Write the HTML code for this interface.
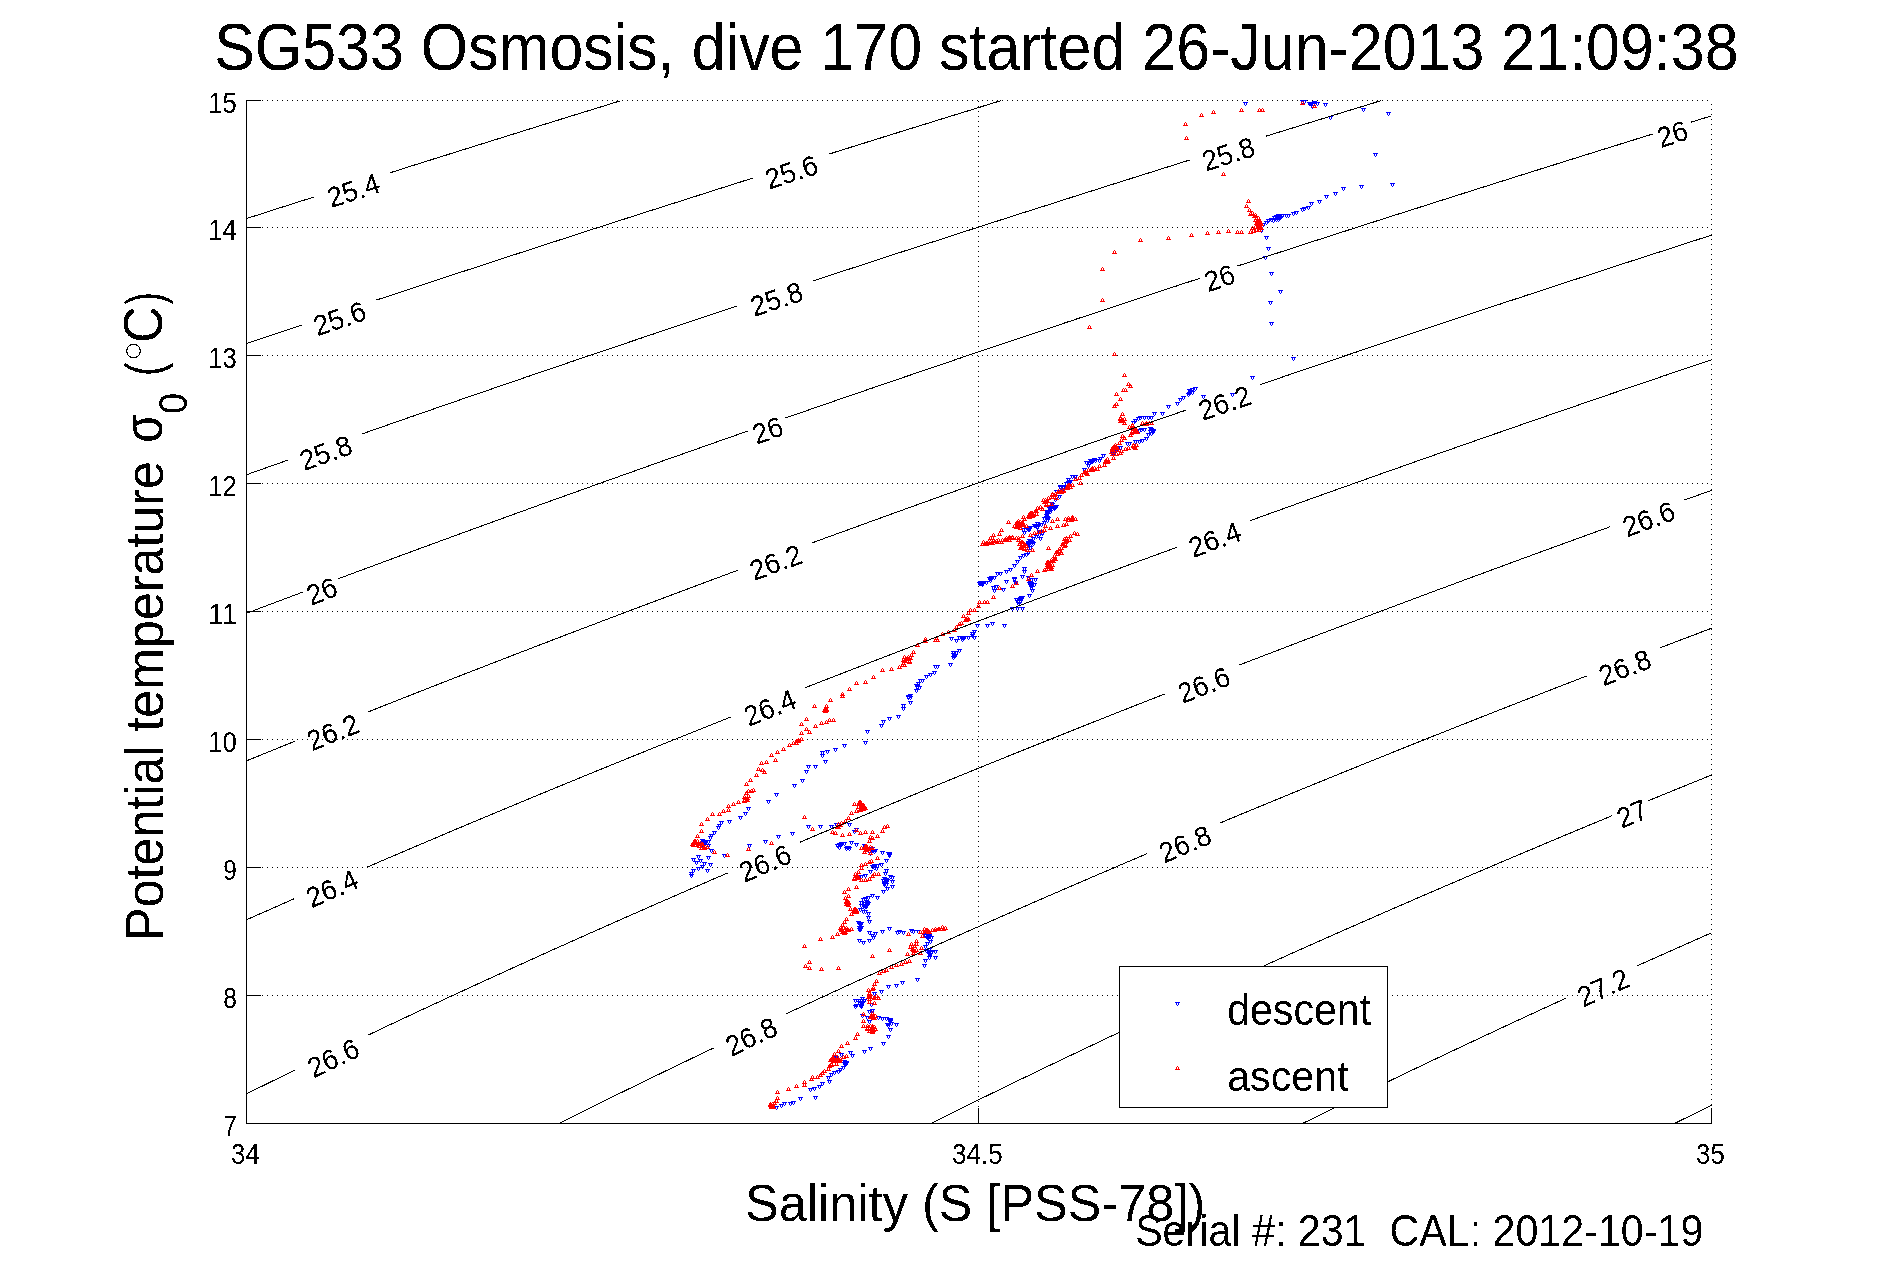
<!DOCTYPE html>
<html><head><meta charset="utf-8"><style>
html,body{margin:0;padding:0;background:#fff;}
svg{display:block;}
text{font-family:"Liberation Sans", sans-serif;fill:#000;filter:url(#bin);}
</style></head><body>
<svg width="1891" height="1262" viewBox="0 0 1891 1262">
<defs><filter id="bin" x="-5%" y="-20%" width="110%" height="140%" color-interpolation-filters="sRGB"><feComponentTransfer><feFuncA type="discrete" tableValues="0 1"/></feComponentTransfer></filter></defs>
<rect x="0" y="0" width="1891" height="1262" fill="#fff"/>
<text transform="matrix(0.93765 0.00000 0.00000 1.01818 214.187 69.855)" font-size="65">SG533 Osmosis, dive 170 started 26-Jun-2013 21:09:38</text>
<path d="M247 100.5H1712M247 227.5H1712M247 355.5H1712M247 483.5H1712M247 611.5H1712M247 739.5H1712M247 867.5H1712M247 995.5H1712M978.5 101V1123M1711.5 104V1123" stroke="#000" stroke-width="1" stroke-dasharray="1 4" fill="none" shape-rendering="crispEdges"/>
<text transform="translate(352.00 184.19) rotate(-17.64) translate(-0.5 6.5) scale(0.92 1)" font-size="30" text-anchor="middle" dominant-baseline="central">25.4</text>
<text transform="translate(338.00 312.20) rotate(-18.46) translate(-0.5 6.5) scale(0.92 1)" font-size="30" text-anchor="middle" dominant-baseline="central">25.6</text>
<text transform="translate(790.00 165.69) rotate(-17.49) translate(-0.5 6.5) scale(0.92 1)" font-size="30" text-anchor="middle" dominant-baseline="central">25.6</text>
<text transform="translate(324.00 446.60) rotate(-19.41) translate(-0.5 6.5) scale(0.92 1)" font-size="30" text-anchor="middle" dominant-baseline="central">25.8</text>
<text transform="translate(775.00 292.82) rotate(-18.28) translate(-0.5 6.5) scale(0.92 1)" font-size="30" text-anchor="middle" dominant-baseline="central">25.8</text>
<text transform="translate(1227.00 147.69) rotate(-17.35) translate(-0.5 6.5) scale(0.92 1)" font-size="30" text-anchor="middle" dominant-baseline="central">25.8</text>
<text transform="translate(320.00 584.91) rotate(-20.52) translate(-0.5 6.5) scale(0.92 1)" font-size="30" text-anchor="middle" dominant-baseline="central">26</text>
<text transform="translate(766.00 424.06) rotate(-19.19) translate(-0.5 6.5) scale(0.92 1)" font-size="30" text-anchor="middle" dominant-baseline="central">26</text>
<text transform="translate(1218.00 271.70) rotate(-18.10) translate(-0.5 6.5) scale(0.92 1)" font-size="30" text-anchor="middle" dominant-baseline="central">26</text>
<text transform="translate(1671.00 127.70) rotate(-17.19) translate(-0.5 6.5) scale(0.92 1)" font-size="30" text-anchor="middle" dominant-baseline="central">26</text>
<text transform="translate(331.00 726.04) rotate(-21.81) translate(-0.5 6.5) scale(0.92 1)" font-size="30" text-anchor="middle" dominant-baseline="central">26.2</text>
<text transform="translate(774.00 556.18) rotate(-20.22) translate(-0.5 6.5) scale(0.92 1)" font-size="30" text-anchor="middle" dominant-baseline="central">26.2</text>
<text transform="translate(1223.00 396.68) rotate(-18.94) translate(-0.5 6.5) scale(0.92 1)" font-size="30" text-anchor="middle" dominant-baseline="central">26.2</text>
<text transform="translate(330.00 882.45) rotate(-23.46) translate(-0.5 6.5) scale(0.92 1)" font-size="30" text-anchor="middle" dominant-baseline="central">26.4</text>
<text transform="translate(768.00 701.60) rotate(-21.50) translate(-0.5 6.5) scale(0.92 1)" font-size="30" text-anchor="middle" dominant-baseline="central">26.4</text>
<text transform="translate(1213.00 533.40) rotate(-19.97) translate(-0.5 6.5) scale(0.92 1)" font-size="30" text-anchor="middle" dominant-baseline="central">26.4</text>
<text transform="translate(331.00 1052.03) rotate(-25.61) translate(-0.5 6.5) scale(0.92 1)" font-size="30" text-anchor="middle" dominant-baseline="central">26.6</text>
<text transform="translate(763.00 857.14) rotate(-23.09) translate(-0.5 6.5) scale(0.92 1)" font-size="30" text-anchor="middle" dominant-baseline="central">26.6</text>
<text transform="translate(1202.00 678.76) rotate(-21.22) translate(-0.5 6.5) scale(0.92 1)" font-size="30" text-anchor="middle" dominant-baseline="central">26.6</text>
<text transform="translate(1647.00 512.76) rotate(-19.75) translate(-0.5 6.5) scale(0.92 1)" font-size="30" text-anchor="middle" dominant-baseline="central">26.6</text>
<text transform="translate(749.00 1030.50) rotate(-25.21) translate(-0.5 6.5) scale(0.92 1)" font-size="30" text-anchor="middle" dominant-baseline="central">26.8</text>
<text transform="translate(1183.00 837.79) rotate(-22.80) translate(-0.5 6.5) scale(0.92 1)" font-size="30" text-anchor="middle" dominant-baseline="central">26.8</text>
<text transform="translate(1623.00 661.28) rotate(-21.00) translate(-0.5 6.5) scale(0.92 1)" font-size="30" text-anchor="middle" dominant-baseline="central">26.8</text>
<text transform="translate(1630.00 807.60) rotate(-22.40) translate(-0.5 6.5) scale(0.92 1)" font-size="30" text-anchor="middle" dominant-baseline="central">27</text>
<text transform="translate(1601.00 981.47) rotate(-24.38) translate(-0.5 6.5) scale(0.92 1)" font-size="30" text-anchor="middle" dominant-baseline="central">27.2</text>
<path d="M246.5 100V1124M246 1123.5H1712M246 100.5H261M246 227.5H261M246 355.5H261M246 483.5H261M246 611.5H261M246 739.5H261M246 867.5H261M246 995.5H261M246 1123.5H261M246.5 1108V1124M978.5 1108V1124M1711.5 1108V1124" stroke="#000" stroke-width="1" fill="none" shape-rendering="crispEdges"/>
<text transform="matrix(0.89655 0.00000 0.00000 1.00000 208.207 113.000)" font-size="28.6">15</text>
<text transform="matrix(0.89655 0.00000 0.00000 1.00000 208.207 240.000)" font-size="28.6">14</text>
<text transform="matrix(0.89655 0.00000 0.00000 1.00000 208.207 368.000)" font-size="28.6">13</text>
<text transform="matrix(0.89655 0.00000 0.00000 1.00000 208.207 496.000)" font-size="28.6">12</text>
<text transform="matrix(1.00000 0.00000 0.00000 1.00000 208.000 624.000)" font-size="28.6">11</text>
<text transform="matrix(0.89655 0.00000 0.00000 1.00000 208.207 752.000)" font-size="28.6">10</text>
<text transform="matrix(0.85714 0.00000 0.00000 1.00000 223.143 880.000)" font-size="28.6">9</text>
<text transform="matrix(0.85714 0.00000 0.00000 1.00000 223.143 1008.000)" font-size="28.6">8</text>
<text transform="matrix(0.85714 0.00000 0.00000 1.00000 223.143 1136.000)" font-size="28.6">7</text>
<text transform="matrix(0.90000 0.00000 0.00000 1.00000 231.100 1164.000)" font-size="28.6">34</text>
<text transform="matrix(0.90741 0.00000 0.00000 1.00000 952.093 1164.000)" font-size="28.6">34.5</text>
<text transform="matrix(0.90000 0.00000 0.00000 1.00000 1696.100 1164.000)" font-size="28.6">35</text>
<path d="M774 1106h5v1h-5zM775 1107h1v2h-1zM777 1107h1v2h-1zM776 1109h1v1h-1zM779 1104h5v1h-5zM780 1105h1v2h-1zM782 1105h1v2h-1zM781 1107h1v1h-1zM782 1102h5v1h-5zM783 1103h1v2h-1zM785 1103h1v2h-1zM784 1105h1v1h-1zM788 1102h5v1h-5zM789 1103h1v2h-1zM791 1103h1v2h-1zM790 1105h1v1h-1zM791 1101h5v1h-5zM792 1102h1v2h-1zM794 1102h1v2h-1zM793 1104h1v1h-1zM798 1097h5v1h-5zM799 1098h1v2h-1zM801 1098h1v2h-1zM800 1100h1v1h-1zM813 1096h5v1h-5zM814 1097h1v2h-1zM816 1097h1v2h-1zM815 1099h1v1h-1zM808 1088h5v1h-5zM809 1089h1v2h-1zM811 1089h1v2h-1zM810 1091h1v1h-1zM812 1087h5v1h-5zM813 1088h1v2h-1zM815 1088h1v2h-1zM814 1090h1v1h-1zM817 1085h5v1h-5zM818 1086h1v2h-1zM820 1086h1v2h-1zM819 1088h1v1h-1zM820 1082h5v1h-5zM821 1083h1v2h-1zM823 1083h1v2h-1zM822 1085h1v1h-1zM827 1080h5v1h-5zM828 1081h1v2h-1zM830 1081h1v2h-1zM829 1083h1v1h-1zM826 1076h5v1h-5zM827 1077h1v2h-1zM829 1077h1v2h-1zM828 1079h1v1h-1zM829 1073h5v1h-5zM830 1074h1v2h-1zM832 1074h1v2h-1zM831 1076h1v1h-1zM832 1071h5v1h-5zM833 1072h1v2h-1zM835 1072h1v2h-1zM834 1074h1v1h-1zM836 1070h5v1h-5zM837 1071h1v2h-1zM839 1071h1v2h-1zM838 1073h1v1h-1zM838 1068h5v1h-5zM839 1069h1v2h-1zM841 1069h1v2h-1zM840 1071h1v1h-1zM841 1066h5v1h-5zM842 1067h1v2h-1zM844 1067h1v2h-1zM843 1069h1v1h-1zM843 1062h5v1h-5zM844 1063h1v2h-1zM846 1063h1v2h-1zM845 1065h1v1h-1zM842 1060h5v1h-5zM843 1061h1v2h-1zM845 1061h1v2h-1zM844 1063h1v1h-1zM844 1061h5v1h-5zM845 1062h1v2h-1zM847 1062h1v2h-1zM846 1064h1v1h-1zM834 1056h5v1h-5zM835 1057h1v2h-1zM837 1057h1v2h-1zM836 1059h1v1h-1zM839 1053h5v1h-5zM840 1054h1v2h-1zM842 1054h1v2h-1zM841 1056h1v1h-1zM848 1051h5v1h-5zM849 1052h1v2h-1zM851 1052h1v2h-1zM850 1054h1v1h-1zM850 1054h5v1h-5zM851 1055h1v2h-1zM853 1055h1v2h-1zM852 1057h1v1h-1zM862 1050h5v1h-5zM863 1051h1v2h-1zM865 1051h1v2h-1zM864 1053h1v1h-1zM868 1047h5v1h-5zM869 1048h1v2h-1zM871 1048h1v2h-1zM870 1050h1v1h-1zM881 1042h5v1h-5zM882 1043h1v2h-1zM884 1043h1v2h-1zM883 1045h1v1h-1zM886 1035h5v1h-5zM887 1036h1v2h-1zM889 1036h1v2h-1zM888 1038h1v1h-1zM888 1028h5v1h-5zM889 1029h1v2h-1zM891 1029h1v2h-1zM890 1031h1v1h-1zM886 1024h5v1h-5zM887 1025h1v2h-1zM889 1025h1v2h-1zM888 1027h1v1h-1zM888 1020h5v1h-5zM889 1021h1v2h-1zM891 1021h1v2h-1zM890 1023h1v1h-1zM894 1023h5v1h-5zM895 1024h1v2h-1zM897 1024h1v2h-1zM896 1026h1v1h-1zM888 1018h5v1h-5zM889 1019h1v2h-1zM891 1019h1v2h-1zM890 1021h1v1h-1zM884 1017h5v1h-5zM885 1018h1v2h-1zM887 1018h1v2h-1zM886 1020h1v1h-1zM880 1017h5v1h-5zM881 1018h1v2h-1zM883 1018h1v2h-1zM882 1020h1v1h-1zM876 1016h5v1h-5zM877 1017h1v2h-1zM879 1017h1v2h-1zM878 1019h1v1h-1zM867 1020h5v1h-5zM868 1021h1v2h-1zM870 1021h1v2h-1zM869 1023h1v1h-1zM865 1016h5v1h-5zM866 1017h1v2h-1zM868 1017h1v2h-1zM867 1019h1v1h-1zM867 1010h5v1h-5zM868 1011h1v2h-1zM870 1011h1v2h-1zM869 1013h1v1h-1zM870 1009h5v1h-5zM871 1010h1v2h-1zM873 1010h1v2h-1zM872 1012h1v1h-1zM860 1014h5v1h-5zM861 1015h1v2h-1zM863 1015h1v2h-1zM862 1017h1v1h-1zM869 1003h5v1h-5zM870 1004h1v2h-1zM872 1004h1v2h-1zM871 1006h1v1h-1zM853 1005h5v1h-5zM854 1006h1v2h-1zM856 1006h1v2h-1zM855 1008h1v1h-1zM857 1001h5v1h-5zM858 1002h1v2h-1zM860 1002h1v2h-1zM859 1004h1v1h-1zM853 999h5v1h-5zM854 1000h1v2h-1zM856 1000h1v2h-1zM855 1002h1v1h-1zM860 997h5v1h-5zM861 998h1v2h-1zM863 998h1v2h-1zM862 1000h1v1h-1zM862 999h5v1h-5zM863 1000h1v2h-1zM865 1000h1v2h-1zM864 1002h1v1h-1zM858 1004h5v1h-5zM859 1005h1v2h-1zM861 1005h1v2h-1zM860 1007h1v1h-1zM872 992h5v1h-5zM873 993h1v2h-1zM875 993h1v2h-1zM874 995h1v1h-1zM879 990h5v1h-5zM880 991h1v2h-1zM882 991h1v2h-1zM881 993h1v1h-1zM886 985h5v1h-5zM887 986h1v2h-1zM889 986h1v2h-1zM888 988h1v1h-1zM894 984h5v1h-5zM895 985h1v2h-1zM897 985h1v2h-1zM896 987h1v1h-1zM900 981h5v1h-5zM901 982h1v2h-1zM903 982h1v2h-1zM902 984h1v1h-1zM915 978h5v1h-5zM916 979h1v2h-1zM918 979h1v2h-1zM917 981h1v1h-1zM922 964h5v1h-5zM923 965h1v2h-1zM925 965h1v2h-1zM924 967h1v1h-1zM923 959h5v1h-5zM924 960h1v2h-1zM926 960h1v2h-1zM925 962h1v1h-1zM766 800h5v1h-5zM767 801h1v2h-1zM769 801h1v2h-1zM768 803h1v1h-1zM763 840h5v1h-5zM764 841h1v2h-1zM766 841h1v2h-1zM765 843h1v1h-1zM776 835h5v1h-5zM777 836h1v2h-1zM779 836h1v2h-1zM778 838h1v1h-1zM790 832h5v1h-5zM791 833h1v2h-1zM793 833h1v2h-1zM792 835h1v1h-1zM806 825h5v1h-5zM807 826h1v2h-1zM809 826h1v2h-1zM808 828h1v1h-1zM818 825h5v1h-5zM819 826h1v2h-1zM821 826h1v2h-1zM820 828h1v1h-1zM829 825h5v1h-5zM830 826h1v2h-1zM832 826h1v2h-1zM831 828h1v1h-1zM834 823h5v1h-5zM835 824h1v2h-1zM837 824h1v2h-1zM836 826h1v1h-1zM847 823h5v1h-5zM848 824h1v2h-1zM850 824h1v2h-1zM849 826h1v1h-1zM852 830h5v1h-5zM853 831h1v2h-1zM855 831h1v2h-1zM854 833h1v1h-1zM854 828h5v1h-5zM855 829h1v2h-1zM857 829h1v2h-1zM856 831h1v1h-1zM835 844h5v1h-5zM836 845h1v2h-1zM838 845h1v2h-1zM837 847h1v1h-1zM839 842h5v1h-5zM840 843h1v2h-1zM842 843h1v2h-1zM841 845h1v1h-1zM842 842h5v1h-5zM843 843h1v2h-1zM845 843h1v2h-1zM844 845h1v1h-1zM846 846h5v1h-5zM847 847h1v2h-1zM849 847h1v2h-1zM848 849h1v1h-1zM847 847h5v1h-5zM848 848h1v2h-1zM850 848h1v2h-1zM849 850h1v1h-1zM849 841h5v1h-5zM850 842h1v2h-1zM852 842h1v2h-1zM851 844h1v1h-1zM854 843h5v1h-5zM855 844h1v2h-1zM857 844h1v2h-1zM856 846h1v1h-1zM862 844h5v1h-5zM863 845h1v2h-1zM865 845h1v2h-1zM864 847h1v1h-1zM863 849h5v1h-5zM864 850h1v2h-1zM866 850h1v2h-1zM865 852h1v1h-1zM867 850h5v1h-5zM868 851h1v2h-1zM870 851h1v2h-1zM869 853h1v1h-1zM870 849h5v1h-5zM871 850h1v2h-1zM873 850h1v2h-1zM872 852h1v1h-1zM873 849h5v1h-5zM874 850h1v2h-1zM876 850h1v2h-1zM875 852h1v1h-1zM880 851h5v1h-5zM881 852h1v2h-1zM883 852h1v2h-1zM882 854h1v1h-1zM886 852h5v1h-5zM887 853h1v2h-1zM889 853h1v2h-1zM888 855h1v1h-1zM887 854h5v1h-5zM888 855h1v2h-1zM890 855h1v2h-1zM889 857h1v1h-1zM884 859h5v1h-5zM885 860h1v2h-1zM887 860h1v2h-1zM886 862h1v1h-1zM879 863h5v1h-5zM880 864h1v2h-1zM882 864h1v2h-1zM881 866h1v1h-1zM870 865h5v1h-5zM871 866h1v2h-1zM873 866h1v2h-1zM872 868h1v1h-1zM872 866h5v1h-5zM873 867h1v2h-1zM875 867h1v2h-1zM874 869h1v1h-1zM875 864h5v1h-5zM876 865h1v2h-1zM878 865h1v2h-1zM877 867h1v1h-1zM868 870h5v1h-5zM869 871h1v2h-1zM871 871h1v2h-1zM870 873h1v1h-1zM863 874h5v1h-5zM864 875h1v2h-1zM866 875h1v2h-1zM865 877h1v1h-1zM859 875h5v1h-5zM860 876h1v2h-1zM862 876h1v2h-1zM861 878h1v1h-1zM884 869h5v1h-5zM885 870h1v2h-1zM887 870h1v2h-1zM886 872h1v1h-1zM883 872h5v1h-5zM884 873h1v2h-1zM886 873h1v2h-1zM885 875h1v1h-1zM888 875h5v1h-5zM889 876h1v2h-1zM891 876h1v2h-1zM890 878h1v1h-1zM890 876h5v1h-5zM891 877h1v2h-1zM893 877h1v2h-1zM892 879h1v1h-1zM885 879h5v1h-5zM886 880h1v2h-1zM888 880h1v2h-1zM887 882h1v1h-1zM882 882h5v1h-5zM883 883h1v2h-1zM885 883h1v2h-1zM884 885h1v1h-1zM884 883h5v1h-5zM885 884h1v2h-1zM887 884h1v2h-1zM886 886h1v1h-1zM890 880h5v1h-5zM891 881h1v2h-1zM893 881h1v2h-1zM892 883h1v1h-1zM890 885h5v1h-5zM891 886h1v2h-1zM893 886h1v2h-1zM892 888h1v1h-1zM885 887h5v1h-5zM886 888h1v2h-1zM888 888h1v2h-1zM887 890h1v1h-1zM881 890h5v1h-5zM882 891h1v2h-1zM884 891h1v2h-1zM883 893h1v1h-1zM875 896h5v1h-5zM876 897h1v2h-1zM878 897h1v2h-1zM877 899h1v1h-1zM870 894h5v1h-5zM871 895h1v2h-1zM873 895h1v2h-1zM872 897h1v1h-1zM866 896h5v1h-5zM867 897h1v2h-1zM869 897h1v2h-1zM868 899h1v1h-1zM863 897h5v1h-5zM864 898h1v2h-1zM866 898h1v2h-1zM865 900h1v1h-1zM861 898h5v1h-5zM862 899h1v2h-1zM864 899h1v2h-1zM863 901h1v1h-1zM859 901h5v1h-5zM860 902h1v2h-1zM862 902h1v2h-1zM861 904h1v1h-1zM862 902h5v1h-5zM863 903h1v2h-1zM865 903h1v2h-1zM864 905h1v1h-1zM859 904h5v1h-5zM860 905h1v2h-1zM862 905h1v2h-1zM861 907h1v1h-1zM858 908h5v1h-5zM859 909h1v2h-1zM861 909h1v2h-1zM860 911h1v1h-1zM861 910h5v1h-5zM862 911h1v2h-1zM864 911h1v2h-1zM863 913h1v1h-1zM863 910h5v1h-5zM864 911h1v2h-1zM866 911h1v2h-1zM865 913h1v1h-1zM866 912h5v1h-5zM867 913h1v2h-1zM869 913h1v2h-1zM868 915h1v1h-1zM866 916h5v1h-5zM867 917h1v2h-1zM869 917h1v2h-1zM868 919h1v1h-1zM867 920h5v1h-5zM868 921h1v2h-1zM870 921h1v2h-1zM869 923h1v1h-1zM856 921h5v1h-5zM857 922h1v2h-1zM859 922h1v2h-1zM858 924h1v1h-1zM859 922h5v1h-5zM860 923h1v2h-1zM862 923h1v2h-1zM861 925h1v1h-1zM857 926h5v1h-5zM858 927h1v2h-1zM860 927h1v2h-1zM859 929h1v1h-1zM857 928h5v1h-5zM858 929h1v2h-1zM860 929h1v2h-1zM859 931h1v1h-1zM867 931h5v1h-5zM868 932h1v2h-1zM870 932h1v2h-1zM869 934h1v1h-1zM870 934h5v1h-5zM871 935h1v2h-1zM873 935h1v2h-1zM872 937h1v1h-1zM873 932h5v1h-5zM874 933h1v2h-1zM876 933h1v2h-1zM875 935h1v1h-1zM880 930h5v1h-5zM881 931h1v2h-1zM883 931h1v2h-1zM882 933h1v1h-1zM887 927h5v1h-5zM888 928h1v2h-1zM890 928h1v2h-1zM889 930h1v1h-1zM895 931h5v1h-5zM896 932h1v2h-1zM898 932h1v2h-1zM897 934h1v1h-1zM897 930h5v1h-5zM898 931h1v2h-1zM900 931h1v2h-1zM899 933h1v1h-1zM901 931h5v1h-5zM902 932h1v2h-1zM904 932h1v2h-1zM903 934h1v1h-1zM909 929h5v1h-5zM910 930h1v2h-1zM912 930h1v2h-1zM911 932h1v1h-1zM911 930h5v1h-5zM912 931h1v2h-1zM914 931h1v2h-1zM913 933h1v1h-1zM916 930h5v1h-5zM917 931h1v2h-1zM919 931h1v2h-1zM918 933h1v1h-1zM857 939h5v1h-5zM858 940h1v2h-1zM860 940h1v2h-1zM859 942h1v1h-1zM861 941h5v1h-5zM862 942h1v2h-1zM864 942h1v2h-1zM863 944h1v1h-1zM867 939h5v1h-5zM868 940h1v2h-1zM870 940h1v2h-1zM869 942h1v1h-1zM871 936h5v1h-5zM872 937h1v2h-1zM874 937h1v2h-1zM873 939h1v1h-1zM923 934h5v1h-5zM924 935h1v2h-1zM926 935h1v2h-1zM925 937h1v1h-1zM927 935h5v1h-5zM928 936h1v2h-1zM930 936h1v2h-1zM929 938h1v1h-1zM929 936h5v1h-5zM930 937h1v2h-1zM932 937h1v2h-1zM931 939h1v1h-1zM928 940h5v1h-5zM929 941h1v2h-1zM931 941h1v2h-1zM930 943h1v1h-1zM925 942h5v1h-5zM926 943h1v2h-1zM928 943h1v2h-1zM927 945h1v1h-1zM923 945h5v1h-5zM924 946h1v2h-1zM926 946h1v2h-1zM925 948h1v1h-1zM924 949h5v1h-5zM925 950h1v2h-1zM927 950h1v2h-1zM926 952h1v1h-1zM929 951h5v1h-5zM930 952h1v2h-1zM932 952h1v2h-1zM931 954h1v1h-1zM933 950h5v1h-5zM934 951h1v2h-1zM936 951h1v2h-1zM935 953h1v1h-1zM933 956h5v1h-5zM934 957h1v2h-1zM936 957h1v2h-1zM935 959h1v1h-1zM927 956h5v1h-5zM928 957h1v2h-1zM930 957h1v2h-1zM929 959h1v1h-1zM746 807h5v1h-5zM747 808h1v2h-1zM749 808h1v2h-1zM748 810h1v1h-1zM743 812h5v1h-5zM744 813h1v2h-1zM746 813h1v2h-1zM745 815h1v1h-1zM738 816h5v1h-5zM739 817h1v2h-1zM741 817h1v2h-1zM740 819h1v1h-1zM727 820h5v1h-5zM728 821h1v2h-1zM730 821h1v2h-1zM729 823h1v1h-1zM719 821h5v1h-5zM720 822h1v2h-1zM722 822h1v2h-1zM721 824h1v1h-1zM717 824h5v1h-5zM718 825h1v2h-1zM720 825h1v2h-1zM719 827h1v1h-1zM716 826h5v1h-5zM717 827h1v2h-1zM719 827h1v2h-1zM718 829h1v1h-1zM712 831h5v1h-5zM713 832h1v2h-1zM715 832h1v2h-1zM714 834h1v1h-1zM709 834h5v1h-5zM710 835h1v2h-1zM712 835h1v2h-1zM711 837h1v1h-1zM708 836h5v1h-5zM709 837h1v2h-1zM711 837h1v2h-1zM710 839h1v1h-1zM706 840h5v1h-5zM707 841h1v2h-1zM709 841h1v2h-1zM708 843h1v1h-1zM703 841h5v1h-5zM704 842h1v2h-1zM706 842h1v2h-1zM705 844h1v1h-1zM700 841h5v1h-5zM701 842h1v2h-1zM703 842h1v2h-1zM702 844h1v1h-1zM697 842h5v1h-5zM698 843h1v2h-1zM700 843h1v2h-1zM699 845h1v1h-1zM706 844h5v1h-5zM707 845h1v2h-1zM709 845h1v2h-1zM708 847h1v1h-1zM709 849h5v1h-5zM710 850h1v2h-1zM712 850h1v2h-1zM711 852h1v1h-1zM722 854h5v1h-5zM723 855h1v2h-1zM725 855h1v2h-1zM724 857h1v1h-1zM747 844h5v1h-5zM748 845h1v2h-1zM750 845h1v2h-1zM749 847h1v1h-1zM696 855h5v1h-5zM697 856h1v2h-1zM699 856h1v2h-1zM698 858h1v1h-1zM706 856h5v1h-5zM707 857h1v2h-1zM709 857h1v2h-1zM708 859h1v1h-1zM691 858h5v1h-5zM692 859h1v2h-1zM694 859h1v2h-1zM693 861h1v1h-1zM694 861h5v1h-5zM695 862h1v2h-1zM697 862h1v2h-1zM696 864h1v1h-1zM698 859h5v1h-5zM699 860h1v2h-1zM701 860h1v2h-1zM700 862h1v1h-1zM702 862h5v1h-5zM703 863h1v2h-1zM705 863h1v2h-1zM704 865h1v1h-1zM708 863h5v1h-5zM709 864h1v2h-1zM711 864h1v2h-1zM710 866h1v1h-1zM700 865h5v1h-5zM701 866h1v2h-1zM703 866h1v2h-1zM702 868h1v1h-1zM696 867h5v1h-5zM697 868h1v2h-1zM699 868h1v2h-1zM698 870h1v1h-1zM691 869h5v1h-5zM692 870h1v2h-1zM694 870h1v2h-1zM693 872h1v1h-1zM689 872h5v1h-5zM690 873h1v2h-1zM692 873h1v2h-1zM691 875h1v1h-1zM689 874h5v1h-5zM690 875h1v2h-1zM692 875h1v2h-1zM691 877h1v1h-1zM705 869h5v1h-5zM706 870h1v2h-1zM708 870h1v2h-1zM707 872h1v1h-1zM774 793h5v1h-5zM775 794h1v2h-1zM777 794h1v2h-1zM776 796h1v1h-1zM792 784h5v1h-5zM793 785h1v2h-1zM795 785h1v2h-1zM794 787h1v1h-1zM800 779h5v1h-5zM801 780h1v2h-1zM803 780h1v2h-1zM802 782h1v1h-1zM804 770h5v1h-5zM805 771h1v2h-1zM807 771h1v2h-1zM806 773h1v1h-1zM806 765h5v1h-5zM807 766h1v2h-1zM809 766h1v2h-1zM808 768h1v1h-1zM813 765h5v1h-5zM814 766h1v2h-1zM816 766h1v2h-1zM815 768h1v1h-1zM823 760h5v1h-5zM824 761h1v2h-1zM826 761h1v2h-1zM825 763h1v1h-1zM820 754h5v1h-5zM821 755h1v2h-1zM823 755h1v2h-1zM822 757h1v1h-1zM820 751h5v1h-5zM821 752h1v2h-1zM823 752h1v2h-1zM822 754h1v1h-1zM825 750h5v1h-5zM826 751h1v2h-1zM828 751h1v2h-1zM827 753h1v1h-1zM833 748h5v1h-5zM834 749h1v2h-1zM836 749h1v2h-1zM835 751h1v1h-1zM842 744h5v1h-5zM843 745h1v2h-1zM845 745h1v2h-1zM844 747h1v1h-1zM863 741h5v1h-5zM864 742h1v2h-1zM866 742h1v2h-1zM865 744h1v1h-1zM865 730h5v1h-5zM866 731h1v2h-1zM868 731h1v2h-1zM867 733h1v1h-1zM879 724h5v1h-5zM880 725h1v2h-1zM882 725h1v2h-1zM881 727h1v1h-1zM881 720h5v1h-5zM882 721h1v2h-1zM884 721h1v2h-1zM883 723h1v1h-1zM887 717h5v1h-5zM888 718h1v2h-1zM890 718h1v2h-1zM889 720h1v1h-1zM896 715h5v1h-5zM897 716h1v2h-1zM899 716h1v2h-1zM898 718h1v1h-1zM901 707h5v1h-5zM902 708h1v2h-1zM904 708h1v2h-1zM903 710h1v1h-1zM901 704h5v1h-5zM902 705h1v2h-1zM904 705h1v2h-1zM903 707h1v1h-1zM908 701h5v1h-5zM909 702h1v2h-1zM911 702h1v2h-1zM910 704h1v1h-1zM906 696h5v1h-5zM907 697h1v2h-1zM909 697h1v2h-1zM908 699h1v1h-1zM908 694h5v1h-5zM909 695h1v2h-1zM911 695h1v2h-1zM910 697h1v1h-1zM914 689h5v1h-5zM915 690h1v2h-1zM917 690h1v2h-1zM916 692h1v1h-1zM915 686h5v1h-5zM916 687h1v2h-1zM918 687h1v2h-1zM917 689h1v1h-1zM916 682h5v1h-5zM917 683h1v2h-1zM919 683h1v2h-1zM918 685h1v1h-1zM918 679h5v1h-5zM919 680h1v2h-1zM921 680h1v2h-1zM920 682h1v1h-1zM920 679h5v1h-5zM921 680h1v2h-1zM923 680h1v2h-1zM922 682h1v1h-1zM924 675h5v1h-5zM925 676h1v2h-1zM927 676h1v2h-1zM926 678h1v1h-1zM928 673h5v1h-5zM929 674h1v2h-1zM931 674h1v2h-1zM930 676h1v1h-1zM932 671h5v1h-5zM933 672h1v2h-1zM935 672h1v2h-1zM934 674h1v1h-1zM933 665h5v1h-5zM934 666h1v2h-1zM936 666h1v2h-1zM935 668h1v1h-1zM935 665h5v1h-5zM936 666h1v2h-1zM938 666h1v2h-1zM937 668h1v1h-1zM948 663h5v1h-5zM949 664h1v2h-1zM951 664h1v2h-1zM950 666h1v1h-1zM951 656h5v1h-5zM952 657h1v2h-1zM954 657h1v2h-1zM953 659h1v1h-1zM951 653h5v1h-5zM952 654h1v2h-1zM954 654h1v2h-1zM953 656h1v1h-1zM954 651h5v1h-5zM955 652h1v2h-1zM957 652h1v2h-1zM956 654h1v1h-1zM957 649h5v1h-5zM958 650h1v2h-1zM960 650h1v2h-1zM959 652h1v1h-1zM954 639h5v1h-5zM955 640h1v2h-1zM957 640h1v2h-1zM956 642h1v1h-1zM998 572h5v1h-5zM999 573h1v2h-1zM1001 573h1v2h-1zM1000 575h1v1h-1zM1004 570h5v1h-5zM1005 571h1v2h-1zM1007 571h1v2h-1zM1006 573h1v1h-1zM1008 568h5v1h-5zM1009 569h1v2h-1zM1011 569h1v2h-1zM1010 571h1v1h-1zM1012 564h5v1h-5zM1013 565h1v2h-1zM1015 565h1v2h-1zM1014 567h1v1h-1zM1015 560h5v1h-5zM1016 561h1v2h-1zM1018 561h1v2h-1zM1017 563h1v1h-1zM1018 556h5v1h-5zM1019 557h1v2h-1zM1021 557h1v2h-1zM1020 559h1v1h-1zM1021 554h5v1h-5zM1022 555h1v2h-1zM1024 555h1v2h-1zM1023 557h1v1h-1zM1024 553h5v1h-5zM1025 554h1v2h-1zM1027 554h1v2h-1zM1026 556h1v1h-1zM1026 551h5v1h-5zM1027 552h1v2h-1zM1029 552h1v2h-1zM1028 554h1v1h-1zM1025 549h5v1h-5zM1026 550h1v2h-1zM1028 550h1v2h-1zM1027 552h1v1h-1zM1028 546h5v1h-5zM1029 547h1v2h-1zM1031 547h1v2h-1zM1030 549h1v1h-1zM1026 543h5v1h-5zM1027 544h1v2h-1zM1029 544h1v2h-1zM1028 546h1v1h-1zM1029 540h5v1h-5zM1030 541h1v2h-1zM1032 541h1v2h-1zM1031 543h1v1h-1zM1031 537h5v1h-5zM1032 538h1v2h-1zM1034 538h1v2h-1zM1033 540h1v1h-1zM1034 535h5v1h-5zM1035 536h1v2h-1zM1037 536h1v2h-1zM1036 538h1v1h-1zM1038 537h5v1h-5zM1039 538h1v2h-1zM1041 538h1v2h-1zM1040 540h1v1h-1zM1037 533h5v1h-5zM1038 534h1v2h-1zM1040 534h1v2h-1zM1039 536h1v1h-1zM1040 531h5v1h-5zM1041 532h1v2h-1zM1043 532h1v2h-1zM1042 534h1v1h-1zM1022 531h5v1h-5zM1023 532h1v2h-1zM1025 532h1v2h-1zM1024 534h1v1h-1zM1021 528h5v1h-5zM1022 529h1v2h-1zM1024 529h1v2h-1zM1023 531h1v1h-1zM1025 527h5v1h-5zM1026 528h1v2h-1zM1028 528h1v2h-1zM1027 530h1v1h-1zM1028 526h5v1h-5zM1029 527h1v2h-1zM1031 527h1v2h-1zM1030 529h1v1h-1zM1032 524h5v1h-5zM1033 525h1v2h-1zM1035 525h1v2h-1zM1034 527h1v1h-1zM1036 524h5v1h-5zM1037 525h1v2h-1zM1039 525h1v2h-1zM1038 527h1v1h-1zM1039 523h5v1h-5zM1040 524h1v2h-1zM1042 524h1v2h-1zM1041 526h1v1h-1zM1042 521h5v1h-5zM1043 522h1v2h-1zM1045 522h1v2h-1zM1044 524h1v1h-1zM1042 517h5v1h-5zM1043 518h1v2h-1zM1045 518h1v2h-1zM1044 520h1v1h-1zM1044 514h5v1h-5zM1045 515h1v2h-1zM1047 515h1v2h-1zM1046 517h1v1h-1zM1046 511h5v1h-5zM1047 512h1v2h-1zM1049 512h1v2h-1zM1048 514h1v1h-1zM1047 507h5v1h-5zM1048 508h1v2h-1zM1050 508h1v2h-1zM1049 510h1v1h-1zM1051 506h5v1h-5zM1052 507h1v2h-1zM1054 507h1v2h-1zM1053 509h1v1h-1zM1054 505h5v1h-5zM1055 506h1v2h-1zM1057 506h1v2h-1zM1056 508h1v1h-1zM1049 502h5v1h-5zM1050 503h1v2h-1zM1052 503h1v2h-1zM1051 505h1v1h-1zM1053 498h5v1h-5zM1054 499h1v2h-1zM1056 499h1v2h-1zM1055 501h1v1h-1zM1057 495h5v1h-5zM1058 496h1v2h-1zM1060 496h1v2h-1zM1059 498h1v1h-1zM1054 490h5v1h-5zM1055 491h1v2h-1zM1057 491h1v2h-1zM1056 493h1v1h-1zM1058 486h5v1h-5zM1059 487h1v2h-1zM1061 487h1v2h-1zM1060 489h1v1h-1zM1061 485h5v1h-5zM1062 486h1v2h-1zM1064 486h1v2h-1zM1063 488h1v1h-1zM1064 482h5v1h-5zM1065 483h1v2h-1zM1067 483h1v2h-1zM1066 485h1v1h-1zM1068 480h5v1h-5zM1069 481h1v2h-1zM1071 481h1v2h-1zM1070 483h1v1h-1zM1070 475h5v1h-5zM1071 476h1v2h-1zM1073 476h1v2h-1zM1072 478h1v1h-1zM1073 475h5v1h-5zM1074 476h1v2h-1zM1076 476h1v2h-1zM1075 478h1v1h-1zM1082 468h5v1h-5zM1083 469h1v2h-1zM1085 469h1v2h-1zM1084 471h1v1h-1zM1086 464h5v1h-5zM1087 465h1v2h-1zM1089 465h1v2h-1zM1088 467h1v1h-1zM1089 460h5v1h-5zM1090 461h1v2h-1zM1092 461h1v2h-1zM1091 463h1v1h-1zM1093 459h5v1h-5zM1094 460h1v2h-1zM1096 460h1v2h-1zM1095 462h1v1h-1zM1097 459h5v1h-5zM1098 460h1v2h-1zM1100 460h1v2h-1zM1099 462h1v1h-1zM1084 461h5v1h-5zM1085 462h1v2h-1zM1087 462h1v2h-1zM1086 464h1v1h-1zM1022 567h5v1h-5zM1023 568h1v2h-1zM1025 568h1v2h-1zM1024 570h1v1h-1zM1022 570h5v1h-5zM1023 571h1v2h-1zM1025 571h1v2h-1zM1024 573h1v1h-1zM1020 575h5v1h-5zM1021 576h1v2h-1zM1023 576h1v2h-1zM1022 578h1v1h-1zM1026 576h5v1h-5zM1027 577h1v2h-1zM1029 577h1v2h-1zM1028 579h1v1h-1zM1012 577h5v1h-5zM1013 578h1v2h-1zM1015 578h1v2h-1zM1014 580h1v1h-1zM949 637h5v1h-5zM950 638h1v2h-1zM952 638h1v2h-1zM951 640h1v1h-1zM957 636h5v1h-5zM958 637h1v2h-1zM960 637h1v2h-1zM959 639h1v1h-1zM962 636h5v1h-5zM963 637h1v2h-1zM965 637h1v2h-1zM964 639h1v1h-1zM966 636h5v1h-5zM967 637h1v2h-1zM969 637h1v2h-1zM968 639h1v1h-1zM970 634h5v1h-5zM971 635h1v2h-1zM973 635h1v2h-1zM972 637h1v1h-1zM972 636h5v1h-5zM973 637h1v2h-1zM975 637h1v2h-1zM974 639h1v1h-1zM970 632h5v1h-5zM971 633h1v2h-1zM973 633h1v2h-1zM972 635h1v1h-1zM972 630h5v1h-5zM973 631h1v2h-1zM975 631h1v2h-1zM974 633h1v1h-1zM975 624h5v1h-5zM976 625h1v2h-1zM978 625h1v2h-1zM977 627h1v1h-1zM985 624h5v1h-5zM986 625h1v2h-1zM988 625h1v2h-1zM987 627h1v1h-1zM990 622h5v1h-5zM991 623h1v2h-1zM993 623h1v2h-1zM992 625h1v1h-1zM1002 624h5v1h-5zM1003 625h1v2h-1zM1005 625h1v2h-1zM1004 627h1v1h-1zM1010 607h5v1h-5zM1011 608h1v2h-1zM1013 608h1v2h-1zM1012 610h1v1h-1zM1015 607h5v1h-5zM1016 608h1v2h-1zM1018 608h1v2h-1zM1017 610h1v1h-1zM1020 607h5v1h-5zM1021 608h1v2h-1zM1023 608h1v2h-1zM1022 610h1v1h-1zM1014 598h5v1h-5zM1015 599h1v2h-1zM1017 599h1v2h-1zM1016 601h1v1h-1zM1018 597h5v1h-5zM1019 598h1v2h-1zM1021 598h1v2h-1zM1020 600h1v1h-1zM1020 596h5v1h-5zM1021 597h1v2h-1zM1023 597h1v2h-1zM1022 599h1v1h-1zM1027 594h5v1h-5zM1028 595h1v2h-1zM1030 595h1v2h-1zM1029 597h1v1h-1zM1016 602h5v1h-5zM1017 603h1v2h-1zM1019 603h1v2h-1zM1018 605h1v1h-1zM977 582h5v1h-5zM978 583h1v2h-1zM980 583h1v2h-1zM979 585h1v1h-1zM980 581h5v1h-5zM981 582h1v2h-1zM983 582h1v2h-1zM982 584h1v1h-1zM984 581h5v1h-5zM985 582h1v2h-1zM987 582h1v2h-1zM986 584h1v1h-1zM988 577h5v1h-5zM989 578h1v2h-1zM991 578h1v2h-1zM990 580h1v1h-1zM992 576h5v1h-5zM993 577h1v2h-1zM995 577h1v2h-1zM994 579h1v1h-1zM995 572h5v1h-5zM996 573h1v2h-1zM998 573h1v2h-1zM997 575h1v1h-1zM991 586h5v1h-5zM992 587h1v2h-1zM994 587h1v2h-1zM993 589h1v1h-1zM994 585h5v1h-5zM995 586h1v2h-1zM997 586h1v2h-1zM996 588h1v1h-1zM992 589h5v1h-5zM993 590h1v2h-1zM995 590h1v2h-1zM994 592h1v1h-1zM1001 588h5v1h-5zM1002 589h1v2h-1zM1004 589h1v2h-1zM1003 591h1v1h-1zM1004 580h5v1h-5zM1005 581h1v2h-1zM1007 581h1v2h-1zM1006 583h1v1h-1zM1012 578h5v1h-5zM1013 579h1v2h-1zM1015 579h1v2h-1zM1014 581h1v1h-1zM1013 581h5v1h-5zM1014 582h1v2h-1zM1016 582h1v2h-1zM1015 584h1v1h-1zM1029 578h5v1h-5zM1030 579h1v2h-1zM1032 579h1v2h-1zM1031 581h1v1h-1zM1033 578h5v1h-5zM1034 579h1v2h-1zM1036 579h1v2h-1zM1035 581h1v1h-1zM1029 582h5v1h-5zM1030 583h1v2h-1zM1032 583h1v2h-1zM1031 585h1v1h-1zM1029 586h5v1h-5zM1030 587h1v2h-1zM1032 587h1v2h-1zM1031 589h1v1h-1zM1030 589h5v1h-5zM1031 590h1v2h-1zM1033 590h1v2h-1zM1032 592h1v1h-1zM1193 387h5v1h-5zM1194 388h1v2h-1zM1196 388h1v2h-1zM1195 390h1v1h-1zM1190 388h5v1h-5zM1191 389h1v2h-1zM1193 389h1v2h-1zM1192 391h1v1h-1zM1188 390h5v1h-5zM1189 391h1v2h-1zM1191 391h1v2h-1zM1190 393h1v1h-1zM1186 393h5v1h-5zM1187 394h1v2h-1zM1189 394h1v2h-1zM1188 396h1v1h-1zM1181 396h5v1h-5zM1182 397h1v2h-1zM1184 397h1v2h-1zM1183 399h1v1h-1zM1178 398h5v1h-5zM1179 399h1v2h-1zM1181 399h1v2h-1zM1180 401h1v1h-1zM1175 402h5v1h-5zM1176 403h1v2h-1zM1178 403h1v2h-1zM1177 405h1v1h-1zM1166 405h5v1h-5zM1167 406h1v2h-1zM1169 406h1v2h-1zM1168 408h1v1h-1zM1160 412h5v1h-5zM1161 413h1v2h-1zM1163 413h1v2h-1zM1162 415h1v1h-1zM1152 412h5v1h-5zM1153 413h1v2h-1zM1155 413h1v2h-1zM1154 415h1v1h-1zM1149 416h5v1h-5zM1150 417h1v2h-1zM1152 417h1v2h-1zM1151 419h1v1h-1zM1146 416h5v1h-5zM1147 417h1v2h-1zM1149 417h1v2h-1zM1148 419h1v1h-1zM1142 416h5v1h-5zM1143 417h1v2h-1zM1145 417h1v2h-1zM1144 419h1v1h-1zM1138 416h5v1h-5zM1139 417h1v2h-1zM1141 417h1v2h-1zM1140 419h1v1h-1zM1136 417h5v1h-5zM1137 418h1v2h-1zM1139 418h1v2h-1zM1138 420h1v1h-1zM1133 419h5v1h-5zM1134 420h1v2h-1zM1136 420h1v2h-1zM1135 422h1v1h-1zM1131 421h5v1h-5zM1132 422h1v2h-1zM1134 422h1v2h-1zM1133 424h1v1h-1zM1149 428h5v1h-5zM1150 429h1v2h-1zM1152 429h1v2h-1zM1151 431h1v1h-1zM1151 429h5v1h-5zM1152 430h1v2h-1zM1154 430h1v2h-1zM1153 432h1v1h-1zM1148 430h5v1h-5zM1149 431h1v2h-1zM1151 431h1v2h-1zM1150 433h1v1h-1zM1146 433h5v1h-5zM1147 434h1v2h-1zM1149 434h1v2h-1zM1148 436h1v1h-1zM1142 428h5v1h-5zM1143 429h1v2h-1zM1145 429h1v2h-1zM1144 431h1v1h-1zM1139 428h5v1h-5zM1140 429h1v2h-1zM1142 429h1v2h-1zM1141 431h1v1h-1zM1137 429h5v1h-5zM1138 430h1v2h-1zM1140 430h1v2h-1zM1139 432h1v1h-1zM1144 437h5v1h-5zM1145 438h1v2h-1zM1147 438h1v2h-1zM1146 440h1v1h-1zM1140 439h5v1h-5zM1141 440h1v2h-1zM1143 440h1v2h-1zM1142 442h1v1h-1zM1137 440h5v1h-5zM1138 441h1v2h-1zM1140 441h1v2h-1zM1139 443h1v1h-1zM1133 440h5v1h-5zM1134 441h1v2h-1zM1136 441h1v2h-1zM1135 443h1v1h-1zM1127 442h5v1h-5zM1128 443h1v2h-1zM1130 443h1v2h-1zM1129 445h1v1h-1zM1125 442h5v1h-5zM1126 443h1v2h-1zM1128 443h1v2h-1zM1127 445h1v1h-1zM1118 446h5v1h-5zM1119 447h1v2h-1zM1121 447h1v2h-1zM1120 449h1v1h-1zM1114 448h5v1h-5zM1115 449h1v2h-1zM1117 449h1v2h-1zM1116 451h1v1h-1zM1111 452h5v1h-5zM1112 453h1v2h-1zM1114 453h1v2h-1zM1113 455h1v1h-1zM1101 454h5v1h-5zM1102 455h1v2h-1zM1104 455h1v2h-1zM1103 457h1v1h-1zM1098 457h5v1h-5zM1099 458h1v2h-1zM1101 458h1v2h-1zM1100 460h1v1h-1zM1201 395h5v1h-5zM1202 396h1v2h-1zM1204 396h1v2h-1zM1203 398h1v1h-1zM1259 229h5v1h-5zM1260 230h1v2h-1zM1262 230h1v2h-1zM1261 232h1v1h-1zM1264 236h5v1h-5zM1265 237h1v2h-1zM1267 237h1v2h-1zM1266 239h1v1h-1zM1266 247h5v1h-5zM1267 248h1v2h-1zM1269 248h1v2h-1zM1268 250h1v1h-1zM1263 256h5v1h-5zM1264 257h1v2h-1zM1266 257h1v2h-1zM1265 259h1v1h-1zM1269 272h5v1h-5zM1270 273h1v2h-1zM1272 273h1v2h-1zM1271 275h1v1h-1zM1278 290h5v1h-5zM1279 291h1v2h-1zM1281 291h1v2h-1zM1280 293h1v1h-1zM1268 301h5v1h-5zM1269 302h1v2h-1zM1271 302h1v2h-1zM1270 304h1v1h-1zM1261 223h5v1h-5zM1262 224h1v2h-1zM1264 224h1v2h-1zM1263 226h1v1h-1zM1264 221h5v1h-5zM1265 222h1v2h-1zM1267 222h1v2h-1zM1266 224h1v1h-1zM1266 219h5v1h-5zM1267 220h1v2h-1zM1269 220h1v2h-1zM1268 222h1v1h-1zM1269 218h5v1h-5zM1270 219h1v2h-1zM1272 219h1v2h-1zM1271 221h1v1h-1zM1272 216h5v1h-5zM1273 217h1v2h-1zM1275 217h1v2h-1zM1274 219h1v1h-1zM1274 215h5v1h-5zM1275 216h1v2h-1zM1277 216h1v2h-1zM1276 218h1v1h-1zM1277 215h5v1h-5zM1278 216h1v2h-1zM1280 216h1v2h-1zM1279 218h1v1h-1zM1280 214h5v1h-5zM1281 215h1v2h-1zM1283 215h1v2h-1zM1282 217h1v1h-1zM1284 214h5v1h-5zM1285 215h1v2h-1zM1287 215h1v2h-1zM1286 217h1v1h-1zM1286 214h5v1h-5zM1287 215h1v2h-1zM1289 215h1v2h-1zM1288 217h1v1h-1zM1291 212h5v1h-5zM1292 213h1v2h-1zM1294 213h1v2h-1zM1293 215h1v1h-1zM1294 211h5v1h-5zM1295 212h1v2h-1zM1297 212h1v2h-1zM1296 214h1v1h-1zM1300 208h5v1h-5zM1301 209h1v2h-1zM1303 209h1v2h-1zM1302 211h1v1h-1zM1302 207h5v1h-5zM1303 208h1v2h-1zM1305 208h1v2h-1zM1304 210h1v1h-1zM1306 206h5v1h-5zM1307 207h1v2h-1zM1309 207h1v2h-1zM1308 209h1v1h-1zM1309 202h5v1h-5zM1310 203h1v2h-1zM1312 203h1v2h-1zM1311 205h1v1h-1zM1317 200h5v1h-5zM1318 201h1v2h-1zM1320 201h1v2h-1zM1319 203h1v1h-1zM1324 195h5v1h-5zM1325 196h1v2h-1zM1327 196h1v2h-1zM1326 198h1v1h-1zM1333 192h5v1h-5zM1334 193h1v2h-1zM1336 193h1v2h-1zM1335 195h1v1h-1zM1275 216h5v1h-5zM1276 217h1v2h-1zM1278 217h1v2h-1zM1277 219h1v1h-1zM1271 219h5v1h-5zM1272 220h1v2h-1zM1274 220h1v2h-1zM1273 222h1v1h-1zM1269 322h5v1h-5zM1270 323h1v2h-1zM1272 323h1v2h-1zM1271 325h1v1h-1zM1291 357h5v1h-5zM1292 358h1v2h-1zM1294 358h1v2h-1zM1293 360h1v1h-1zM1243 102h5v1h-5zM1244 103h1v2h-1zM1246 103h1v2h-1zM1245 105h1v1h-1zM1300 100h5v1h-5zM1301 101h1v2h-1zM1303 101h1v2h-1zM1302 103h1v1h-1zM1302 100h5v1h-5zM1303 101h1v2h-1zM1305 101h1v2h-1zM1304 103h1v1h-1zM1307 102h5v1h-5zM1308 103h1v2h-1zM1310 103h1v2h-1zM1309 105h1v1h-1zM1309 102h5v1h-5zM1310 103h1v2h-1zM1312 103h1v2h-1zM1311 105h1v1h-1zM1313 102h5v1h-5zM1314 103h1v2h-1zM1316 103h1v2h-1zM1315 105h1v1h-1zM1315 102h5v1h-5zM1316 103h1v2h-1zM1318 103h1v2h-1zM1317 105h1v1h-1zM1323 103h5v1h-5zM1324 104h1v2h-1zM1326 104h1v2h-1zM1325 106h1v1h-1zM1328 116h5v1h-5zM1329 117h1v2h-1zM1331 117h1v2h-1zM1330 119h1v1h-1zM1361 108h5v1h-5zM1362 109h1v2h-1zM1364 109h1v2h-1zM1363 111h1v1h-1zM1386 112h5v1h-5zM1387 113h1v2h-1zM1389 113h1v2h-1zM1388 115h1v1h-1zM1373 153h5v1h-5zM1374 154h1v2h-1zM1376 154h1v2h-1zM1375 156h1v1h-1zM1390 183h5v1h-5zM1391 184h1v2h-1zM1393 184h1v2h-1zM1392 186h1v1h-1zM1359 185h5v1h-5zM1360 186h1v2h-1zM1362 186h1v2h-1zM1361 188h1v1h-1zM1341 187h5v1h-5zM1342 188h1v2h-1zM1344 188h1v2h-1zM1343 190h1v1h-1zM1230 393h5v1h-5zM1231 394h1v2h-1zM1233 394h1v2h-1zM1232 396h1v1h-1zM1250 376h5v1h-5zM1251 377h1v2h-1zM1253 377h1v2h-1zM1252 379h1v1h-1zM844 1062h5v1h-5zM845 1063h1v2h-1zM847 1063h1v2h-1zM846 1065h1v1h-1zM842 1062h5v1h-5zM843 1063h1v2h-1zM845 1063h1v2h-1zM844 1065h1v1h-1zM842 1060h5v1h-5zM843 1061h1v2h-1zM845 1061h1v2h-1zM844 1063h1v1h-1zM843 1063h5v1h-5zM844 1064h1v2h-1zM846 1064h1v2h-1zM845 1066h1v1h-1zM888 1019h5v1h-5zM889 1020h1v2h-1zM891 1020h1v2h-1zM890 1022h1v1h-1zM885 1023h5v1h-5zM886 1024h1v2h-1zM888 1024h1v2h-1zM887 1026h1v1h-1zM887 1019h5v1h-5zM888 1020h1v2h-1zM890 1020h1v2h-1zM889 1022h1v1h-1zM889 1022h5v1h-5zM890 1023h1v2h-1zM892 1023h1v2h-1zM891 1025h1v1h-1zM886 1024h5v1h-5zM887 1025h1v2h-1zM889 1025h1v2h-1zM888 1027h1v1h-1zM854 1004h5v1h-5zM855 1005h1v2h-1zM857 1005h1v2h-1zM856 1007h1v1h-1zM859 1005h5v1h-5zM860 1006h1v2h-1zM862 1006h1v2h-1zM861 1008h1v1h-1zM857 999h5v1h-5zM858 1000h1v2h-1zM860 1000h1v2h-1zM859 1002h1v1h-1zM859 1002h5v1h-5zM860 1003h1v2h-1zM862 1003h1v2h-1zM861 1005h1v1h-1zM860 1001h5v1h-5zM861 1002h1v2h-1zM863 1002h1v2h-1zM862 1004h1v1h-1zM859 1004h5v1h-5zM860 1005h1v2h-1zM862 1005h1v2h-1zM861 1007h1v1h-1zM840 842h5v1h-5zM841 843h1v2h-1zM843 843h1v2h-1zM842 845h1v1h-1zM838 844h5v1h-5zM839 845h1v2h-1zM841 845h1v2h-1zM840 847h1v1h-1zM837 843h5v1h-5zM838 844h1v2h-1zM840 844h1v2h-1zM839 846h1v1h-1zM839 843h5v1h-5zM840 844h1v2h-1zM842 844h1v2h-1zM841 846h1v1h-1zM837 846h5v1h-5zM838 847h1v2h-1zM840 847h1v2h-1zM839 849h1v1h-1zM847 847h5v1h-5zM848 848h1v2h-1zM850 848h1v2h-1zM849 850h1v1h-1zM845 846h5v1h-5zM846 847h1v2h-1zM848 847h1v2h-1zM847 849h1v1h-1zM844 847h5v1h-5zM845 848h1v2h-1zM847 848h1v2h-1zM846 850h1v1h-1zM869 850h5v1h-5zM870 851h1v2h-1zM872 851h1v2h-1zM871 853h1v1h-1zM868 852h5v1h-5zM869 853h1v2h-1zM871 853h1v2h-1zM870 855h1v1h-1zM870 847h5v1h-5zM871 848h1v2h-1zM873 848h1v2h-1zM872 850h1v1h-1zM872 850h5v1h-5zM873 851h1v2h-1zM875 851h1v2h-1zM874 853h1v1h-1zM887 853h5v1h-5zM888 854h1v2h-1zM890 854h1v2h-1zM889 856h1v1h-1zM887 854h5v1h-5zM888 855h1v2h-1zM890 855h1v2h-1zM889 857h1v1h-1zM887 852h5v1h-5zM888 853h1v2h-1zM890 853h1v2h-1zM889 855h1v1h-1zM872 866h5v1h-5zM873 867h1v2h-1zM875 867h1v2h-1zM874 869h1v1h-1zM874 867h5v1h-5zM875 868h1v2h-1zM877 868h1v2h-1zM876 870h1v1h-1zM872 864h5v1h-5zM873 865h1v2h-1zM875 865h1v2h-1zM874 867h1v1h-1zM872 866h5v1h-5zM873 867h1v2h-1zM875 867h1v2h-1zM874 869h1v1h-1zM881 879h5v1h-5zM882 880h1v2h-1zM884 880h1v2h-1zM883 882h1v1h-1zM882 881h5v1h-5zM883 882h1v2h-1zM885 882h1v2h-1zM884 884h1v1h-1zM884 878h5v1h-5zM885 879h1v2h-1zM887 879h1v2h-1zM886 881h1v1h-1zM881 879h5v1h-5zM882 880h1v2h-1zM884 880h1v2h-1zM883 882h1v1h-1zM884 878h5v1h-5zM885 879h1v2h-1zM887 879h1v2h-1zM886 881h1v1h-1zM884 880h5v1h-5zM885 881h1v2h-1zM887 881h1v2h-1zM886 883h1v1h-1zM882 877h5v1h-5zM883 878h1v2h-1zM885 878h1v2h-1zM884 880h1v1h-1zM882 883h5v1h-5zM883 884h1v2h-1zM885 884h1v2h-1zM884 886h1v1h-1zM864 904h5v1h-5zM865 905h1v2h-1zM867 905h1v2h-1zM866 907h1v1h-1zM862 906h5v1h-5zM863 907h1v2h-1zM865 907h1v2h-1zM864 909h1v1h-1zM866 902h5v1h-5zM867 903h1v2h-1zM869 903h1v2h-1zM868 905h1v1h-1zM864 900h5v1h-5zM865 901h1v2h-1zM867 901h1v2h-1zM866 903h1v1h-1zM865 901h5v1h-5zM866 902h1v2h-1zM868 902h1v2h-1zM867 904h1v1h-1zM864 905h5v1h-5zM865 906h1v2h-1zM867 906h1v2h-1zM866 908h1v1h-1zM862 902h5v1h-5zM863 903h1v2h-1zM865 903h1v2h-1zM864 905h1v1h-1zM863 905h5v1h-5zM864 906h1v2h-1zM866 906h1v2h-1zM865 908h1v1h-1zM858 922h5v1h-5zM859 923h1v2h-1zM861 923h1v2h-1zM860 925h1v1h-1zM859 926h5v1h-5zM860 927h1v2h-1zM862 927h1v2h-1zM861 929h1v1h-1zM858 928h5v1h-5zM859 929h1v2h-1zM861 929h1v2h-1zM860 931h1v1h-1zM858 926h5v1h-5zM859 927h1v2h-1zM861 927h1v2h-1zM860 929h1v1h-1zM857 922h5v1h-5zM858 923h1v2h-1zM860 923h1v2h-1zM859 925h1v1h-1zM926 935h5v1h-5zM927 936h1v2h-1zM929 936h1v2h-1zM928 938h1v1h-1zM925 936h5v1h-5zM926 937h1v2h-1zM928 937h1v2h-1zM927 939h1v1h-1zM926 936h5v1h-5zM927 937h1v2h-1zM929 937h1v2h-1zM928 939h1v1h-1zM927 934h5v1h-5zM928 935h1v2h-1zM930 935h1v2h-1zM929 937h1v1h-1zM923 933h5v1h-5zM924 934h1v2h-1zM926 934h1v2h-1zM925 936h1v1h-1zM928 953h5v1h-5zM929 954h1v2h-1zM931 954h1v2h-1zM930 956h1v1h-1zM929 950h5v1h-5zM930 951h1v2h-1zM932 951h1v2h-1zM931 953h1v1h-1zM927 953h5v1h-5zM928 954h1v2h-1zM930 954h1v2h-1zM929 956h1v1h-1zM927 951h5v1h-5zM928 952h1v2h-1zM930 952h1v2h-1zM929 954h1v1h-1zM927 948h5v1h-5zM928 949h1v2h-1zM930 949h1v2h-1zM929 951h1v1h-1zM926 950h5v1h-5zM927 951h1v2h-1zM929 951h1v2h-1zM928 953h1v1h-1zM701 844h5v1h-5zM702 845h1v2h-1zM704 845h1v2h-1zM703 847h1v1h-1zM701 840h5v1h-5zM702 841h1v2h-1zM704 841h1v2h-1zM703 843h1v1h-1zM702 841h5v1h-5zM703 842h1v2h-1zM705 842h1v2h-1zM704 844h1v1h-1zM700 839h5v1h-5zM701 840h1v2h-1zM703 840h1v2h-1zM702 842h1v1h-1zM700 842h5v1h-5zM701 843h1v2h-1zM703 843h1v2h-1zM702 845h1v1h-1zM908 696h5v1h-5zM909 697h1v2h-1zM911 697h1v2h-1zM910 699h1v1h-1zM906 696h5v1h-5zM907 697h1v2h-1zM909 697h1v2h-1zM908 699h1v1h-1zM906 695h5v1h-5zM907 696h1v2h-1zM909 696h1v2h-1zM908 698h1v1h-1zM908 696h5v1h-5zM909 697h1v2h-1zM911 697h1v2h-1zM910 699h1v1h-1zM915 685h5v1h-5zM916 686h1v2h-1zM918 686h1v2h-1zM917 688h1v1h-1zM917 686h5v1h-5zM918 687h1v2h-1zM920 687h1v2h-1zM919 689h1v1h-1zM914 684h5v1h-5zM915 685h1v2h-1zM917 685h1v2h-1zM916 687h1v1h-1zM917 686h5v1h-5zM918 687h1v2h-1zM920 687h1v2h-1zM919 689h1v1h-1zM951 651h5v1h-5zM952 652h1v2h-1zM954 652h1v2h-1zM953 654h1v1h-1zM953 654h5v1h-5zM954 655h1v2h-1zM956 655h1v2h-1zM955 657h1v1h-1zM952 655h5v1h-5zM953 656h1v2h-1zM955 656h1v2h-1zM954 658h1v1h-1zM1045 513h5v1h-5zM1046 514h1v2h-1zM1048 514h1v2h-1zM1047 516h1v1h-1zM1045 513h5v1h-5zM1046 514h1v2h-1zM1048 514h1v2h-1zM1047 516h1v1h-1zM1048 510h5v1h-5zM1049 511h1v2h-1zM1051 511h1v2h-1zM1050 513h1v1h-1zM1044 510h5v1h-5zM1045 511h1v2h-1zM1047 511h1v2h-1zM1046 513h1v1h-1zM1045 511h5v1h-5zM1046 512h1v2h-1zM1048 512h1v2h-1zM1047 514h1v1h-1zM1047 506h5v1h-5zM1048 507h1v2h-1zM1050 507h1v2h-1zM1049 509h1v1h-1zM1048 507h5v1h-5zM1049 508h1v2h-1zM1051 508h1v2h-1zM1050 510h1v1h-1zM1052 506h5v1h-5zM1053 507h1v2h-1zM1055 507h1v2h-1zM1054 509h1v1h-1zM1052 507h5v1h-5zM1053 508h1v2h-1zM1055 508h1v2h-1zM1054 510h1v1h-1zM1050 503h5v1h-5zM1051 504h1v2h-1zM1053 504h1v2h-1zM1052 506h1v1h-1zM1044 516h5v1h-5zM1045 517h1v2h-1zM1047 517h1v2h-1zM1046 519h1v1h-1zM1045 519h5v1h-5zM1046 520h1v2h-1zM1048 520h1v2h-1zM1047 522h1v1h-1zM1044 516h5v1h-5zM1045 517h1v2h-1zM1047 517h1v2h-1zM1046 519h1v1h-1zM1046 517h5v1h-5zM1047 518h1v2h-1zM1049 518h1v2h-1zM1048 520h1v1h-1zM1045 516h5v1h-5zM1046 517h1v2h-1zM1048 517h1v2h-1zM1047 519h1v1h-1zM1027 527h5v1h-5zM1028 528h1v2h-1zM1030 528h1v2h-1zM1029 530h1v1h-1zM1027 528h5v1h-5zM1028 529h1v2h-1zM1030 529h1v2h-1zM1029 531h1v1h-1zM1025 527h5v1h-5zM1026 528h1v2h-1zM1028 528h1v2h-1zM1027 530h1v1h-1zM1026 528h5v1h-5zM1027 529h1v2h-1zM1029 529h1v2h-1zM1028 531h1v1h-1zM1026 528h5v1h-5zM1027 529h1v2h-1zM1029 529h1v2h-1zM1028 531h1v1h-1zM1035 525h5v1h-5zM1036 526h1v2h-1zM1038 526h1v2h-1zM1037 528h1v1h-1zM1035 525h5v1h-5zM1036 526h1v2h-1zM1038 526h1v2h-1zM1037 528h1v1h-1zM1035 526h5v1h-5zM1036 527h1v2h-1zM1038 527h1v2h-1zM1037 529h1v1h-1zM1035 522h5v1h-5zM1036 523h1v2h-1zM1038 523h1v2h-1zM1037 525h1v1h-1zM1033 524h5v1h-5zM1034 525h1v2h-1zM1036 525h1v2h-1zM1035 527h1v1h-1zM1037 533h5v1h-5zM1038 534h1v2h-1zM1040 534h1v2h-1zM1039 536h1v1h-1zM1037 530h5v1h-5zM1038 531h1v2h-1zM1040 531h1v2h-1zM1039 533h1v1h-1zM1040 531h5v1h-5zM1041 532h1v2h-1zM1043 532h1v2h-1zM1042 534h1v1h-1zM1040 532h5v1h-5zM1041 533h1v2h-1zM1043 533h1v2h-1zM1042 535h1v1h-1zM1040 532h5v1h-5zM1041 533h1v2h-1zM1043 533h1v2h-1zM1042 535h1v1h-1zM1030 541h5v1h-5zM1031 542h1v2h-1zM1033 542h1v2h-1zM1032 544h1v1h-1zM1031 542h5v1h-5zM1032 543h1v2h-1zM1034 543h1v2h-1zM1033 545h1v1h-1zM1026 542h5v1h-5zM1027 543h1v2h-1zM1029 543h1v2h-1zM1028 545h1v1h-1zM1027 539h5v1h-5zM1028 540h1v2h-1zM1030 540h1v2h-1zM1029 542h1v1h-1zM1026 541h5v1h-5zM1027 542h1v2h-1zM1029 542h1v2h-1zM1028 544h1v1h-1zM1029 542h5v1h-5zM1030 543h1v2h-1zM1032 543h1v2h-1zM1031 545h1v1h-1zM1058 485h5v1h-5zM1059 486h1v2h-1zM1061 486h1v2h-1zM1060 488h1v1h-1zM1061 486h5v1h-5zM1062 487h1v2h-1zM1064 487h1v2h-1zM1063 489h1v1h-1zM1061 486h5v1h-5zM1062 487h1v2h-1zM1064 487h1v2h-1zM1063 489h1v1h-1zM1060 488h5v1h-5zM1061 489h1v2h-1zM1063 489h1v2h-1zM1062 491h1v1h-1zM1064 482h5v1h-5zM1065 483h1v2h-1zM1067 483h1v2h-1zM1066 485h1v1h-1zM1066 478h5v1h-5zM1067 479h1v2h-1zM1069 479h1v2h-1zM1068 481h1v1h-1zM1067 480h5v1h-5zM1068 481h1v2h-1zM1070 481h1v2h-1zM1069 483h1v1h-1zM1066 481h5v1h-5zM1067 482h1v2h-1zM1069 482h1v2h-1zM1068 484h1v1h-1zM1087 461h5v1h-5zM1088 462h1v2h-1zM1090 462h1v2h-1zM1089 464h1v1h-1zM1090 460h5v1h-5zM1091 461h1v2h-1zM1093 461h1v2h-1zM1092 463h1v1h-1zM1088 459h5v1h-5zM1089 460h1v2h-1zM1091 460h1v2h-1zM1090 462h1v1h-1zM1088 459h5v1h-5zM1089 460h1v2h-1zM1091 460h1v2h-1zM1090 462h1v1h-1zM1087 462h5v1h-5zM1088 463h1v2h-1zM1090 463h1v2h-1zM1089 465h1v1h-1zM978 582h5v1h-5zM979 583h1v2h-1zM981 583h1v2h-1zM980 585h1v1h-1zM978 581h5v1h-5zM979 582h1v2h-1zM981 582h1v2h-1zM980 584h1v1h-1zM980 583h5v1h-5zM981 584h1v2h-1zM983 584h1v2h-1zM982 586h1v1h-1zM980 582h5v1h-5zM981 583h1v2h-1zM983 583h1v2h-1zM982 585h1v1h-1zM988 579h5v1h-5zM989 580h1v2h-1zM991 580h1v2h-1zM990 582h1v1h-1zM987 577h5v1h-5zM988 578h1v2h-1zM990 578h1v2h-1zM989 580h1v1h-1zM989 576h5v1h-5zM990 577h1v2h-1zM992 577h1v2h-1zM991 579h1v1h-1zM1018 600h5v1h-5zM1019 601h1v2h-1zM1021 601h1v2h-1zM1020 603h1v1h-1zM1019 596h5v1h-5zM1020 597h1v2h-1zM1022 597h1v2h-1zM1021 599h1v1h-1zM1020 596h5v1h-5zM1021 597h1v2h-1zM1023 597h1v2h-1zM1022 599h1v1h-1zM1017 598h5v1h-5zM1018 599h1v2h-1zM1020 599h1v2h-1zM1019 601h1v1h-1zM1016 600h5v1h-5zM1017 601h1v2h-1zM1019 601h1v2h-1zM1018 603h1v1h-1zM1029 584h5v1h-5zM1030 585h1v2h-1zM1032 585h1v2h-1zM1031 587h1v1h-1zM1027 582h5v1h-5zM1028 583h1v2h-1zM1030 583h1v2h-1zM1029 585h1v1h-1zM1032 583h5v1h-5zM1033 584h1v2h-1zM1035 584h1v2h-1zM1034 586h1v1h-1zM1029 583h5v1h-5zM1030 584h1v2h-1zM1032 584h1v2h-1zM1031 586h1v1h-1zM1028 581h5v1h-5zM1029 582h1v2h-1zM1031 582h1v2h-1zM1030 584h1v1h-1zM960 636h5v1h-5zM961 637h1v2h-1zM963 637h1v2h-1zM962 639h1v1h-1zM960 638h5v1h-5zM961 639h1v2h-1zM963 639h1v2h-1zM962 641h1v1h-1zM961 636h5v1h-5zM962 637h1v2h-1zM964 637h1v2h-1zM963 639h1v1h-1zM1149 432h5v1h-5zM1150 433h1v2h-1zM1152 433h1v2h-1zM1151 435h1v1h-1zM1151 430h5v1h-5zM1152 431h1v2h-1zM1154 431h1v2h-1zM1153 433h1v1h-1zM1148 427h5v1h-5zM1149 428h1v2h-1zM1151 428h1v2h-1zM1150 430h1v1h-1zM1150 430h5v1h-5zM1151 431h1v2h-1zM1153 431h1v2h-1zM1152 433h1v1h-1zM1151 430h5v1h-5zM1152 431h1v2h-1zM1154 431h1v2h-1zM1153 433h1v1h-1zM1190 391h5v1h-5zM1191 392h1v2h-1zM1193 392h1v2h-1zM1192 394h1v1h-1zM1188 391h5v1h-5zM1189 392h1v2h-1zM1191 392h1v2h-1zM1190 394h1v1h-1zM1187 392h5v1h-5zM1188 393h1v2h-1zM1190 393h1v2h-1zM1189 395h1v1h-1zM1187 389h5v1h-5zM1188 390h1v2h-1zM1190 390h1v2h-1zM1189 392h1v1h-1zM1190 391h5v1h-5zM1191 392h1v2h-1zM1193 392h1v2h-1zM1192 394h1v1h-1zM1092 458h5v1h-5zM1093 459h1v2h-1zM1095 459h1v2h-1zM1094 461h1v1h-1zM1091 459h5v1h-5zM1092 460h1v2h-1zM1094 460h1v2h-1zM1093 462h1v1h-1zM1091 459h5v1h-5zM1092 460h1v2h-1zM1094 460h1v2h-1zM1093 462h1v1h-1zM1278 216h5v1h-5zM1279 217h1v2h-1zM1281 217h1v2h-1zM1280 219h1v1h-1zM1276 218h5v1h-5zM1277 219h1v2h-1zM1279 219h1v2h-1zM1278 221h1v1h-1zM1276 214h5v1h-5zM1277 215h1v2h-1zM1279 215h1v2h-1zM1278 217h1v1h-1zM1276 216h5v1h-5zM1277 217h1v2h-1zM1279 217h1v2h-1zM1278 219h1v1h-1zM1274 218h5v1h-5zM1275 219h1v2h-1zM1277 219h1v2h-1zM1276 221h1v1h-1zM1274 216h5v1h-5zM1275 217h1v2h-1zM1277 217h1v2h-1zM1276 219h1v1h-1zM1308 102h5v1h-5zM1309 103h1v2h-1zM1311 103h1v2h-1zM1310 105h1v1h-1zM1311 103h5v1h-5zM1312 104h1v2h-1zM1314 104h1v2h-1zM1313 106h1v1h-1zM1312 101h5v1h-5zM1313 102h1v2h-1zM1315 102h1v2h-1zM1314 104h1v1h-1zM1309 102h5v1h-5zM1310 103h1v2h-1zM1312 103h1v2h-1zM1311 105h1v1h-1zM1310 105h5v1h-5zM1311 106h1v2h-1zM1313 106h1v2h-1zM1312 108h1v1h-1z" fill="#00f"/>
<path d="M772 1104h1v1h-1zM771 1105h1v2h-1zM773 1105h1v2h-1zM770 1107h5v1h-5zM770 1102h1v1h-1zM769 1103h1v2h-1zM771 1103h1v2h-1zM768 1105h5v1h-5zM774 1101h1v1h-1zM773 1102h1v2h-1zM775 1102h1v2h-1zM772 1104h5v1h-5zM772 1105h1v1h-1zM771 1106h1v2h-1zM773 1106h1v2h-1zM770 1108h5v1h-5zM776 1099h1v1h-1zM775 1100h1v2h-1zM777 1100h1v2h-1zM774 1102h5v1h-5zM777 1096h1v1h-1zM776 1097h1v2h-1zM778 1097h1v2h-1zM775 1099h5v1h-5zM777 1090h1v1h-1zM776 1091h1v2h-1zM778 1091h1v2h-1zM775 1093h5v1h-5zM788 1087h1v1h-1zM787 1088h1v2h-1zM789 1088h1v2h-1zM786 1090h5v1h-5zM796 1084h1v1h-1zM795 1085h1v2h-1zM797 1085h1v2h-1zM794 1087h5v1h-5zM804 1083h1v1h-1zM803 1084h1v2h-1zM805 1084h1v2h-1zM802 1086h5v1h-5zM804 1080h1v1h-1zM803 1081h1v2h-1zM805 1081h1v2h-1zM802 1083h5v1h-5zM811 1077h1v1h-1zM810 1078h1v2h-1zM812 1078h1v2h-1zM809 1080h5v1h-5zM812 1075h1v1h-1zM811 1076h1v2h-1zM813 1076h1v2h-1zM810 1078h5v1h-5zM817 1075h1v1h-1zM816 1076h1v2h-1zM818 1076h1v2h-1zM815 1078h5v1h-5zM820 1073h1v1h-1zM819 1074h1v2h-1zM821 1074h1v2h-1zM818 1076h5v1h-5zM822 1071h1v1h-1zM821 1072h1v2h-1zM823 1072h1v2h-1zM820 1074h5v1h-5zM824 1069h1v1h-1zM823 1070h1v2h-1zM825 1070h1v2h-1zM822 1072h5v1h-5zM828 1067h1v1h-1zM827 1068h1v2h-1zM829 1068h1v2h-1zM826 1070h5v1h-5zM829 1064h1v1h-1zM828 1065h1v2h-1zM830 1065h1v2h-1zM827 1067h5v1h-5zM831 1063h1v1h-1zM830 1064h1v2h-1zM832 1064h1v2h-1zM829 1066h5v1h-5zM830 1058h1v1h-1zM829 1059h1v2h-1zM831 1059h1v2h-1zM828 1061h5v1h-5zM832 1056h1v1h-1zM831 1057h1v2h-1zM833 1057h1v2h-1zM830 1059h5v1h-5zM834 1059h1v1h-1zM833 1060h1v2h-1zM835 1060h1v2h-1zM832 1062h5v1h-5zM836 1062h1v1h-1zM835 1063h1v2h-1zM837 1063h1v2h-1zM834 1065h5v1h-5zM839 1059h1v1h-1zM838 1060h1v2h-1zM840 1060h1v2h-1zM837 1062h5v1h-5zM840 1057h1v1h-1zM839 1058h1v2h-1zM841 1058h1v2h-1zM838 1060h5v1h-5zM834 1052h1v1h-1zM833 1053h1v2h-1zM835 1053h1v2h-1zM832 1055h5v1h-5zM838 1049h1v1h-1zM837 1050h1v2h-1zM839 1050h1v2h-1zM836 1052h5v1h-5zM841 1044h1v1h-1zM840 1045h1v2h-1zM842 1045h1v2h-1zM839 1047h5v1h-5zM847 1041h1v1h-1zM846 1042h1v2h-1zM848 1042h1v2h-1zM845 1044h5v1h-5zM855 1036h1v1h-1zM854 1037h1v2h-1zM856 1037h1v2h-1zM853 1039h5v1h-5zM857 1032h1v1h-1zM856 1033h1v2h-1zM858 1033h1v2h-1zM855 1035h5v1h-5zM846 1054h1v1h-1zM845 1055h1v2h-1zM847 1055h1v2h-1zM844 1057h5v1h-5zM843 1055h1v1h-1zM842 1056h1v2h-1zM844 1056h1v2h-1zM841 1058h5v1h-5zM867 1026h1v1h-1zM866 1027h1v2h-1zM868 1027h1v2h-1zM865 1029h5v1h-5zM869 1029h1v1h-1zM868 1030h1v2h-1zM870 1030h1v2h-1zM867 1032h5v1h-5zM872 1026h1v1h-1zM871 1027h1v2h-1zM873 1027h1v2h-1zM870 1029h5v1h-5zM874 1025h1v1h-1zM873 1026h1v2h-1zM875 1026h1v2h-1zM872 1028h5v1h-5zM870 1024h1v1h-1zM869 1025h1v2h-1zM871 1025h1v2h-1zM868 1027h5v1h-5zM867 1024h1v1h-1zM866 1025h1v2h-1zM868 1025h1v2h-1zM865 1027h5v1h-5zM863 1024h1v1h-1zM862 1025h1v2h-1zM864 1025h1v2h-1zM861 1027h5v1h-5zM872 1029h1v1h-1zM871 1030h1v2h-1zM873 1030h1v2h-1zM870 1032h5v1h-5zM863 1019h1v1h-1zM862 1020h1v2h-1zM864 1020h1v2h-1zM861 1022h5v1h-5zM863 1012h1v1h-1zM862 1013h1v2h-1zM864 1013h1v2h-1zM861 1015h5v1h-5zM870 1015h1v1h-1zM869 1016h1v2h-1zM871 1016h1v2h-1zM868 1018h5v1h-5zM873 1014h1v1h-1zM872 1015h1v2h-1zM874 1015h1v2h-1zM871 1017h5v1h-5zM872 1011h1v1h-1zM871 1012h1v2h-1zM873 1012h1v2h-1zM870 1014h5v1h-5zM874 1016h1v1h-1zM873 1017h1v2h-1zM875 1017h1v2h-1zM872 1019h5v1h-5zM869 1000h1v1h-1zM868 1001h1v2h-1zM870 1001h1v2h-1zM867 1003h5v1h-5zM874 1001h1v1h-1zM873 1002h1v2h-1zM875 1002h1v2h-1zM872 1004h5v1h-5zM878 996h1v1h-1zM877 997h1v2h-1zM879 997h1v2h-1zM876 999h5v1h-5zM876 994h1v1h-1zM875 995h1v2h-1zM877 995h1v2h-1zM874 997h5v1h-5zM868 995h1v1h-1zM867 996h1v2h-1zM869 996h1v2h-1zM866 998h5v1h-5zM869 991h1v1h-1zM868 992h1v2h-1zM870 992h1v2h-1zM867 994h5v1h-5zM868 988h1v1h-1zM867 989h1v2h-1zM869 989h1v2h-1zM866 991h5v1h-5zM872 987h1v1h-1zM871 988h1v2h-1zM873 988h1v2h-1zM870 990h5v1h-5zM873 986h1v1h-1zM872 987h1v2h-1zM874 987h1v2h-1zM871 989h5v1h-5zM876 979h1v1h-1zM875 980h1v2h-1zM877 980h1v2h-1zM874 982h5v1h-5zM874 982h1v1h-1zM873 983h1v2h-1zM875 983h1v2h-1zM872 985h5v1h-5zM879 971h1v1h-1zM878 972h1v2h-1zM880 972h1v2h-1zM877 974h5v1h-5zM883 969h1v1h-1zM882 970h1v2h-1zM884 970h1v2h-1zM881 972h5v1h-5zM886 968h1v1h-1zM885 969h1v2h-1zM887 969h1v2h-1zM884 971h5v1h-5zM891 965h1v1h-1zM890 966h1v2h-1zM892 966h1v2h-1zM889 968h5v1h-5zM896 963h1v1h-1zM895 964h1v2h-1zM897 964h1v2h-1zM894 966h5v1h-5zM901 962h1v1h-1zM900 963h1v2h-1zM902 963h1v2h-1zM899 965h5v1h-5zM905 960h1v1h-1zM904 961h1v2h-1zM906 961h1v2h-1zM903 963h5v1h-5zM909 959h1v1h-1zM908 960h1v2h-1zM910 960h1v2h-1zM907 962h5v1h-5zM805 964h1v1h-1zM804 965h1v2h-1zM806 965h1v2h-1zM803 967h5v1h-5zM809 960h1v1h-1zM808 961h1v2h-1zM810 961h1v2h-1zM807 963h5v1h-5zM809 966h1v1h-1zM808 967h1v2h-1zM810 967h1v2h-1zM807 969h5v1h-5zM821 967h1v1h-1zM820 968h1v2h-1zM822 968h1v2h-1zM819 970h5v1h-5zM838 966h1v1h-1zM837 967h1v2h-1zM839 967h1v2h-1zM836 969h5v1h-5zM804 944h1v1h-1zM803 945h1v2h-1zM805 945h1v2h-1zM802 947h5v1h-5zM820 937h1v1h-1zM819 938h1v2h-1zM821 938h1v2h-1zM818 940h5v1h-5zM832 935h1v1h-1zM831 936h1v2h-1zM833 936h1v2h-1zM830 938h5v1h-5zM837 932h1v1h-1zM836 933h1v2h-1zM838 933h1v2h-1zM835 935h5v1h-5zM841 928h1v1h-1zM840 929h1v2h-1zM842 929h1v2h-1zM839 931h5v1h-5zM840 926h1v1h-1zM839 927h1v2h-1zM841 927h1v2h-1zM838 929h5v1h-5zM842 923h1v1h-1zM841 924h1v2h-1zM843 924h1v2h-1zM840 926h5v1h-5zM844 920h1v1h-1zM843 921h1v2h-1zM845 921h1v2h-1zM842 923h5v1h-5zM846 917h1v1h-1zM845 918h1v2h-1zM847 918h1v2h-1zM844 920h5v1h-5zM845 930h1v1h-1zM844 931h1v2h-1zM846 931h1v2h-1zM843 933h5v1h-5zM848 928h1v1h-1zM847 929h1v2h-1zM849 929h1v2h-1zM846 931h5v1h-5zM851 927h1v1h-1zM850 928h1v2h-1zM852 928h1v2h-1zM849 930h5v1h-5zM844 931h1v1h-1zM843 932h1v2h-1zM845 932h1v2h-1zM842 934h5v1h-5zM851 912h1v1h-1zM850 913h1v2h-1zM852 913h1v2h-1zM849 915h5v1h-5zM854 907h1v1h-1zM853 908h1v2h-1zM855 908h1v2h-1zM852 910h5v1h-5zM850 907h1v1h-1zM849 908h1v2h-1zM851 908h1v2h-1zM848 910h5v1h-5zM856 908h1v1h-1zM855 909h1v2h-1zM857 909h1v2h-1zM854 911h5v1h-5zM848 903h1v1h-1zM847 904h1v2h-1zM849 904h1v2h-1zM846 906h5v1h-5zM846 899h1v1h-1zM845 900h1v2h-1zM847 900h1v2h-1zM844 902h5v1h-5zM845 896h1v1h-1zM844 897h1v2h-1zM846 897h1v2h-1zM843 899h5v1h-5zM848 894h1v1h-1zM847 895h1v2h-1zM849 895h1v2h-1zM846 897h5v1h-5zM844 890h1v1h-1zM843 891h1v2h-1zM845 891h1v2h-1zM842 893h5v1h-5zM848 887h1v1h-1zM847 888h1v2h-1zM849 888h1v2h-1zM846 890h5v1h-5zM856 885h1v1h-1zM855 886h1v2h-1zM857 886h1v2h-1zM854 888h5v1h-5zM856 874h1v1h-1zM855 875h1v2h-1zM857 875h1v2h-1zM854 877h5v1h-5zM855 872h1v1h-1zM854 873h1v2h-1zM856 873h1v2h-1zM853 875h5v1h-5zM858 870h1v1h-1zM857 871h1v2h-1zM859 871h1v2h-1zM856 873h5v1h-5zM854 877h1v1h-1zM853 878h1v2h-1zM855 878h1v2h-1zM852 880h5v1h-5zM861 878h1v1h-1zM860 879h1v2h-1zM862 879h1v2h-1zM859 881h5v1h-5zM865 878h1v1h-1zM864 879h1v2h-1zM866 879h1v2h-1zM863 881h5v1h-5zM869 877h1v1h-1zM868 878h1v2h-1zM870 878h1v2h-1zM867 880h5v1h-5zM872 874h1v1h-1zM871 875h1v2h-1zM873 875h1v2h-1zM870 877h5v1h-5zM874 872h1v1h-1zM873 873h1v2h-1zM875 873h1v2h-1zM872 875h5v1h-5zM878 872h1v1h-1zM877 873h1v2h-1zM879 873h1v2h-1zM876 875h5v1h-5zM861 866h1v1h-1zM860 867h1v2h-1zM862 867h1v2h-1zM859 869h5v1h-5zM861 863h1v1h-1zM860 864h1v2h-1zM862 864h1v2h-1zM859 866h5v1h-5zM865 862h1v1h-1zM864 863h1v2h-1zM866 863h1v2h-1zM863 865h5v1h-5zM869 860h1v1h-1zM868 861h1v2h-1zM870 861h1v2h-1zM867 863h5v1h-5zM871 859h1v1h-1zM870 860h1v2h-1zM872 860h1v2h-1zM869 862h5v1h-5zM877 856h1v1h-1zM876 857h1v2h-1zM878 857h1v2h-1zM875 859h5v1h-5zM861 846h1v1h-1zM860 847h1v2h-1zM862 847h1v2h-1zM859 849h5v1h-5zM865 845h1v1h-1zM864 846h1v2h-1zM866 846h1v2h-1zM863 848h5v1h-5zM870 845h1v1h-1zM869 846h1v2h-1zM871 846h1v2h-1zM868 848h5v1h-5zM872 846h1v1h-1zM871 847h1v2h-1zM873 847h1v2h-1zM870 849h5v1h-5zM870 851h1v1h-1zM869 852h1v2h-1zM871 852h1v2h-1zM868 854h5v1h-5zM868 847h1v1h-1zM867 848h1v2h-1zM869 848h1v2h-1zM866 850h5v1h-5zM869 839h1v1h-1zM868 840h1v2h-1zM870 840h1v2h-1zM867 842h5v1h-5zM872 836h1v1h-1zM871 837h1v2h-1zM873 837h1v2h-1zM870 839h5v1h-5zM877 834h1v1h-1zM876 835h1v2h-1zM878 835h1v2h-1zM875 837h5v1h-5zM870 835h1v1h-1zM869 836h1v2h-1zM871 836h1v2h-1zM868 838h5v1h-5zM832 830h1v1h-1zM831 831h1v2h-1zM833 831h1v2h-1zM830 833h5v1h-5zM835 831h1v1h-1zM834 832h1v2h-1zM836 832h1v2h-1zM833 834h5v1h-5zM842 833h1v1h-1zM841 834h1v2h-1zM843 834h1v2h-1zM840 836h5v1h-5zM849 832h1v1h-1zM848 833h1v2h-1zM850 833h1v2h-1zM847 835h5v1h-5zM856 828h1v1h-1zM855 829h1v2h-1zM857 829h1v2h-1zM854 831h5v1h-5zM860 831h1v1h-1zM859 832h1v2h-1zM861 832h1v2h-1zM858 834h5v1h-5zM865 830h1v1h-1zM864 831h1v2h-1zM866 831h1v2h-1zM863 833h5v1h-5zM872 830h1v1h-1zM871 831h1v2h-1zM873 831h1v2h-1zM870 833h5v1h-5zM882 829h1v1h-1zM881 830h1v2h-1zM883 830h1v2h-1zM880 832h5v1h-5zM884 825h1v1h-1zM883 826h1v2h-1zM885 826h1v2h-1zM882 828h5v1h-5zM887 824h1v1h-1zM886 825h1v2h-1zM888 825h1v2h-1zM885 827h5v1h-5zM837 825h1v1h-1zM836 826h1v2h-1zM838 826h1v2h-1zM835 828h5v1h-5zM841 821h1v1h-1zM840 822h1v2h-1zM842 822h1v2h-1zM839 824h5v1h-5zM845 819h1v1h-1zM844 820h1v2h-1zM846 820h1v2h-1zM843 822h5v1h-5zM848 816h1v1h-1zM847 817h1v2h-1zM849 817h1v2h-1zM846 819h5v1h-5zM851 811h1v1h-1zM850 812h1v2h-1zM852 812h1v2h-1zM849 814h5v1h-5zM856 809h1v1h-1zM855 810h1v2h-1zM857 810h1v2h-1zM854 812h5v1h-5zM854 802h1v1h-1zM853 803h1v2h-1zM855 803h1v2h-1zM852 805h5v1h-5zM859 802h1v1h-1zM858 803h1v2h-1zM860 803h1v2h-1zM857 805h5v1h-5zM860 800h1v1h-1zM859 801h1v2h-1zM861 801h1v2h-1zM858 803h5v1h-5zM861 804h1v1h-1zM860 805h1v2h-1zM862 805h1v2h-1zM859 807h5v1h-5zM863 807h1v1h-1zM862 808h1v2h-1zM864 808h1v2h-1zM861 810h5v1h-5zM865 806h1v1h-1zM864 807h1v2h-1zM866 807h1v2h-1zM863 809h5v1h-5zM812 827h1v1h-1zM811 828h1v2h-1zM813 828h1v2h-1zM810 830h5v1h-5zM804 815h1v1h-1zM803 816h1v2h-1zM805 816h1v2h-1zM802 818h5v1h-5zM771 841h1v1h-1zM770 842h1v2h-1zM772 842h1v2h-1zM769 844h5v1h-5zM889 948h1v1h-1zM888 949h1v2h-1zM890 949h1v2h-1zM887 951h5v1h-5zM872 954h1v1h-1zM871 955h1v2h-1zM873 955h1v2h-1zM870 957h5v1h-5zM908 932h1v1h-1zM907 933h1v2h-1zM909 933h1v2h-1zM906 935h5v1h-5zM911 942h1v1h-1zM910 943h1v2h-1zM912 943h1v2h-1zM909 945h5v1h-5zM916 939h1v1h-1zM915 940h1v2h-1zM917 940h1v2h-1zM914 942h5v1h-5zM916 942h1v1h-1zM915 943h1v2h-1zM917 943h1v2h-1zM914 945h5v1h-5zM912 947h1v1h-1zM911 948h1v2h-1zM913 948h1v2h-1zM910 950h5v1h-5zM907 952h1v1h-1zM906 953h1v2h-1zM908 953h1v2h-1zM905 955h5v1h-5zM913 951h1v1h-1zM912 952h1v2h-1zM914 952h1v2h-1zM911 954h5v1h-5zM920 951h1v1h-1zM919 952h1v2h-1zM921 952h1v2h-1zM918 954h5v1h-5zM921 946h1v1h-1zM920 947h1v2h-1zM922 947h1v2h-1zM919 949h5v1h-5zM922 934h1v1h-1zM921 935h1v2h-1zM923 935h1v2h-1zM920 937h5v1h-5zM924 927h1v1h-1zM923 928h1v2h-1zM925 928h1v2h-1zM922 930h5v1h-5zM929 930h1v1h-1zM928 931h1v2h-1zM930 931h1v2h-1zM927 933h5v1h-5zM934 928h1v1h-1zM933 929h1v2h-1zM935 929h1v2h-1zM932 931h5v1h-5zM939 927h1v1h-1zM938 928h1v2h-1zM940 928h1v2h-1zM937 930h5v1h-5zM942 925h1v1h-1zM941 926h1v2h-1zM943 926h1v2h-1zM940 928h5v1h-5zM943 927h1v1h-1zM942 928h1v2h-1zM944 928h1v2h-1zM941 930h5v1h-5zM758 767h1v1h-1zM757 768h1v2h-1zM759 768h1v2h-1zM756 770h5v1h-5zM756 773h1v1h-1zM755 774h1v2h-1zM757 774h1v2h-1zM754 776h5v1h-5zM750 778h1v1h-1zM749 779h1v2h-1zM751 779h1v2h-1zM748 781h5v1h-5zM746 782h1v1h-1zM745 783h1v2h-1zM747 783h1v2h-1zM744 785h5v1h-5zM748 789h1v1h-1zM747 790h1v2h-1zM749 790h1v2h-1zM746 792h5v1h-5zM753 788h1v1h-1zM752 789h1v2h-1zM754 789h1v2h-1zM751 791h5v1h-5zM751 789h1v1h-1zM750 790h1v2h-1zM752 790h1v2h-1zM749 792h5v1h-5zM746 791h1v1h-1zM745 792h1v2h-1zM747 792h1v2h-1zM744 794h5v1h-5zM748 794h1v1h-1zM747 795h1v2h-1zM749 795h1v2h-1zM746 797h5v1h-5zM745 796h1v1h-1zM744 797h1v2h-1zM746 797h1v2h-1zM743 799h5v1h-5zM744 799h1v1h-1zM743 800h1v2h-1zM745 800h1v2h-1zM742 802h5v1h-5zM746 798h1v1h-1zM745 799h1v2h-1zM747 799h1v2h-1zM744 801h5v1h-5zM738 800h1v1h-1zM737 801h1v2h-1zM739 801h1v2h-1zM736 803h5v1h-5zM733 802h1v1h-1zM732 803h1v2h-1zM734 803h1v2h-1zM731 805h5v1h-5zM728 804h1v1h-1zM727 805h1v2h-1zM729 805h1v2h-1zM726 807h5v1h-5zM728 808h1v1h-1zM727 809h1v2h-1zM729 809h1v2h-1zM726 811h5v1h-5zM723 809h1v1h-1zM722 810h1v2h-1zM724 810h1v2h-1zM721 812h5v1h-5zM719 812h1v1h-1zM718 813h1v2h-1zM720 813h1v2h-1zM717 815h5v1h-5zM712 812h1v1h-1zM711 813h1v2h-1zM713 813h1v2h-1zM710 815h5v1h-5zM707 817h1v1h-1zM706 818h1v2h-1zM708 818h1v2h-1zM705 820h5v1h-5zM701 822h1v1h-1zM700 823h1v2h-1zM702 823h1v2h-1zM699 825h5v1h-5zM701 829h1v1h-1zM700 830h1v2h-1zM702 830h1v2h-1zM699 832h5v1h-5zM697 834h1v1h-1zM696 835h1v2h-1zM698 835h1v2h-1zM695 837h5v1h-5zM694 840h1v1h-1zM693 841h1v2h-1zM695 841h1v2h-1zM692 843h5v1h-5zM692 842h1v1h-1zM691 843h1v2h-1zM693 843h1v2h-1zM690 845h5v1h-5zM695 843h1v1h-1zM694 844h1v2h-1zM696 844h1v2h-1zM693 846h5v1h-5zM699 844h1v1h-1zM698 845h1v2h-1zM700 845h1v2h-1zM697 847h5v1h-5zM702 844h1v1h-1zM701 845h1v2h-1zM703 845h1v2h-1zM700 847h5v1h-5zM705 845h1v1h-1zM704 846h1v2h-1zM706 846h1v2h-1zM703 848h5v1h-5zM707 845h1v1h-1zM706 846h1v2h-1zM708 846h1v2h-1zM705 848h5v1h-5zM714 850h1v1h-1zM713 851h1v2h-1zM715 851h1v2h-1zM712 853h5v1h-5zM727 853h1v1h-1zM726 854h1v2h-1zM728 854h1v2h-1zM725 856h5v1h-5zM748 847h1v1h-1zM747 848h1v2h-1zM749 848h1v2h-1zM746 850h5v1h-5zM761 761h1v1h-1zM760 762h1v2h-1zM762 762h1v2h-1zM759 764h5v1h-5zM766 760h1v1h-1zM765 761h1v2h-1zM767 761h1v2h-1zM764 763h5v1h-5zM775 758h1v1h-1zM774 759h1v2h-1zM776 759h1v2h-1zM773 761h5v1h-5zM762 768h1v1h-1zM761 769h1v2h-1zM763 769h1v2h-1zM760 771h5v1h-5zM764 770h1v1h-1zM763 771h1v2h-1zM765 771h1v2h-1zM762 773h5v1h-5zM771 753h1v1h-1zM770 754h1v2h-1zM772 754h1v2h-1zM769 756h5v1h-5zM777 750h1v1h-1zM776 751h1v2h-1zM778 751h1v2h-1zM775 753h5v1h-5zM783 747h1v1h-1zM782 748h1v2h-1zM784 748h1v2h-1zM781 750h5v1h-5zM789 743h1v1h-1zM788 744h1v2h-1zM790 744h1v2h-1zM787 746h5v1h-5zM793 741h1v1h-1zM792 742h1v2h-1zM794 742h1v2h-1zM791 744h5v1h-5zM797 739h1v1h-1zM796 740h1v2h-1zM798 740h1v2h-1zM795 742h5v1h-5zM798 738h1v1h-1zM797 739h1v2h-1zM799 739h1v2h-1zM796 741h5v1h-5zM801 737h1v1h-1zM800 738h1v2h-1zM802 738h1v2h-1zM799 740h5v1h-5zM801 731h1v1h-1zM800 732h1v2h-1zM802 732h1v2h-1zM799 734h5v1h-5zM809 730h1v1h-1zM808 731h1v2h-1zM810 731h1v2h-1zM807 733h5v1h-5zM806 727h1v1h-1zM805 728h1v2h-1zM807 728h1v2h-1zM804 730h5v1h-5zM801 722h1v1h-1zM800 723h1v2h-1zM802 723h1v2h-1zM799 725h5v1h-5zM806 717h1v1h-1zM805 718h1v2h-1zM807 718h1v2h-1zM804 720h5v1h-5zM815 724h1v1h-1zM814 725h1v2h-1zM816 725h1v2h-1zM813 727h5v1h-5zM821 721h1v1h-1zM820 722h1v2h-1zM822 722h1v2h-1zM819 724h5v1h-5zM826 720h1v1h-1zM825 721h1v2h-1zM827 721h1v2h-1zM824 723h5v1h-5zM829 718h1v1h-1zM828 719h1v2h-1zM830 719h1v2h-1zM827 721h5v1h-5zM833 718h1v1h-1zM832 719h1v2h-1zM834 719h1v2h-1zM831 721h5v1h-5zM825 709h1v1h-1zM824 710h1v2h-1zM826 710h1v2h-1zM823 712h5v1h-5zM826 707h1v1h-1zM825 708h1v2h-1zM827 708h1v2h-1zM824 710h5v1h-5zM826 704h1v1h-1zM825 705h1v2h-1zM827 705h1v2h-1zM824 707h5v1h-5zM830 698h1v1h-1zM829 699h1v2h-1zM831 699h1v2h-1zM828 701h5v1h-5zM814 704h1v1h-1zM813 705h1v2h-1zM815 705h1v2h-1zM812 707h5v1h-5zM842 694h1v1h-1zM841 695h1v2h-1zM843 695h1v2h-1zM840 697h5v1h-5zM842 692h1v1h-1zM841 693h1v2h-1zM843 693h1v2h-1zM840 695h5v1h-5zM849 687h1v1h-1zM848 688h1v2h-1zM850 688h1v2h-1zM847 690h5v1h-5zM856 681h1v1h-1zM855 682h1v2h-1zM857 682h1v2h-1zM854 684h5v1h-5zM865 680h1v1h-1zM864 681h1v2h-1zM866 681h1v2h-1zM863 683h5v1h-5zM873 675h1v1h-1zM872 676h1v2h-1zM874 676h1v2h-1zM871 678h5v1h-5zM882 668h1v1h-1zM881 669h1v2h-1zM883 669h1v2h-1zM880 671h5v1h-5zM891 667h1v1h-1zM890 668h1v2h-1zM892 668h1v2h-1zM889 670h5v1h-5zM899 665h1v1h-1zM898 666h1v2h-1zM900 666h1v2h-1zM897 668h5v1h-5zM902 663h1v1h-1zM901 664h1v2h-1zM903 664h1v2h-1zM900 666h5v1h-5zM903 661h1v1h-1zM902 662h1v2h-1zM904 662h1v2h-1zM901 664h5v1h-5zM904 659h1v1h-1zM903 660h1v2h-1zM905 660h1v2h-1zM902 662h5v1h-5zM906 657h1v1h-1zM905 658h1v2h-1zM907 658h1v2h-1zM904 660h5v1h-5zM908 655h1v1h-1zM907 656h1v2h-1zM909 656h1v2h-1zM906 658h5v1h-5zM911 653h1v1h-1zM910 654h1v2h-1zM912 654h1v2h-1zM909 656h5v1h-5zM913 650h1v1h-1zM912 651h1v2h-1zM914 651h1v2h-1zM911 653h5v1h-5zM910 656h1v1h-1zM909 657h1v2h-1zM911 657h1v2h-1zM908 659h5v1h-5zM904 663h1v1h-1zM903 664h1v2h-1zM905 664h1v2h-1zM902 666h5v1h-5zM917 643h1v1h-1zM916 644h1v2h-1zM918 644h1v2h-1zM915 646h5v1h-5zM925 639h1v1h-1zM924 640h1v2h-1zM926 640h1v2h-1zM923 642h5v1h-5zM935 638h1v1h-1zM934 639h1v2h-1zM936 639h1v2h-1zM933 641h5v1h-5zM937 638h1v1h-1zM936 639h1v2h-1zM938 639h1v2h-1zM935 641h5v1h-5zM1008 520h1v1h-1zM1007 521h1v2h-1zM1009 521h1v2h-1zM1006 523h5v1h-5zM1014 524h1v1h-1zM1013 525h1v2h-1zM1015 525h1v2h-1zM1012 527h5v1h-5zM1016 521h1v1h-1zM1015 522h1v2h-1zM1017 522h1v2h-1zM1014 524h5v1h-5zM1018 519h1v1h-1zM1017 520h1v2h-1zM1019 520h1v2h-1zM1016 522h5v1h-5zM1019 524h1v1h-1zM1018 525h1v2h-1zM1020 525h1v2h-1zM1017 527h5v1h-5zM1020 526h1v1h-1zM1019 527h1v2h-1zM1021 527h1v2h-1zM1018 529h5v1h-5zM1022 520h1v1h-1zM1021 521h1v2h-1zM1023 521h1v2h-1zM1020 523h5v1h-5zM1023 515h1v1h-1zM1022 516h1v2h-1zM1024 516h1v2h-1zM1021 518h5v1h-5zM1026 524h1v1h-1zM1025 525h1v2h-1zM1027 525h1v2h-1zM1024 527h5v1h-5zM1028 514h1v1h-1zM1027 515h1v2h-1zM1029 515h1v2h-1zM1026 517h5v1h-5zM1030 511h1v1h-1zM1029 512h1v2h-1zM1031 512h1v2h-1zM1028 514h5v1h-5zM1032 514h1v1h-1zM1031 515h1v2h-1zM1033 515h1v2h-1zM1030 517h5v1h-5zM1035 509h1v1h-1zM1034 510h1v2h-1zM1036 510h1v2h-1zM1033 512h5v1h-5zM1037 506h1v1h-1zM1036 507h1v2h-1zM1038 507h1v2h-1zM1035 509h5v1h-5zM1040 505h1v1h-1zM1039 506h1v2h-1zM1041 506h1v2h-1zM1038 508h5v1h-5zM1044 500h1v1h-1zM1043 501h1v2h-1zM1045 501h1v2h-1zM1042 503h5v1h-5zM1047 499h1v1h-1zM1046 500h1v2h-1zM1048 500h1v2h-1zM1045 502h5v1h-5zM1048 496h1v1h-1zM1047 497h1v2h-1zM1049 497h1v2h-1zM1046 499h5v1h-5zM1052 493h1v1h-1zM1051 494h1v2h-1zM1053 494h1v2h-1zM1050 496h5v1h-5zM1055 492h1v1h-1zM1054 493h1v2h-1zM1056 493h1v2h-1zM1053 495h5v1h-5zM1059 490h1v1h-1zM1058 491h1v2h-1zM1060 491h1v2h-1zM1057 493h5v1h-5zM1063 488h1v1h-1zM1062 489h1v2h-1zM1064 489h1v2h-1zM1061 491h5v1h-5zM1066 486h1v1h-1zM1065 487h1v2h-1zM1067 487h1v2h-1zM1064 489h5v1h-5zM1070 485h1v1h-1zM1069 486h1v2h-1zM1071 486h1v2h-1zM1068 488h5v1h-5zM1072 483h1v1h-1zM1071 484h1v2h-1zM1073 484h1v2h-1zM1070 486h5v1h-5zM1075 477h1v1h-1zM1074 478h1v2h-1zM1076 478h1v2h-1zM1073 480h5v1h-5zM1079 476h1v1h-1zM1078 477h1v2h-1zM1080 477h1v2h-1zM1077 479h5v1h-5zM1081 473h1v1h-1zM1080 474h1v2h-1zM1082 474h1v2h-1zM1079 476h5v1h-5zM1084 470h1v1h-1zM1083 471h1v2h-1zM1085 471h1v2h-1zM1082 473h5v1h-5zM1088 468h1v1h-1zM1087 469h1v2h-1zM1089 469h1v2h-1zM1086 471h5v1h-5zM1091 467h1v1h-1zM1090 468h1v2h-1zM1092 468h1v2h-1zM1089 470h5v1h-5zM1094 466h1v1h-1zM1093 467h1v2h-1zM1095 467h1v2h-1zM1092 469h5v1h-5zM1097 467h1v1h-1zM1096 468h1v2h-1zM1098 468h1v2h-1zM1095 470h5v1h-5zM1099 464h1v1h-1zM1098 465h1v2h-1zM1100 465h1v2h-1zM1097 467h5v1h-5zM1080 481h1v1h-1zM1079 482h1v2h-1zM1081 482h1v2h-1zM1078 484h5v1h-5zM1001 528h1v1h-1zM1000 529h1v2h-1zM1002 529h1v2h-1zM999 531h5v1h-5zM1001 540h1v1h-1zM1000 541h1v2h-1zM1002 541h1v2h-1zM999 543h5v1h-5zM1005 537h1v1h-1zM1004 538h1v2h-1zM1006 538h1v2h-1zM1003 540h5v1h-5zM1009 536h1v1h-1zM1008 537h1v2h-1zM1010 537h1v2h-1zM1007 539h5v1h-5zM1012 536h1v1h-1zM1011 537h1v2h-1zM1013 537h1v2h-1zM1010 539h5v1h-5zM1018 536h1v1h-1zM1017 537h1v2h-1zM1019 537h1v2h-1zM1016 539h5v1h-5zM1022 534h1v1h-1zM1021 535h1v2h-1zM1023 535h1v2h-1zM1020 537h5v1h-5zM1019 542h1v1h-1zM1018 543h1v2h-1zM1020 543h1v2h-1zM1017 545h5v1h-5zM1021 546h1v1h-1zM1020 547h1v2h-1zM1022 547h1v2h-1zM1019 549h5v1h-5zM1024 547h1v1h-1zM1023 548h1v2h-1zM1025 548h1v2h-1zM1022 550h5v1h-5zM1027 548h1v1h-1zM1026 549h1v2h-1zM1028 549h1v2h-1zM1025 551h5v1h-5zM1032 548h1v1h-1zM1031 549h1v2h-1zM1033 549h1v2h-1zM1030 551h5v1h-5zM1030 533h1v1h-1zM1029 534h1v2h-1zM1031 534h1v2h-1zM1028 536h5v1h-5zM1034 531h1v1h-1zM1033 532h1v2h-1zM1035 532h1v2h-1zM1032 534h5v1h-5zM1038 530h1v1h-1zM1037 531h1v2h-1zM1039 531h1v2h-1zM1036 533h5v1h-5zM1041 529h1v1h-1zM1040 530h1v2h-1zM1042 530h1v2h-1zM1039 532h5v1h-5zM1044 528h1v1h-1zM1043 529h1v2h-1zM1045 529h1v2h-1zM1042 531h5v1h-5zM1045 524h1v1h-1zM1044 525h1v2h-1zM1046 525h1v2h-1zM1043 527h5v1h-5zM1050 526h1v1h-1zM1049 527h1v2h-1zM1051 527h1v2h-1zM1048 529h5v1h-5zM1052 519h1v1h-1zM1051 520h1v2h-1zM1053 520h1v2h-1zM1050 522h5v1h-5zM1057 517h1v1h-1zM1056 518h1v2h-1zM1058 518h1v2h-1zM1055 520h5v1h-5zM1057 524h1v1h-1zM1056 525h1v2h-1zM1058 525h1v2h-1zM1055 527h5v1h-5zM1063 523h1v1h-1zM1062 524h1v2h-1zM1064 524h1v2h-1zM1061 526h5v1h-5zM1066 522h1v1h-1zM1065 523h1v2h-1zM1067 523h1v2h-1zM1064 525h5v1h-5zM1065 517h1v1h-1zM1064 518h1v2h-1zM1066 518h1v2h-1zM1063 520h5v1h-5zM1068 516h1v1h-1zM1067 517h1v2h-1zM1069 517h1v2h-1zM1066 519h5v1h-5zM1072 515h1v1h-1zM1071 516h1v2h-1zM1073 516h1v2h-1zM1070 518h5v1h-5zM1075 517h1v1h-1zM1074 518h1v2h-1zM1076 518h1v2h-1zM1073 520h5v1h-5zM1048 546h1v1h-1zM1047 547h1v2h-1zM1049 547h1v2h-1zM1046 549h5v1h-5zM1077 532h1v1h-1zM1076 533h1v2h-1zM1078 533h1v2h-1zM1075 535h5v1h-5zM1074 531h1v1h-1zM1073 532h1v2h-1zM1075 532h1v2h-1zM1072 534h5v1h-5zM1070 534h1v1h-1zM1069 535h1v2h-1zM1071 535h1v2h-1zM1068 537h5v1h-5zM1066 537h1v1h-1zM1065 538h1v2h-1zM1067 538h1v2h-1zM1064 540h5v1h-5zM1065 540h1v1h-1zM1064 541h1v2h-1zM1066 541h1v2h-1zM1063 543h5v1h-5zM1064 544h1v1h-1zM1063 545h1v2h-1zM1065 545h1v2h-1zM1062 547h5v1h-5zM1061 546h1v1h-1zM1060 547h1v2h-1zM1062 547h1v2h-1zM1059 549h5v1h-5zM1059 549h1v1h-1zM1058 550h1v2h-1zM1060 550h1v2h-1zM1057 552h5v1h-5zM1057 552h1v1h-1zM1056 553h1v2h-1zM1058 553h1v2h-1zM1055 555h5v1h-5zM1054 554h1v1h-1zM1053 555h1v2h-1zM1055 555h1v2h-1zM1052 557h5v1h-5zM1051 558h1v1h-1zM1050 559h1v2h-1zM1052 559h1v2h-1zM1049 561h5v1h-5zM1049 561h1v1h-1zM1048 562h1v2h-1zM1050 562h1v2h-1zM1047 564h5v1h-5zM1048 564h1v1h-1zM1047 565h1v2h-1zM1049 565h1v2h-1zM1046 567h5v1h-5zM1046 567h1v1h-1zM1045 568h1v2h-1zM1047 568h1v2h-1zM1044 570h5v1h-5zM1051 567h1v1h-1zM1050 568h1v2h-1zM1052 568h1v2h-1zM1049 570h5v1h-5zM1044 568h1v1h-1zM1043 569h1v2h-1zM1045 569h1v2h-1zM1042 571h5v1h-5zM1037 569h1v1h-1zM1036 570h1v2h-1zM1038 570h1v2h-1zM1035 572h5v1h-5zM1031 573h1v1h-1zM1030 574h1v2h-1zM1032 574h1v2h-1zM1029 576h5v1h-5zM1028 577h1v1h-1zM1027 578h1v2h-1zM1029 578h1v2h-1zM1026 580h5v1h-5zM925 637h1v1h-1zM924 638h1v2h-1zM926 638h1v2h-1zM923 640h5v1h-5zM936 636h1v1h-1zM935 637h1v2h-1zM937 637h1v2h-1zM934 639h5v1h-5zM942 632h1v1h-1zM941 633h1v2h-1zM943 633h1v2h-1zM940 635h5v1h-5zM948 630h1v1h-1zM947 631h1v2h-1zM949 631h1v2h-1zM946 633h5v1h-5zM954 628h1v1h-1zM953 629h1v2h-1zM955 629h1v2h-1zM952 631h5v1h-5zM956 625h1v1h-1zM955 626h1v2h-1zM957 626h1v2h-1zM954 628h5v1h-5zM959 622h1v1h-1zM958 623h1v2h-1zM960 623h1v2h-1zM957 625h5v1h-5zM961 621h1v1h-1zM960 622h1v2h-1zM962 622h1v2h-1zM959 624h5v1h-5zM965 618h1v1h-1zM964 619h1v2h-1zM966 619h1v2h-1zM963 621h5v1h-5zM968 617h1v1h-1zM967 618h1v2h-1zM969 618h1v2h-1zM966 620h5v1h-5zM963 614h1v1h-1zM962 615h1v2h-1zM964 615h1v2h-1zM961 617h5v1h-5zM968 611h1v1h-1zM967 612h1v2h-1zM969 612h1v2h-1zM966 614h5v1h-5zM970 608h1v1h-1zM969 609h1v2h-1zM971 609h1v2h-1zM968 611h5v1h-5zM974 608h1v1h-1zM973 609h1v2h-1zM975 609h1v2h-1zM972 611h5v1h-5zM978 604h1v1h-1zM977 605h1v2h-1zM979 605h1v2h-1zM976 607h5v1h-5zM979 600h1v1h-1zM978 601h1v2h-1zM980 601h1v2h-1zM977 603h5v1h-5zM984 600h1v1h-1zM983 601h1v2h-1zM985 601h1v2h-1zM982 603h5v1h-5zM987 600h1v1h-1zM986 601h1v2h-1zM988 601h1v2h-1zM985 603h5v1h-5zM993 595h1v1h-1zM992 596h1v2h-1zM994 596h1v2h-1zM991 598h5v1h-5zM999 586h1v1h-1zM998 587h1v2h-1zM1000 587h1v2h-1zM997 589h5v1h-5zM1012 584h1v1h-1zM1011 585h1v2h-1zM1013 585h1v2h-1zM1010 587h5v1h-5zM1016 581h1v1h-1zM1015 582h1v2h-1zM1017 582h1v2h-1zM1014 584h5v1h-5zM983 540h1v1h-1zM982 541h1v2h-1zM984 541h1v2h-1zM981 543h5v1h-5zM986 541h1v1h-1zM985 542h1v2h-1zM987 542h1v2h-1zM984 544h5v1h-5zM988 540h1v1h-1zM987 541h1v2h-1zM989 541h1v2h-1zM986 543h5v1h-5zM990 536h1v1h-1zM989 537h1v2h-1zM991 537h1v2h-1zM988 539h5v1h-5zM993 533h1v1h-1zM992 534h1v2h-1zM994 534h1v2h-1zM991 536h5v1h-5zM999 532h1v1h-1zM998 533h1v2h-1zM1000 533h1v2h-1zM997 535h5v1h-5zM997 540h1v1h-1zM996 541h1v2h-1zM998 541h1v2h-1zM995 543h5v1h-5zM1114 352h1v1h-1zM1113 353h1v2h-1zM1115 353h1v2h-1zM1112 355h5v1h-5zM1089 325h1v1h-1zM1088 326h1v2h-1zM1090 326h1v2h-1zM1087 328h5v1h-5zM1102 298h1v1h-1zM1101 299h1v2h-1zM1103 299h1v2h-1zM1100 301h5v1h-5zM1102 267h1v1h-1zM1101 268h1v2h-1zM1103 268h1v2h-1zM1100 270h5v1h-5zM1114 250h1v1h-1zM1113 251h1v2h-1zM1115 251h1v2h-1zM1112 253h5v1h-5zM1140 238h1v1h-1zM1139 239h1v2h-1zM1141 239h1v2h-1zM1138 241h5v1h-5zM1168 236h1v1h-1zM1167 237h1v2h-1zM1169 237h1v2h-1zM1166 239h5v1h-5zM1191 233h1v1h-1zM1190 234h1v2h-1zM1192 234h1v2h-1zM1189 236h5v1h-5zM1207 231h1v1h-1zM1206 232h1v2h-1zM1208 232h1v2h-1zM1205 234h5v1h-5zM1218 230h1v1h-1zM1217 231h1v2h-1zM1219 231h1v2h-1zM1216 233h5v1h-5zM1124 373h1v1h-1zM1123 374h1v2h-1zM1125 374h1v2h-1zM1122 376h5v1h-5zM1128 382h1v1h-1zM1127 383h1v2h-1zM1129 383h1v2h-1zM1126 385h5v1h-5zM1130 384h1v1h-1zM1129 385h1v2h-1zM1131 385h1v2h-1zM1128 387h5v1h-5zM1125 388h1v1h-1zM1124 389h1v2h-1zM1126 389h1v2h-1zM1123 391h5v1h-5zM1123 388h1v1h-1zM1122 389h1v2h-1zM1124 389h1v2h-1zM1121 391h5v1h-5zM1116 392h1v1h-1zM1115 393h1v2h-1zM1117 393h1v2h-1zM1114 395h5v1h-5zM1120 397h1v1h-1zM1119 398h1v2h-1zM1121 398h1v2h-1zM1118 400h5v1h-5zM1116 402h1v1h-1zM1115 403h1v2h-1zM1117 403h1v2h-1zM1114 405h5v1h-5zM1114 404h1v1h-1zM1113 405h1v2h-1zM1115 405h1v2h-1zM1112 407h5v1h-5zM1122 412h1v1h-1zM1121 413h1v2h-1zM1123 413h1v2h-1zM1120 415h5v1h-5zM1120 416h1v1h-1zM1119 417h1v2h-1zM1121 417h1v2h-1zM1118 419h5v1h-5zM1122 418h1v1h-1zM1121 419h1v2h-1zM1123 419h1v2h-1zM1120 421h5v1h-5zM1124 421h1v1h-1zM1123 422h1v2h-1zM1125 422h1v2h-1zM1122 424h5v1h-5zM1129 425h1v1h-1zM1128 426h1v2h-1zM1130 426h1v2h-1zM1127 428h5v1h-5zM1132 423h1v1h-1zM1131 424h1v2h-1zM1133 424h1v2h-1zM1130 426h5v1h-5zM1134 427h1v1h-1zM1133 428h1v2h-1zM1135 428h1v2h-1zM1132 430h5v1h-5zM1135 429h1v1h-1zM1134 430h1v2h-1zM1136 430h1v2h-1zM1133 432h5v1h-5zM1137 430h1v1h-1zM1136 431h1v2h-1zM1138 431h1v2h-1zM1135 433h5v1h-5zM1132 430h1v1h-1zM1131 431h1v2h-1zM1133 431h1v2h-1zM1130 433h5v1h-5zM1130 433h1v1h-1zM1129 434h1v2h-1zM1131 434h1v2h-1zM1128 436h5v1h-5zM1122 434h1v1h-1zM1121 435h1v2h-1zM1123 435h1v2h-1zM1120 437h5v1h-5zM1124 436h1v1h-1zM1123 437h1v2h-1zM1125 437h1v2h-1zM1122 439h5v1h-5zM1121 438h1v1h-1zM1120 439h1v2h-1zM1122 439h1v2h-1zM1119 441h5v1h-5zM1119 441h1v1h-1zM1118 442h1v2h-1zM1120 442h1v2h-1zM1117 444h5v1h-5zM1115 443h1v1h-1zM1114 444h1v2h-1zM1116 444h1v2h-1zM1113 446h5v1h-5zM1114 445h1v1h-1zM1113 446h1v2h-1zM1115 446h1v2h-1zM1112 448h5v1h-5zM1112 448h1v1h-1zM1111 449h1v2h-1zM1113 449h1v2h-1zM1110 451h5v1h-5zM1111 450h1v1h-1zM1110 451h1v2h-1zM1112 451h1v2h-1zM1109 453h5v1h-5zM1112 452h1v1h-1zM1111 453h1v2h-1zM1113 453h1v2h-1zM1110 455h5v1h-5zM1116 452h1v1h-1zM1115 453h1v2h-1zM1117 453h1v2h-1zM1114 455h5v1h-5zM1120 451h1v1h-1zM1119 452h1v2h-1zM1121 452h1v2h-1zM1118 454h5v1h-5zM1121 449h1v1h-1zM1120 450h1v2h-1zM1122 450h1v2h-1zM1119 452h5v1h-5zM1125 447h1v1h-1zM1124 448h1v2h-1zM1126 448h1v2h-1zM1123 450h5v1h-5zM1128 446h1v1h-1zM1127 447h1v2h-1zM1129 447h1v2h-1zM1126 449h5v1h-5zM1134 445h1v1h-1zM1133 446h1v2h-1zM1135 446h1v2h-1zM1132 448h5v1h-5zM1135 446h1v1h-1zM1134 447h1v2h-1zM1136 447h1v2h-1zM1133 449h5v1h-5zM1113 456h1v1h-1zM1112 457h1v2h-1zM1114 457h1v2h-1zM1111 459h5v1h-5zM1107 457h1v1h-1zM1106 458h1v2h-1zM1108 458h1v2h-1zM1105 460h5v1h-5zM1105 460h1v1h-1zM1104 461h1v2h-1zM1106 461h1v2h-1zM1103 463h5v1h-5zM1104 463h1v1h-1zM1103 464h1v2h-1zM1105 464h1v2h-1zM1102 466h5v1h-5zM1142 421h1v1h-1zM1141 422h1v2h-1zM1143 422h1v2h-1zM1140 424h5v1h-5zM1146 422h1v1h-1zM1145 423h1v2h-1zM1147 423h1v2h-1zM1144 425h5v1h-5zM1149 421h1v1h-1zM1148 422h1v2h-1zM1150 422h1v2h-1zM1147 424h5v1h-5zM1151 421h1v1h-1zM1150 422h1v2h-1zM1152 422h1v2h-1zM1149 424h5v1h-5zM1228 229h1v1h-1zM1227 230h1v2h-1zM1229 230h1v2h-1zM1226 232h5v1h-5zM1237 230h1v1h-1zM1236 231h1v2h-1zM1238 231h1v2h-1zM1235 233h5v1h-5zM1241 230h1v1h-1zM1240 231h1v2h-1zM1242 231h1v2h-1zM1239 233h5v1h-5zM1250 230h1v1h-1zM1249 231h1v2h-1zM1251 231h1v2h-1zM1248 233h5v1h-5zM1253 229h1v1h-1zM1252 230h1v2h-1zM1254 230h1v2h-1zM1251 232h5v1h-5zM1256 228h1v1h-1zM1255 229h1v2h-1zM1257 229h1v2h-1zM1254 231h5v1h-5zM1259 228h1v1h-1zM1258 229h1v2h-1zM1260 229h1v2h-1zM1257 231h5v1h-5zM1261 226h1v1h-1zM1260 227h1v2h-1zM1262 227h1v2h-1zM1259 229h5v1h-5zM1258 224h1v1h-1zM1257 225h1v2h-1zM1259 225h1v2h-1zM1256 227h5v1h-5zM1256 221h1v1h-1zM1255 222h1v2h-1zM1257 222h1v2h-1zM1254 224h5v1h-5zM1255 218h1v1h-1zM1254 219h1v2h-1zM1256 219h1v2h-1zM1253 221h5v1h-5zM1256 216h1v1h-1zM1255 217h1v2h-1zM1257 217h1v2h-1zM1254 219h5v1h-5zM1254 214h1v1h-1zM1253 215h1v2h-1zM1255 215h1v2h-1zM1252 217h5v1h-5zM1255 213h1v1h-1zM1254 214h1v2h-1zM1256 214h1v2h-1zM1253 216h5v1h-5zM1252 211h1v1h-1zM1251 212h1v2h-1zM1253 212h1v2h-1zM1250 214h5v1h-5zM1250 212h1v1h-1zM1249 213h1v2h-1zM1251 213h1v2h-1zM1248 215h5v1h-5zM1249 208h1v1h-1zM1248 209h1v2h-1zM1250 209h1v2h-1zM1247 211h5v1h-5zM1246 204h1v1h-1zM1245 205h1v2h-1zM1247 205h1v2h-1zM1244 207h5v1h-5zM1248 199h1v1h-1zM1247 200h1v2h-1zM1249 200h1v2h-1zM1246 202h5v1h-5zM1252 226h1v1h-1zM1251 227h1v2h-1zM1253 227h1v2h-1zM1250 229h5v1h-5zM1259 220h1v1h-1zM1258 221h1v2h-1zM1260 221h1v2h-1zM1257 223h5v1h-5zM1261 222h1v1h-1zM1260 223h1v2h-1zM1262 223h1v2h-1zM1259 225h5v1h-5zM1257 219h1v1h-1zM1256 220h1v2h-1zM1258 220h1v2h-1zM1255 222h5v1h-5zM1258 216h1v1h-1zM1257 217h1v2h-1zM1259 217h1v2h-1zM1256 219h5v1h-5zM1185 122h1v1h-1zM1184 123h1v2h-1zM1186 123h1v2h-1zM1183 125h5v1h-5zM1186 136h1v1h-1zM1185 137h1v2h-1zM1187 137h1v2h-1zM1184 139h5v1h-5zM1201 113h1v1h-1zM1200 114h1v2h-1zM1202 114h1v2h-1zM1199 116h5v1h-5zM1213 110h1v1h-1zM1212 111h1v2h-1zM1214 111h1v2h-1zM1211 113h5v1h-5zM1241 108h1v1h-1zM1240 109h1v2h-1zM1242 109h1v2h-1zM1239 111h5v1h-5zM1259 108h1v1h-1zM1258 109h1v2h-1zM1260 109h1v2h-1zM1257 111h5v1h-5zM1262 108h1v1h-1zM1261 109h1v2h-1zM1263 109h1v2h-1zM1260 111h5v1h-5zM1223 172h1v1h-1zM1222 173h1v2h-1zM1224 173h1v2h-1zM1221 175h5v1h-5zM1302 101h1v1h-1zM1301 102h1v2h-1zM1303 102h1v2h-1zM1300 104h5v1h-5zM1314 104h1v1h-1zM1313 105h1v2h-1zM1315 105h1v2h-1zM1312 107h5v1h-5zM771 1104h1v1h-1zM770 1105h1v2h-1zM772 1105h1v2h-1zM769 1107h5v1h-5zM772 1102h1v1h-1zM771 1103h1v2h-1zM773 1103h1v2h-1zM770 1105h5v1h-5zM771 1105h1v1h-1zM770 1106h1v2h-1zM772 1106h1v2h-1zM769 1108h5v1h-5zM771 1103h1v1h-1zM770 1104h1v2h-1zM772 1104h1v2h-1zM769 1106h5v1h-5zM773 1105h1v1h-1zM772 1106h1v2h-1zM774 1106h1v2h-1zM771 1108h5v1h-5zM770 1103h1v1h-1zM769 1104h1v2h-1zM771 1104h1v2h-1zM768 1106h5v1h-5zM831 1057h1v1h-1zM830 1058h1v2h-1zM832 1058h1v2h-1zM829 1060h5v1h-5zM835 1058h1v1h-1zM834 1059h1v2h-1zM836 1059h1v2h-1zM833 1061h5v1h-5zM837 1058h1v1h-1zM836 1059h1v2h-1zM838 1059h1v2h-1zM835 1061h5v1h-5zM832 1058h1v1h-1zM831 1059h1v2h-1zM833 1059h1v2h-1zM830 1061h5v1h-5zM833 1056h1v1h-1zM832 1057h1v2h-1zM834 1057h1v2h-1zM831 1059h5v1h-5zM833 1059h1v1h-1zM832 1060h1v2h-1zM834 1060h1v2h-1zM831 1062h5v1h-5zM831 1062h1v1h-1zM830 1063h1v2h-1zM832 1063h1v2h-1zM829 1065h5v1h-5zM838 1058h1v1h-1zM837 1059h1v2h-1zM839 1059h1v2h-1zM836 1061h5v1h-5zM839 1058h1v1h-1zM838 1059h1v2h-1zM840 1059h1v2h-1zM837 1061h5v1h-5zM837 1055h1v1h-1zM836 1056h1v2h-1zM838 1056h1v2h-1zM835 1058h5v1h-5zM870 1024h1v1h-1zM869 1025h1v2h-1zM871 1025h1v2h-1zM868 1027h5v1h-5zM872 1025h1v1h-1zM871 1026h1v2h-1zM873 1026h1v2h-1zM870 1028h5v1h-5zM872 1026h1v1h-1zM871 1027h1v2h-1zM873 1027h1v2h-1zM870 1029h5v1h-5zM872 1024h1v1h-1zM871 1025h1v2h-1zM873 1025h1v2h-1zM870 1027h5v1h-5zM872 1030h1v1h-1zM871 1031h1v2h-1zM873 1031h1v2h-1zM870 1033h5v1h-5zM867 1027h1v1h-1zM866 1028h1v2h-1zM868 1028h1v2h-1zM865 1030h5v1h-5zM873 1028h1v1h-1zM872 1029h1v2h-1zM874 1029h1v2h-1zM871 1031h5v1h-5zM875 1027h1v1h-1zM874 1028h1v2h-1zM876 1028h1v2h-1zM873 1030h5v1h-5zM873 1016h1v1h-1zM872 1017h1v2h-1zM874 1017h1v2h-1zM871 1019h5v1h-5zM871 1014h1v1h-1zM870 1015h1v2h-1zM872 1015h1v2h-1zM869 1017h5v1h-5zM872 1015h1v1h-1zM871 1016h1v2h-1zM873 1016h1v2h-1zM870 1018h5v1h-5zM872 1014h1v1h-1zM871 1015h1v2h-1zM873 1015h1v2h-1zM870 1017h5v1h-5zM875 1014h1v1h-1zM874 1015h1v2h-1zM876 1015h1v2h-1zM873 1017h5v1h-5zM869 994h1v1h-1zM868 995h1v2h-1zM870 995h1v2h-1zM867 997h5v1h-5zM872 995h1v1h-1zM871 996h1v2h-1zM873 996h1v2h-1zM870 998h5v1h-5zM870 995h1v1h-1zM869 996h1v2h-1zM871 996h1v2h-1zM868 998h5v1h-5zM869 992h1v1h-1zM868 993h1v2h-1zM870 993h1v2h-1zM867 995h5v1h-5zM874 996h1v1h-1zM873 997h1v2h-1zM875 997h1v2h-1zM872 999h5v1h-5zM869 997h1v1h-1zM868 998h1v2h-1zM870 998h1v2h-1zM867 1000h5v1h-5zM863 803h1v1h-1zM862 804h1v2h-1zM864 804h1v2h-1zM861 806h5v1h-5zM860 808h1v1h-1zM859 809h1v2h-1zM861 809h1v2h-1zM858 811h5v1h-5zM863 804h1v1h-1zM862 805h1v2h-1zM864 805h1v2h-1zM861 807h5v1h-5zM858 805h1v1h-1zM857 806h1v2h-1zM859 806h1v2h-1zM856 808h5v1h-5zM859 800h1v1h-1zM858 801h1v2h-1zM860 801h1v2h-1zM857 803h5v1h-5zM860 807h1v1h-1zM859 808h1v2h-1zM861 808h1v2h-1zM858 810h5v1h-5zM859 801h1v1h-1zM858 802h1v2h-1zM860 802h1v2h-1zM857 804h5v1h-5zM863 805h1v1h-1zM862 806h1v2h-1zM864 806h1v2h-1zM861 808h5v1h-5zM862 807h1v1h-1zM861 808h1v2h-1zM863 808h1v2h-1zM860 810h5v1h-5zM861 806h1v1h-1zM860 807h1v2h-1zM862 807h1v2h-1zM859 809h5v1h-5zM840 823h1v1h-1zM839 824h1v2h-1zM841 824h1v2h-1zM838 826h5v1h-5zM838 825h1v1h-1zM837 826h1v2h-1zM839 826h1v2h-1zM836 828h5v1h-5zM838 822h1v1h-1zM837 823h1v2h-1zM839 823h1v2h-1zM836 825h5v1h-5zM866 844h1v1h-1zM865 845h1v2h-1zM867 845h1v2h-1zM864 847h5v1h-5zM866 848h1v1h-1zM865 849h1v2h-1zM867 849h1v2h-1zM864 851h5v1h-5zM864 850h1v1h-1zM863 851h1v2h-1zM865 851h1v2h-1zM862 853h5v1h-5zM865 844h1v1h-1zM864 845h1v2h-1zM866 845h1v2h-1zM863 847h5v1h-5zM867 846h1v1h-1zM866 847h1v2h-1zM868 847h1v2h-1zM865 849h5v1h-5zM865 846h1v1h-1zM864 847h1v2h-1zM866 847h1v2h-1zM863 849h5v1h-5zM857 874h1v1h-1zM856 875h1v2h-1zM858 875h1v2h-1zM855 877h5v1h-5zM857 876h1v1h-1zM856 877h1v2h-1zM858 877h1v2h-1zM855 879h5v1h-5zM854 876h1v1h-1zM853 877h1v2h-1zM855 877h1v2h-1zM852 879h5v1h-5zM856 876h1v1h-1zM855 877h1v2h-1zM857 877h1v2h-1zM854 879h5v1h-5zM858 875h1v1h-1zM857 876h1v2h-1zM859 876h1v2h-1zM856 878h5v1h-5zM847 899h1v1h-1zM846 900h1v2h-1zM848 900h1v2h-1zM845 902h5v1h-5zM846 900h1v1h-1zM845 901h1v2h-1zM847 901h1v2h-1zM844 903h5v1h-5zM846 902h1v1h-1zM845 903h1v2h-1zM847 903h1v2h-1zM844 905h5v1h-5zM848 901h1v1h-1zM847 902h1v2h-1zM849 902h1v2h-1zM846 904h5v1h-5zM848 900h1v1h-1zM847 901h1v2h-1zM849 901h1v2h-1zM846 903h5v1h-5zM855 907h1v1h-1zM854 908h1v2h-1zM856 908h1v2h-1zM853 910h5v1h-5zM856 910h1v1h-1zM855 911h1v2h-1zM857 911h1v2h-1zM854 913h5v1h-5zM853 909h1v1h-1zM852 910h1v2h-1zM854 910h1v2h-1zM851 912h5v1h-5zM856 909h1v1h-1zM855 910h1v2h-1zM857 910h1v2h-1zM854 912h5v1h-5zM856 908h1v1h-1zM855 909h1v2h-1zM857 909h1v2h-1zM854 911h5v1h-5zM854 910h1v1h-1zM853 911h1v2h-1zM855 911h1v2h-1zM852 913h5v1h-5zM841 927h1v1h-1zM840 928h1v2h-1zM842 928h1v2h-1zM839 930h5v1h-5zM846 926h1v1h-1zM845 927h1v2h-1zM847 927h1v2h-1zM844 929h5v1h-5zM844 929h1v1h-1zM843 930h1v2h-1zM845 930h1v2h-1zM842 932h5v1h-5zM847 927h1v1h-1zM846 928h1v2h-1zM848 928h1v2h-1zM845 930h5v1h-5zM842 930h1v1h-1zM841 931h1v2h-1zM843 931h1v2h-1zM840 933h5v1h-5zM843 926h1v1h-1zM842 927h1v2h-1zM844 927h1v2h-1zM841 929h5v1h-5zM926 928h1v1h-1zM925 929h1v2h-1zM927 929h1v2h-1zM924 931h5v1h-5zM922 930h1v1h-1zM921 931h1v2h-1zM923 931h1v2h-1zM920 933h5v1h-5zM928 930h1v1h-1zM927 931h1v2h-1zM929 931h1v2h-1zM926 933h5v1h-5zM927 928h1v1h-1zM926 929h1v2h-1zM928 929h1v2h-1zM925 931h5v1h-5zM910 945h1v1h-1zM909 946h1v2h-1zM911 946h1v2h-1zM908 948h5v1h-5zM914 944h1v1h-1zM913 945h1v2h-1zM915 945h1v2h-1zM912 947h5v1h-5zM916 948h1v1h-1zM915 949h1v2h-1zM917 949h1v2h-1zM914 951h5v1h-5zM913 948h1v1h-1zM912 949h1v2h-1zM914 949h1v2h-1zM911 951h5v1h-5zM914 949h1v1h-1zM913 950h1v2h-1zM915 950h1v2h-1zM912 952h5v1h-5zM695 839h1v1h-1zM694 840h1v2h-1zM696 840h1v2h-1zM693 842h5v1h-5zM694 839h1v1h-1zM693 840h1v2h-1zM695 840h1v2h-1zM692 842h5v1h-5zM697 839h1v1h-1zM696 840h1v2h-1zM698 840h1v2h-1zM695 842h5v1h-5zM699 842h1v1h-1zM698 843h1v2h-1zM700 843h1v2h-1zM697 845h5v1h-5zM693 841h1v1h-1zM692 842h1v2h-1zM694 842h1v2h-1zM691 844h5v1h-5zM700 841h1v1h-1zM699 842h1v2h-1zM701 842h1v2h-1zM698 844h5v1h-5zM698 841h1v1h-1zM697 842h1v2h-1zM699 842h1v2h-1zM696 844h5v1h-5zM693 843h1v1h-1zM692 844h1v2h-1zM694 844h1v2h-1zM691 846h5v1h-5zM702 842h1v1h-1zM701 843h1v2h-1zM703 843h1v2h-1zM700 845h5v1h-5zM703 846h1v1h-1zM702 847h1v2h-1zM704 847h1v2h-1zM701 849h5v1h-5zM701 846h1v1h-1zM700 847h1v2h-1zM702 847h1v2h-1zM699 849h5v1h-5zM704 846h1v1h-1zM703 847h1v2h-1zM705 847h1v2h-1zM702 849h5v1h-5zM701 842h1v1h-1zM700 843h1v2h-1zM702 843h1v2h-1zM699 845h5v1h-5zM744 795h1v1h-1zM743 796h1v2h-1zM745 796h1v2h-1zM742 798h5v1h-5zM747 796h1v1h-1zM746 797h1v2h-1zM748 797h1v2h-1zM745 799h5v1h-5zM744 795h1v1h-1zM743 796h1v2h-1zM745 796h1v2h-1zM742 798h5v1h-5zM744 798h1v1h-1zM743 799h1v2h-1zM745 799h1v2h-1zM742 801h5v1h-5zM747 798h1v1h-1zM746 799h1v2h-1zM748 799h1v2h-1zM745 801h5v1h-5zM796 741h1v1h-1zM795 742h1v2h-1zM797 742h1v2h-1zM794 744h5v1h-5zM796 739h1v1h-1zM795 740h1v2h-1zM797 740h1v2h-1zM794 742h5v1h-5zM798 739h1v1h-1zM797 740h1v2h-1zM799 740h1v2h-1zM796 742h5v1h-5zM824 708h1v1h-1zM823 709h1v2h-1zM825 709h1v2h-1zM822 711h5v1h-5zM825 707h1v1h-1zM824 708h1v2h-1zM826 708h1v2h-1zM823 710h5v1h-5zM826 708h1v1h-1zM825 709h1v2h-1zM827 709h1v2h-1zM824 711h5v1h-5zM903 658h1v1h-1zM902 659h1v2h-1zM904 659h1v2h-1zM901 661h5v1h-5zM907 656h1v1h-1zM906 657h1v2h-1zM908 657h1v2h-1zM905 659h5v1h-5zM907 657h1v1h-1zM906 658h1v2h-1zM908 658h1v2h-1zM905 660h5v1h-5zM907 659h1v1h-1zM906 660h1v2h-1zM908 660h1v2h-1zM905 662h5v1h-5zM909 659h1v1h-1zM908 660h1v2h-1zM910 660h1v2h-1zM907 662h5v1h-5zM904 655h1v1h-1zM903 656h1v2h-1zM905 656h1v2h-1zM902 658h5v1h-5zM906 657h1v1h-1zM905 658h1v2h-1zM907 658h1v2h-1zM904 660h5v1h-5zM909 660h1v1h-1zM908 661h1v2h-1zM910 661h1v2h-1zM907 663h5v1h-5zM1019 522h1v1h-1zM1018 523h1v2h-1zM1020 523h1v2h-1zM1017 525h5v1h-5zM1022 521h1v1h-1zM1021 522h1v2h-1zM1023 522h1v2h-1zM1020 524h5v1h-5zM1019 521h1v1h-1zM1018 522h1v2h-1zM1020 522h1v2h-1zM1017 524h5v1h-5zM1022 522h1v1h-1zM1021 523h1v2h-1zM1023 523h1v2h-1zM1020 525h5v1h-5zM1019 523h1v1h-1zM1018 524h1v2h-1zM1020 524h1v2h-1zM1017 526h5v1h-5zM1016 525h1v1h-1zM1015 526h1v2h-1zM1017 526h1v2h-1zM1014 528h5v1h-5zM1022 523h1v1h-1zM1021 524h1v2h-1zM1023 524h1v2h-1zM1020 526h5v1h-5zM1017 520h1v1h-1zM1016 521h1v2h-1zM1018 521h1v2h-1zM1015 523h5v1h-5zM1017 523h1v1h-1zM1016 524h1v2h-1zM1018 524h1v2h-1zM1015 526h5v1h-5zM1018 519h1v1h-1zM1017 520h1v2h-1zM1019 520h1v2h-1zM1016 522h5v1h-5zM1036 512h1v1h-1zM1035 513h1v2h-1zM1037 513h1v2h-1zM1034 515h5v1h-5zM1030 514h1v1h-1zM1029 515h1v2h-1zM1031 515h1v2h-1zM1028 517h5v1h-5zM1031 513h1v1h-1zM1030 514h1v2h-1zM1032 514h1v2h-1zM1029 516h5v1h-5zM1033 513h1v1h-1zM1032 514h1v2h-1zM1034 514h1v2h-1zM1031 516h5v1h-5zM1034 512h1v1h-1zM1033 513h1v2h-1zM1035 513h1v2h-1zM1032 515h5v1h-5zM1029 512h1v1h-1zM1028 513h1v2h-1zM1030 513h1v2h-1zM1027 515h5v1h-5zM1031 511h1v1h-1zM1030 512h1v2h-1zM1032 512h1v2h-1zM1029 514h5v1h-5zM1034 512h1v1h-1zM1033 513h1v2h-1zM1035 513h1v2h-1zM1032 515h5v1h-5zM1046 499h1v1h-1zM1045 500h1v2h-1zM1047 500h1v2h-1zM1044 502h5v1h-5zM1045 498h1v1h-1zM1044 499h1v2h-1zM1046 499h1v2h-1zM1043 501h5v1h-5zM1043 498h1v1h-1zM1042 499h1v2h-1zM1044 499h1v2h-1zM1041 501h5v1h-5zM1046 502h1v1h-1zM1045 503h1v2h-1zM1047 503h1v2h-1zM1044 505h5v1h-5zM1044 500h1v1h-1zM1043 501h1v2h-1zM1045 501h1v2h-1zM1042 503h5v1h-5zM1052 495h1v1h-1zM1051 496h1v2h-1zM1053 496h1v2h-1zM1050 498h5v1h-5zM1056 496h1v1h-1zM1055 497h1v2h-1zM1057 497h1v2h-1zM1054 499h5v1h-5zM1052 493h1v1h-1zM1051 494h1v2h-1zM1053 494h1v2h-1zM1050 496h5v1h-5zM1054 493h1v1h-1zM1053 494h1v2h-1zM1055 494h1v2h-1zM1052 496h5v1h-5zM1052 492h1v1h-1zM1051 493h1v2h-1zM1053 493h1v2h-1zM1050 495h5v1h-5zM1061 488h1v1h-1zM1060 489h1v2h-1zM1062 489h1v2h-1zM1059 491h5v1h-5zM1063 489h1v1h-1zM1062 490h1v2h-1zM1064 490h1v2h-1zM1061 492h5v1h-5zM1060 490h1v1h-1zM1059 491h1v2h-1zM1061 491h1v2h-1zM1058 493h5v1h-5zM1061 490h1v1h-1zM1060 491h1v2h-1zM1062 491h1v2h-1zM1059 493h5v1h-5zM1058 489h1v1h-1zM1057 490h1v2h-1zM1059 490h1v2h-1zM1056 492h5v1h-5zM1068 483h1v1h-1zM1067 484h1v2h-1zM1069 484h1v2h-1zM1066 486h5v1h-5zM1067 486h1v1h-1zM1066 487h1v2h-1zM1068 487h1v2h-1zM1065 489h5v1h-5zM1069 483h1v1h-1zM1068 484h1v2h-1zM1070 484h1v2h-1zM1067 486h5v1h-5zM1067 484h1v1h-1zM1066 485h1v2h-1zM1068 485h1v2h-1zM1065 487h5v1h-5zM1069 483h1v1h-1zM1068 484h1v2h-1zM1070 484h1v2h-1zM1067 486h5v1h-5zM1009 535h1v1h-1zM1008 536h1v2h-1zM1010 536h1v2h-1zM1007 538h5v1h-5zM1008 536h1v1h-1zM1007 537h1v2h-1zM1009 537h1v2h-1zM1006 539h5v1h-5zM1009 538h1v1h-1zM1008 539h1v2h-1zM1010 539h1v2h-1zM1007 541h5v1h-5zM1007 538h1v1h-1zM1006 539h1v2h-1zM1008 539h1v2h-1zM1005 541h5v1h-5zM1006 536h1v1h-1zM1005 537h1v2h-1zM1007 537h1v2h-1zM1004 539h5v1h-5zM1009 538h1v1h-1zM1008 539h1v2h-1zM1010 539h1v2h-1zM1007 541h5v1h-5zM1024 544h1v1h-1zM1023 545h1v2h-1zM1025 545h1v2h-1zM1022 547h5v1h-5zM1020 546h1v1h-1zM1019 547h1v2h-1zM1021 547h1v2h-1zM1018 549h5v1h-5zM1024 546h1v1h-1zM1023 547h1v2h-1zM1025 547h1v2h-1zM1022 549h5v1h-5zM1026 544h1v1h-1zM1025 545h1v2h-1zM1027 545h1v2h-1zM1024 547h5v1h-5zM1021 545h1v1h-1zM1020 546h1v2h-1zM1022 546h1v2h-1zM1019 548h5v1h-5zM1021 545h1v1h-1zM1020 546h1v2h-1zM1022 546h1v2h-1zM1019 548h5v1h-5zM1021 544h1v1h-1zM1020 545h1v2h-1zM1022 545h1v2h-1zM1019 547h5v1h-5zM1022 540h1v1h-1zM1021 541h1v2h-1zM1023 541h1v2h-1zM1020 543h5v1h-5zM1071 518h1v1h-1zM1070 519h1v2h-1zM1072 519h1v2h-1zM1069 521h5v1h-5zM1072 516h1v1h-1zM1071 517h1v2h-1zM1073 517h1v2h-1zM1070 519h5v1h-5zM1072 517h1v1h-1zM1071 518h1v2h-1zM1073 518h1v2h-1zM1070 520h5v1h-5zM1068 518h1v1h-1zM1067 519h1v2h-1zM1069 519h1v2h-1zM1066 521h5v1h-5zM1068 518h1v1h-1zM1067 519h1v2h-1zM1069 519h1v2h-1zM1066 521h5v1h-5zM1070 518h1v1h-1zM1069 519h1v2h-1zM1071 519h1v2h-1zM1068 521h5v1h-5zM1069 538h1v1h-1zM1068 539h1v2h-1zM1070 539h1v2h-1zM1067 541h5v1h-5zM1064 537h1v1h-1zM1063 538h1v2h-1zM1065 538h1v2h-1zM1062 540h5v1h-5zM1066 536h1v1h-1zM1065 537h1v2h-1zM1067 537h1v2h-1zM1064 539h5v1h-5zM1066 539h1v1h-1zM1065 540h1v2h-1zM1067 540h1v2h-1zM1064 542h5v1h-5zM1063 542h1v1h-1zM1062 543h1v2h-1zM1064 543h1v2h-1zM1061 545h5v1h-5zM1065 543h1v1h-1zM1064 544h1v2h-1zM1066 544h1v2h-1zM1063 546h5v1h-5zM1062 542h1v1h-1zM1061 543h1v2h-1zM1063 543h1v2h-1zM1060 545h5v1h-5zM1062 542h1v1h-1zM1061 543h1v2h-1zM1063 543h1v2h-1zM1060 545h5v1h-5zM1061 551h1v1h-1zM1060 552h1v2h-1zM1062 552h1v2h-1zM1059 554h5v1h-5zM1056 550h1v1h-1zM1055 551h1v2h-1zM1057 551h1v2h-1zM1054 553h5v1h-5zM1059 547h1v1h-1zM1058 548h1v2h-1zM1060 548h1v2h-1zM1057 550h5v1h-5zM1057 550h1v1h-1zM1056 551h1v2h-1zM1058 551h1v2h-1zM1055 553h5v1h-5zM1053 559h1v1h-1zM1052 560h1v2h-1zM1054 560h1v2h-1zM1051 562h5v1h-5zM1052 559h1v1h-1zM1051 560h1v2h-1zM1053 560h1v2h-1zM1050 562h5v1h-5zM1054 557h1v1h-1zM1053 558h1v2h-1zM1055 558h1v2h-1zM1052 560h5v1h-5zM1055 557h1v1h-1zM1054 558h1v2h-1zM1056 558h1v2h-1zM1053 560h5v1h-5zM1048 564h1v1h-1zM1047 565h1v2h-1zM1049 565h1v2h-1zM1046 567h5v1h-5zM1049 562h1v1h-1zM1048 563h1v2h-1zM1050 563h1v2h-1zM1047 565h5v1h-5zM1047 563h1v1h-1zM1046 564h1v2h-1zM1048 564h1v2h-1zM1045 566h5v1h-5zM1050 567h1v1h-1zM1049 568h1v2h-1zM1051 568h1v2h-1zM1048 570h5v1h-5zM1084 470h1v1h-1zM1083 471h1v2h-1zM1085 471h1v2h-1zM1082 473h5v1h-5zM1085 470h1v1h-1zM1084 471h1v2h-1zM1086 471h1v2h-1zM1083 473h5v1h-5zM1086 471h1v1h-1zM1085 472h1v2h-1zM1087 472h1v2h-1zM1084 474h5v1h-5zM1087 472h1v1h-1zM1086 473h1v2h-1zM1088 473h1v2h-1zM1085 475h5v1h-5zM1092 468h1v1h-1zM1091 469h1v2h-1zM1093 469h1v2h-1zM1090 471h5v1h-5zM1094 466h1v1h-1zM1093 467h1v2h-1zM1095 467h1v2h-1zM1092 469h5v1h-5zM1092 466h1v1h-1zM1091 467h1v2h-1zM1093 467h1v2h-1zM1090 469h5v1h-5zM1092 467h1v1h-1zM1091 468h1v2h-1zM1093 468h1v2h-1zM1090 470h5v1h-5zM1047 561h1v1h-1zM1046 562h1v2h-1zM1048 562h1v2h-1zM1045 564h5v1h-5zM1052 563h1v1h-1zM1051 564h1v2h-1zM1053 564h1v2h-1zM1050 566h5v1h-5zM1047 560h1v1h-1zM1046 561h1v2h-1zM1048 561h1v2h-1zM1045 563h5v1h-5zM1048 565h1v1h-1zM1047 566h1v2h-1zM1049 566h1v2h-1zM1046 568h5v1h-5zM1048 560h1v1h-1zM1047 561h1v2h-1zM1049 561h1v2h-1zM1046 563h5v1h-5zM1051 565h1v1h-1zM1050 566h1v2h-1zM1052 566h1v2h-1zM1049 568h5v1h-5zM966 618h1v1h-1zM965 619h1v2h-1zM967 619h1v2h-1zM964 621h5v1h-5zM967 616h1v1h-1zM966 617h1v2h-1zM968 617h1v2h-1zM965 619h5v1h-5zM966 617h1v1h-1zM965 618h1v2h-1zM967 618h1v2h-1zM964 620h5v1h-5zM990 540h1v1h-1zM989 541h1v2h-1zM991 541h1v2h-1zM988 543h5v1h-5zM993 538h1v1h-1zM992 539h1v2h-1zM994 539h1v2h-1zM991 541h5v1h-5zM993 538h1v1h-1zM992 539h1v2h-1zM994 539h1v2h-1zM991 541h5v1h-5zM993 539h1v1h-1zM992 540h1v2h-1zM994 540h1v2h-1zM991 542h5v1h-5zM992 536h1v1h-1zM991 537h1v2h-1zM993 537h1v2h-1zM990 539h5v1h-5zM988 540h1v1h-1zM987 541h1v2h-1zM989 541h1v2h-1zM986 543h5v1h-5zM1120 419h1v1h-1zM1119 420h1v2h-1zM1121 420h1v2h-1zM1118 422h5v1h-5zM1120 417h1v1h-1zM1119 418h1v2h-1zM1121 418h1v2h-1zM1118 420h5v1h-5zM1124 417h1v1h-1zM1123 418h1v2h-1zM1125 418h1v2h-1zM1122 420h5v1h-5zM1122 418h1v1h-1zM1121 419h1v2h-1zM1123 419h1v2h-1zM1120 421h5v1h-5zM1122 419h1v1h-1zM1121 420h1v2h-1zM1123 420h1v2h-1zM1120 422h5v1h-5zM1134 429h1v1h-1zM1133 430h1v2h-1zM1135 430h1v2h-1zM1132 432h5v1h-5zM1134 426h1v1h-1zM1133 427h1v2h-1zM1135 427h1v2h-1zM1132 429h5v1h-5zM1132 424h1v1h-1zM1131 425h1v2h-1zM1133 425h1v2h-1zM1130 427h5v1h-5zM1136 428h1v1h-1zM1135 429h1v2h-1zM1137 429h1v2h-1zM1134 431h5v1h-5zM1134 429h1v1h-1zM1133 430h1v2h-1zM1135 430h1v2h-1zM1132 432h5v1h-5zM1131 431h1v1h-1zM1130 432h1v2h-1zM1132 432h1v2h-1zM1129 434h5v1h-5zM1134 427h1v1h-1zM1133 428h1v2h-1zM1135 428h1v2h-1zM1132 430h5v1h-5zM1133 427h1v1h-1zM1132 428h1v2h-1zM1134 428h1v2h-1zM1131 430h5v1h-5zM1113 450h1v1h-1zM1112 451h1v2h-1zM1114 451h1v2h-1zM1111 453h5v1h-5zM1116 446h1v1h-1zM1115 447h1v2h-1zM1117 447h1v2h-1zM1114 449h5v1h-5zM1113 446h1v1h-1zM1112 447h1v2h-1zM1114 447h1v2h-1zM1111 449h5v1h-5zM1114 444h1v1h-1zM1113 445h1v2h-1zM1115 445h1v2h-1zM1112 447h5v1h-5zM1112 446h1v1h-1zM1111 447h1v2h-1zM1113 447h1v2h-1zM1110 449h5v1h-5zM1117 446h1v1h-1zM1116 447h1v2h-1zM1118 447h1v2h-1zM1115 449h5v1h-5zM1117 448h1v1h-1zM1116 449h1v2h-1zM1118 449h1v2h-1zM1115 451h5v1h-5zM1112 447h1v1h-1zM1111 448h1v2h-1zM1113 448h1v2h-1zM1110 450h5v1h-5zM1136 443h1v1h-1zM1135 444h1v2h-1zM1137 444h1v2h-1zM1134 446h5v1h-5zM1133 443h1v1h-1zM1132 444h1v2h-1zM1134 444h1v2h-1zM1131 446h5v1h-5zM1133 444h1v1h-1zM1132 445h1v2h-1zM1134 445h1v2h-1zM1131 447h5v1h-5zM1133 443h1v1h-1zM1132 444h1v2h-1zM1134 444h1v2h-1zM1131 446h5v1h-5zM1136 443h1v1h-1zM1135 444h1v2h-1zM1137 444h1v2h-1zM1134 446h5v1h-5zM1146 421h1v1h-1zM1145 422h1v2h-1zM1147 422h1v2h-1zM1144 424h5v1h-5zM1146 422h1v1h-1zM1145 423h1v2h-1zM1147 423h1v2h-1zM1144 425h5v1h-5zM1146 422h1v1h-1zM1145 423h1v2h-1zM1147 423h1v2h-1zM1144 425h5v1h-5zM1145 422h1v1h-1zM1144 423h1v2h-1zM1146 423h1v2h-1zM1143 425h5v1h-5zM1107 460h1v1h-1zM1106 461h1v2h-1zM1108 461h1v2h-1zM1105 463h5v1h-5zM1107 460h1v1h-1zM1106 461h1v2h-1zM1108 461h1v2h-1zM1105 463h5v1h-5zM1108 459h1v1h-1zM1107 460h1v2h-1zM1109 460h1v2h-1zM1106 462h5v1h-5zM1106 460h1v1h-1zM1105 461h1v2h-1zM1107 461h1v2h-1zM1104 463h5v1h-5zM1105 459h1v1h-1zM1104 460h1v2h-1zM1106 460h1v2h-1zM1103 462h5v1h-5zM1260 220h1v1h-1zM1259 221h1v2h-1zM1261 221h1v2h-1zM1258 223h5v1h-5zM1257 220h1v1h-1zM1256 221h1v2h-1zM1258 221h1v2h-1zM1255 223h5v1h-5zM1257 222h1v1h-1zM1256 223h1v2h-1zM1258 223h1v2h-1zM1255 225h5v1h-5zM1258 222h1v1h-1zM1257 223h1v2h-1zM1259 223h1v2h-1zM1256 225h5v1h-5zM1258 225h1v1h-1zM1257 226h1v2h-1zM1259 226h1v2h-1zM1256 228h5v1h-5zM1256 221h1v1h-1zM1255 222h1v2h-1zM1257 222h1v2h-1zM1254 224h5v1h-5zM1255 225h1v1h-1zM1254 226h1v2h-1zM1256 226h1v2h-1zM1253 228h5v1h-5zM1258 220h1v1h-1zM1257 221h1v2h-1zM1259 221h1v2h-1zM1256 223h5v1h-5zM1259 221h1v1h-1zM1258 222h1v2h-1zM1260 222h1v2h-1zM1257 224h5v1h-5zM1259 224h1v1h-1zM1258 225h1v2h-1zM1260 225h1v2h-1zM1257 227h5v1h-5zM1260 226h1v1h-1zM1259 227h1v2h-1zM1261 227h1v2h-1zM1258 229h5v1h-5zM1260 225h1v1h-1zM1259 226h1v2h-1zM1261 226h1v2h-1zM1258 228h5v1h-5zM982 542h1v1h-1zM981 543h1v2h-1zM983 543h1v2h-1zM980 545h5v1h-5zM986 542h1v1h-1zM985 543h1v2h-1zM987 543h1v2h-1zM984 545h5v1h-5zM989 541h1v1h-1zM988 542h1v2h-1zM990 542h1v2h-1zM987 544h5v1h-5zM992 541h1v1h-1zM991 542h1v2h-1zM993 542h1v2h-1zM990 544h5v1h-5zM996 539h1v1h-1zM995 540h1v2h-1zM997 540h1v2h-1zM994 542h5v1h-5zM998 538h1v1h-1zM997 539h1v2h-1zM999 539h1v2h-1zM996 541h5v1h-5zM1002 538h1v1h-1zM1001 539h1v2h-1zM1003 539h1v2h-1zM1000 541h5v1h-5zM1006 538h1v1h-1zM1005 539h1v2h-1zM1007 539h1v2h-1zM1004 541h5v1h-5zM1009 536h1v1h-1zM1008 537h1v2h-1zM1010 537h1v2h-1zM1007 539h5v1h-5zM1012 535h1v1h-1zM1011 536h1v2h-1zM1013 536h1v2h-1zM1010 538h5v1h-5zM1016 536h1v1h-1zM1015 537h1v2h-1zM1017 537h1v2h-1zM1014 539h5v1h-5zM1018 538h1v1h-1zM1017 539h1v2h-1zM1019 539h1v2h-1zM1016 541h5v1h-5zM1021 540h1v1h-1zM1020 541h1v2h-1zM1022 541h1v2h-1zM1019 543h5v1h-5zM1024 542h1v1h-1zM1023 543h1v2h-1zM1025 543h1v2h-1zM1022 545h5v1h-5zM920 930h1v1h-1zM919 931h1v2h-1zM921 931h1v2h-1zM918 933h5v1h-5zM925 929h1v1h-1zM924 930h1v2h-1zM926 930h1v2h-1zM923 932h5v1h-5zM928 929h1v1h-1zM927 930h1v2h-1zM929 930h1v2h-1zM926 932h5v1h-5zM932 928h1v1h-1zM931 929h1v2h-1zM933 929h1v2h-1zM930 931h5v1h-5zM935 927h1v1h-1zM934 928h1v2h-1zM936 928h1v2h-1zM933 930h5v1h-5zM938 927h1v1h-1zM937 928h1v2h-1zM939 928h1v2h-1zM936 930h5v1h-5zM942 925h1v1h-1zM941 926h1v2h-1zM943 926h1v2h-1zM940 928h5v1h-5zM945 926h1v1h-1zM944 927h1v2h-1zM946 927h1v2h-1zM943 929h5v1h-5zM1020 520h1v1h-1zM1019 521h1v2h-1zM1021 521h1v2h-1zM1018 523h5v1h-5zM1024 517h1v1h-1zM1023 518h1v2h-1zM1025 518h1v2h-1zM1022 520h5v1h-5zM1029 515h1v1h-1zM1028 516h1v2h-1zM1030 516h1v2h-1zM1027 518h5v1h-5zM1032 511h1v1h-1zM1031 512h1v2h-1zM1033 512h1v2h-1zM1030 514h5v1h-5zM1036 509h1v1h-1zM1035 510h1v2h-1zM1037 510h1v2h-1zM1034 512h5v1h-5zM1042 507h1v1h-1zM1041 508h1v2h-1zM1043 508h1v2h-1zM1040 510h5v1h-5zM1046 503h1v1h-1zM1045 504h1v2h-1zM1047 504h1v2h-1zM1044 506h5v1h-5zM1051 502h1v1h-1zM1050 503h1v2h-1zM1052 503h1v2h-1zM1049 505h5v1h-5z" fill="#f00"/>
<path d="M246.5 218.6 250.5 217.3 254.5 216.0 258.5 214.8 262.5 213.5 266.5 212.2 270.5 210.9 274.5 209.6 278.5 208.3 282.5 207.0 286.5 205.8 290.5 204.5 294.5 203.2 298.5 201.9 302.5 200.6 306.5 199.4 310.5 198.1 314.5 196.8M390.5 172.6 394.5 171.4 398.5 170.1 402.5 168.8 406.5 167.6 410.5 166.3 414.5 165.0 418.5 163.8 422.5 162.5 426.5 161.3 430.5 160.0 434.5 158.7 438.5 157.5 442.5 156.2 446.5 155.0 450.5 153.7 454.5 152.4 458.5 151.2 462.5 149.9 466.5 148.7 470.5 147.4 474.5 146.2 478.5 144.9 482.5 143.7 486.5 142.4 490.5 141.2 494.5 139.9 498.5 138.7 502.5 137.4 506.5 136.2 510.5 134.9 514.5 133.7 518.5 132.4 522.5 131.2 526.5 129.9 530.5 128.7 534.5 127.4 538.5 126.2 542.5 124.9 546.5 123.7 550.5 122.5 554.5 121.2 558.5 120.0 562.5 118.7 566.5 117.5 570.5 116.3 574.5 115.0 578.5 113.8 582.5 112.5 586.5 111.3 590.5 110.1 594.5 108.8 598.5 107.6 602.5 106.4 606.5 105.1 610.5 103.9 614.5 102.6 618.5 101.4 620.5 100.8M246.5 343.6 250.5 342.2 254.5 340.9 258.5 339.5 262.5 338.2 266.5 336.8 270.5 335.5 274.5 334.2 278.5 332.8 282.5 331.5 286.5 330.1 290.5 328.8 294.5 327.4 298.5 326.1 301.5 325.1M376.5 300.0 380.5 298.7 384.5 297.4 388.5 296.1 392.5 294.7 396.5 293.4 400.5 292.1 404.5 290.8 408.5 289.4 412.5 288.1 416.5 286.8 420.5 285.5 424.5 284.2 428.5 282.8 432.5 281.5 436.5 280.2 440.5 278.9 444.5 277.6 448.5 276.3 452.5 274.9 456.5 273.6 460.5 272.3 464.5 271.0 468.5 269.7 472.5 268.4 476.5 267.1 480.5 265.8 484.5 264.4 488.5 263.1 492.5 261.8 496.5 260.5 500.5 259.2 504.5 257.9 508.5 256.6 512.5 255.3 516.5 254.0 520.5 252.7 524.5 251.4 528.5 250.1 532.5 248.8 536.5 247.5 540.5 246.2 544.5 244.9 548.5 243.6 552.5 242.3 556.5 241.0 560.5 239.7 564.5 238.4 568.5 237.1 572.5 235.8 576.5 234.5 580.5 233.2 584.5 231.9 588.5 230.6 592.5 229.3 596.5 228.0 600.5 226.8 604.5 225.5 608.5 224.2 612.5 222.9 616.5 221.6 620.5 220.3 624.5 219.0 628.5 217.7 632.5 216.5 636.5 215.2 640.5 213.9 644.5 212.6 648.5 211.3 652.5 210.0 656.5 208.8 660.5 207.5 664.5 206.2 668.5 204.9 672.5 203.6 676.5 202.4 680.5 201.1 684.5 199.8 688.5 198.5 692.5 197.2 696.5 196.0 700.5 194.7 704.5 193.4 708.5 192.2 712.5 190.9 716.5 189.6 720.5 188.3 724.5 187.1 728.5 185.8 732.5 184.5 736.5 183.3 740.5 182.0 744.5 180.7 748.5 179.5 752.5 178.2M828.5 154.2 832.5 153.0 836.5 151.7 840.5 150.5 844.5 149.2 848.5 148.0 852.5 146.7 856.5 145.5 860.5 144.2 864.5 143.0 868.5 141.7 872.5 140.5 876.5 139.2 880.5 138.0 884.5 136.7 888.5 135.5 892.5 134.2 896.5 133.0 900.5 131.7 904.5 130.5 908.5 129.3 912.5 128.0 916.5 126.8 920.5 125.5 924.5 124.3 928.5 123.1 932.5 121.8 936.5 120.6 940.5 119.3 944.5 118.1 948.5 116.9 952.5 115.6 956.5 114.4 960.5 113.1 964.5 111.9 968.5 110.7 972.5 109.4 976.5 108.2 980.5 107.0 984.5 105.7 988.5 104.5 992.5 103.3 996.5 102.0 1000.5 100.8 1001.5 100.5M246.5 474.8 250.5 473.3 254.5 471.9 258.5 470.5 262.5 469.1 266.5 467.6 270.5 466.2 274.5 464.8 278.5 463.4 282.5 462.0 286.5 460.5 287.5 460.2M361.5 434.1 365.5 432.7 369.5 431.3 373.5 429.9 377.5 428.5 381.5 427.1 385.5 425.7 389.5 424.3 393.5 422.9 397.5 421.5 401.5 420.1 405.5 418.7 409.5 417.3 413.5 416.0 417.5 414.6 421.5 413.2 425.5 411.8 429.5 410.4 433.5 409.0 437.5 407.6 441.5 406.2 445.5 404.9 449.5 403.5 453.5 402.1 457.5 400.7 461.5 399.3 465.5 397.9 469.5 396.6 473.5 395.2 477.5 393.8 481.5 392.4 485.5 391.1 489.5 389.7 493.5 388.3 497.5 386.9 501.5 385.6 505.5 384.2 509.5 382.8 513.5 381.4 517.5 380.1 521.5 378.7 525.5 377.3 529.5 376.0 533.5 374.6 537.5 373.2 541.5 371.9 545.5 370.5 549.5 369.1 553.5 367.8 557.5 366.4 561.5 365.1 565.5 363.7 569.5 362.3 573.5 361.0 577.5 359.6 581.5 358.3 585.5 356.9 589.5 355.5 593.5 354.2 597.5 352.8 601.5 351.5 605.5 350.1 609.5 348.8 613.5 347.4 617.5 346.1 621.5 344.7 625.5 343.4 629.5 342.0 633.5 340.7 637.5 339.3 641.5 338.0 645.5 336.6 649.5 335.3 653.5 334.0 657.5 332.6 661.5 331.3 665.5 329.9 669.5 328.6 673.5 327.2 677.5 325.9 681.5 324.6 685.5 323.2 689.5 321.9 693.5 320.6 697.5 319.2 701.5 317.9 705.5 316.6 709.5 315.2 713.5 313.9 717.5 312.6 721.5 311.2 725.5 309.9 729.5 308.6 733.5 307.2 737.5 305.9M813.5 280.8 817.5 279.5 821.5 278.2 825.5 276.9 829.5 275.5 833.5 274.2 837.5 272.9 841.5 271.6 845.5 270.3 849.5 269.0 853.5 267.7 857.5 266.4 861.5 265.1 865.5 263.8 869.5 262.5 873.5 261.1 877.5 259.8 881.5 258.5 885.5 257.2 889.5 255.9 893.5 254.6 897.5 253.3 901.5 252.0 905.5 250.7 909.5 249.4 913.5 248.1 917.5 246.8 921.5 245.5 925.5 244.2 929.5 242.9 933.5 241.7 937.5 240.4 941.5 239.1 945.5 237.8 949.5 236.5 953.5 235.2 957.5 233.9 961.5 232.6 965.5 231.3 969.5 230.0 973.5 228.7 977.5 227.4 981.5 226.2 985.5 224.9 989.5 223.6 993.5 222.3 997.5 221.0 1001.5 219.7 1005.5 218.5 1009.5 217.2 1013.5 215.9 1017.5 214.6 1021.5 213.3 1025.5 212.0 1029.5 210.8 1033.5 209.5 1037.5 208.2 1041.5 206.9 1045.5 205.7 1049.5 204.4 1053.5 203.1 1057.5 201.8 1061.5 200.5 1065.5 199.3 1069.5 198.0 1073.5 196.7 1077.5 195.5 1081.5 194.2 1085.5 192.9 1089.5 191.6 1093.5 190.4 1097.5 189.1 1101.5 187.8 1105.5 186.6 1109.5 185.3 1113.5 184.0 1117.5 182.8 1121.5 181.5 1125.5 180.2 1129.5 179.0 1133.5 177.7 1137.5 176.4 1141.5 175.2 1145.5 173.9 1149.5 172.7 1153.5 171.4 1157.5 170.1 1161.5 168.9 1165.5 167.6 1169.5 166.4 1173.5 165.1 1177.5 163.9 1181.5 162.6 1185.5 161.3 1189.5 160.1M1265.5 136.3 1269.5 135.1 1273.5 133.9 1277.5 132.6 1281.5 131.4 1285.5 130.1 1289.5 128.9 1293.5 127.7 1297.5 126.4 1301.5 125.2 1305.5 123.9 1309.5 122.7 1313.5 121.5 1317.5 120.2 1321.5 119.0 1325.5 117.8 1329.5 116.5 1333.5 115.3 1337.5 114.0 1341.5 112.8 1345.5 111.6 1349.5 110.3 1353.5 109.1 1357.5 107.9 1361.5 106.7 1365.5 105.4 1369.5 104.2 1373.5 103.0 1377.5 101.7 1381.5 100.5M246.5 613.3 250.5 611.8 254.5 610.3 258.5 608.7 262.5 607.2 266.5 605.7 270.5 604.2 274.5 602.7 278.5 601.2 282.5 599.7 286.5 598.2 290.5 596.7 294.5 595.2 298.5 593.7 302.5 592.2M338.5 578.7 342.5 577.2 346.5 575.7 350.5 574.2 354.5 572.7 358.5 571.2 362.5 569.7 366.5 568.3 370.5 566.8 374.5 565.3 378.5 563.8 382.5 562.3 386.5 560.9 390.5 559.4 394.5 557.9 398.5 556.4 402.5 554.9 406.5 553.5 410.5 552.0 414.5 550.5 418.5 549.0 422.5 547.6 426.5 546.1 430.5 544.6 434.5 543.2 438.5 541.7 442.5 540.2 446.5 538.8 450.5 537.3 454.5 535.8 458.5 534.4 462.5 532.9 466.5 531.5 470.5 530.0 474.5 528.5 478.5 527.1 482.5 525.6 486.5 524.2 490.5 522.7 494.5 521.3 498.5 519.8 502.5 518.4 506.5 516.9 510.5 515.5 514.5 514.0 518.5 512.6 522.5 511.1 526.5 509.7 530.5 508.2 534.5 506.8 538.5 505.3 542.5 503.9 546.5 502.4 550.5 501.0 554.5 499.6 558.5 498.1 562.5 496.7 566.5 495.3 570.5 493.8 574.5 492.4 578.5 491.0 582.5 489.5 586.5 488.1 590.5 486.7 594.5 485.2 598.5 483.8 602.5 482.4 606.5 480.9 610.5 479.5 614.5 478.1 618.5 476.7 622.5 475.2 626.5 473.8 630.5 472.4 634.5 471.0 638.5 469.6 642.5 468.1 646.5 466.7 650.5 465.3 654.5 463.9 658.5 462.5 662.5 461.0 666.5 459.6 670.5 458.2 674.5 456.8 678.5 455.4 682.5 454.0 686.5 452.6 690.5 451.2 694.5 449.8 698.5 448.4 702.5 446.9 706.5 445.5 710.5 444.1 714.5 442.7 718.5 441.3 722.5 439.9 726.5 438.5 730.5 437.1 734.5 435.7 738.5 434.3 742.5 432.9 746.5 431.5 748.5 430.8M784.5 418.3 788.5 416.9 792.5 415.5 796.5 414.1 800.5 412.8 804.5 411.4 808.5 410.0 812.5 408.6 816.5 407.2 820.5 405.8 824.5 404.5 828.5 403.1 832.5 401.7 836.5 400.3 840.5 398.9 844.5 397.6 848.5 396.2 852.5 394.8 856.5 393.4 860.5 392.1 864.5 390.7 868.5 389.3 872.5 388.0 876.5 386.6 880.5 385.2 884.5 383.8 888.5 382.5 892.5 381.1 896.5 379.7 900.5 378.4 904.5 377.0 908.5 375.7 912.5 374.3 916.5 372.9 920.5 371.6 924.5 370.2 928.5 368.8 932.5 367.5 936.5 366.1 940.5 364.8 944.5 363.4 948.5 362.1 952.5 360.7 956.5 359.3 960.5 358.0 964.5 356.6 968.5 355.3 972.5 353.9 976.5 352.6 980.5 351.2 984.5 349.9 988.5 348.5 992.5 347.2 996.5 345.8 1000.5 344.5 1004.5 343.1 1008.5 341.8 1012.5 340.5 1016.5 339.1 1020.5 337.8 1024.5 336.4 1028.5 335.1 1032.5 333.7 1036.5 332.4 1040.5 331.1 1044.5 329.7 1048.5 328.4 1052.5 327.1 1056.5 325.7 1060.5 324.4 1064.5 323.0 1068.5 321.7 1072.5 320.4 1076.5 319.0 1080.5 317.7 1084.5 316.4 1088.5 315.1 1092.5 313.7 1096.5 312.4 1100.5 311.1 1104.5 309.7 1108.5 308.4 1112.5 307.1 1116.5 305.8 1120.5 304.4 1124.5 303.1 1128.5 301.8 1132.5 300.5 1136.5 299.1 1140.5 297.8 1144.5 296.5 1148.5 295.2 1152.5 293.9 1156.5 292.5 1160.5 291.2 1164.5 289.9 1168.5 288.6 1172.5 287.3 1176.5 286.0 1180.5 284.6 1184.5 283.3 1188.5 282.0 1192.5 280.7 1196.5 279.4 1199.5 278.4M1237.5 266.0 1241.5 264.7 1245.5 263.4 1249.5 262.1 1253.5 260.8 1257.5 259.5 1261.5 258.2 1265.5 256.9 1269.5 255.6 1273.5 254.3 1277.5 253.0 1281.5 251.7 1285.5 250.4 1289.5 249.1 1293.5 247.8 1297.5 246.5 1301.5 245.2 1305.5 243.9 1309.5 242.6 1313.5 241.3 1317.5 240.0 1321.5 238.8 1325.5 237.5 1329.5 236.2 1333.5 234.9 1337.5 233.6 1341.5 232.3 1345.5 231.0 1349.5 229.7 1353.5 228.4 1357.5 227.2 1361.5 225.9 1365.5 224.6 1369.5 223.3 1373.5 222.0 1377.5 220.7 1381.5 219.5 1385.5 218.2 1389.5 216.9 1393.5 215.6 1397.5 214.3 1401.5 213.1 1405.5 211.8 1409.5 210.5 1413.5 209.2 1417.5 208.0 1421.5 206.7 1425.5 205.4 1429.5 204.1 1433.5 202.9 1437.5 201.6 1441.5 200.3 1445.5 199.1 1449.5 197.8 1453.5 196.5 1457.5 195.2 1461.5 194.0 1465.5 192.7 1469.5 191.4 1473.5 190.2 1477.5 188.9 1481.5 187.6 1485.5 186.4 1489.5 185.1 1493.5 183.8 1497.5 182.6 1501.5 181.3 1505.5 180.1 1509.5 178.8 1513.5 177.5 1517.5 176.3 1521.5 175.0 1525.5 173.8 1529.5 172.5 1533.5 171.2 1537.5 170.0 1541.5 168.7 1545.5 167.5 1549.5 166.2 1553.5 165.0 1557.5 163.7 1561.5 162.5 1565.5 161.2 1569.5 159.9 1573.5 158.7 1577.5 157.4 1581.5 156.2 1585.5 154.9 1589.5 153.7 1593.5 152.4 1597.5 151.2 1601.5 149.9 1605.5 148.7 1609.5 147.5 1613.5 146.2 1617.5 145.0 1621.5 143.7 1625.5 142.5 1629.5 141.2 1633.5 140.0 1637.5 138.7 1641.5 137.5 1645.5 136.3 1649.5 135.0 1652.5 134.1M1690.5 122.3 1694.5 121.1 1698.5 119.9 1702.5 118.6 1706.5 117.4 1710.5 116.2 1711.5 115.9M246.5 760.8 250.5 759.2 254.5 757.6 258.5 756.0 262.5 754.3 266.5 752.7 270.5 751.1 274.5 749.5 278.5 747.9 282.5 746.2 286.5 744.6 290.5 743.0 294.5 741.4M368.5 711.8 372.5 710.2 376.5 708.6 380.5 707.0 384.5 705.4 388.5 703.9 392.5 702.3 396.5 700.7 400.5 699.1 404.5 697.5 408.5 696.0 412.5 694.4 416.5 692.8 420.5 691.2 424.5 689.7 428.5 688.1 432.5 686.5 436.5 685.0 440.5 683.4 444.5 681.8 448.5 680.3 452.5 678.7 456.5 677.2 460.5 675.6 464.5 674.0 468.5 672.5 472.5 670.9 476.5 669.4 480.5 667.8 484.5 666.3 488.5 664.7 492.5 663.2 496.5 661.6 500.5 660.1 504.5 658.5 508.5 657.0 512.5 655.4 516.5 653.9 520.5 652.3 524.5 650.8 528.5 649.3 532.5 647.7 536.5 646.2 540.5 644.6 544.5 643.1 548.5 641.6 552.5 640.0 556.5 638.5 560.5 637.0 564.5 635.4 568.5 633.9 572.5 632.4 576.5 630.9 580.5 629.3 584.5 627.8 588.5 626.3 592.5 624.8 596.5 623.3 600.5 621.7 604.5 620.2 608.5 618.7 612.5 617.2 616.5 615.7 620.5 614.2 624.5 612.6 628.5 611.1 632.5 609.6 636.5 608.1 640.5 606.6 644.5 605.1 648.5 603.6 652.5 602.1 656.5 600.6 660.5 599.1 664.5 597.6 668.5 596.1 672.5 594.6 676.5 593.1 680.5 591.6 684.5 590.1 688.5 588.6 692.5 587.1 696.5 585.6 700.5 584.1 704.5 582.6 708.5 581.1 712.5 579.6 716.5 578.1 720.5 576.7 724.5 575.2 728.5 573.7 732.5 572.2 736.5 570.7 737.5 570.3M811.5 543.1 815.5 541.6 819.5 540.2 823.5 538.7 827.5 537.2 831.5 535.8 835.5 534.3 839.5 532.9 843.5 531.4 847.5 530.0 851.5 528.5 855.5 527.1 859.5 525.6 863.5 524.1 867.5 522.7 871.5 521.2 875.5 519.8 879.5 518.4 883.5 516.9 887.5 515.5 891.5 514.0 895.5 512.6 899.5 511.1 903.5 509.7 907.5 508.2 911.5 506.8 915.5 505.4 919.5 503.9 923.5 502.5 927.5 501.1 931.5 499.6 935.5 498.2 939.5 496.7 943.5 495.3 947.5 493.9 951.5 492.5 955.5 491.0 959.5 489.6 963.5 488.2 967.5 486.7 971.5 485.3 975.5 483.9 979.5 482.5 983.5 481.0 987.5 479.6 991.5 478.2 995.5 476.8 999.5 475.3 1003.5 473.9 1007.5 472.5 1011.5 471.1 1015.5 469.7 1019.5 468.3 1023.5 466.8 1027.5 465.4 1031.5 464.0 1035.5 462.6 1039.5 461.2 1043.5 459.8 1047.5 458.4 1051.5 457.0 1055.5 455.6 1059.5 454.2 1063.5 452.7 1067.5 451.3 1071.5 449.9 1075.5 448.5 1079.5 447.1 1083.5 445.7 1087.5 444.3 1091.5 442.9 1095.5 441.5 1099.5 440.1 1103.5 438.7 1107.5 437.3 1111.5 435.9 1115.5 434.5 1119.5 433.1 1123.5 431.8 1127.5 430.4 1131.5 429.0 1135.5 427.6 1139.5 426.2 1143.5 424.8 1147.5 423.4 1151.5 422.0 1155.5 420.6 1159.5 419.3 1163.5 417.9 1167.5 416.5 1171.5 415.1 1175.5 413.7 1179.5 412.3 1183.5 411.0 1186.5 409.9M1260.5 384.5 1264.5 383.2 1268.5 381.8 1272.5 380.4 1276.5 379.1 1280.5 377.7 1284.5 376.3 1288.5 375.0 1292.5 373.6 1296.5 372.3 1300.5 370.9 1304.5 369.5 1308.5 368.2 1312.5 366.8 1316.5 365.5 1320.5 364.1 1324.5 362.8 1328.5 361.4 1332.5 360.1 1336.5 358.7 1340.5 357.4 1344.5 356.0 1348.5 354.7 1352.5 353.3 1356.5 352.0 1360.5 350.6 1364.5 349.3 1368.5 347.9 1372.5 346.6 1376.5 345.2 1380.5 343.9 1384.5 342.6 1388.5 341.2 1392.5 339.9 1396.5 338.5 1400.5 337.2 1404.5 335.9 1408.5 334.5 1412.5 333.2 1416.5 331.8 1420.5 330.5 1424.5 329.2 1428.5 327.8 1432.5 326.5 1436.5 325.2 1440.5 323.8 1444.5 322.5 1448.5 321.2 1452.5 319.9 1456.5 318.5 1460.5 317.2 1464.5 315.9 1468.5 314.5 1472.5 313.2 1476.5 311.9 1480.5 310.6 1484.5 309.2 1488.5 307.9 1492.5 306.6 1496.5 305.3 1500.5 304.0 1504.5 302.6 1508.5 301.3 1512.5 300.0 1516.5 298.7 1520.5 297.4 1524.5 296.0 1528.5 294.7 1532.5 293.4 1536.5 292.1 1540.5 290.8 1544.5 289.5 1548.5 288.1 1552.5 286.8 1556.5 285.5 1560.5 284.2 1564.5 282.9 1568.5 281.6 1572.5 280.3 1576.5 279.0 1580.5 277.7 1584.5 276.4 1588.5 275.1 1592.5 273.7 1596.5 272.4 1600.5 271.1 1604.5 269.8 1608.5 268.5 1612.5 267.2 1616.5 265.9 1620.5 264.6 1624.5 263.3 1628.5 262.0 1632.5 260.7 1636.5 259.4 1640.5 258.1 1644.5 256.8 1648.5 255.5 1652.5 254.2 1656.5 252.9 1660.5 251.7 1664.5 250.4 1668.5 249.1 1672.5 247.8 1676.5 246.5 1680.5 245.2 1684.5 243.9 1688.5 242.6 1692.5 241.3 1696.5 240.0 1700.5 238.7 1704.5 237.5 1708.5 236.2 1711.5 235.2M246.5 919.8 250.5 918.0 254.5 916.3 258.5 914.5 262.5 912.7 266.5 911.0 270.5 909.2 274.5 907.4 278.5 905.7 282.5 903.9 286.5 902.2 290.5 900.4 294.5 898.6M366.5 867.4 370.5 865.7 374.5 864.0 378.5 862.2 382.5 860.5 386.5 858.8 390.5 857.1 394.5 855.4 398.5 853.7 402.5 852.0 406.5 850.3 410.5 848.6 414.5 846.9 418.5 845.2 422.5 843.5 426.5 841.8 430.5 840.1 434.5 838.4 438.5 836.7 442.5 835.0 446.5 833.3 450.5 831.6 454.5 829.9 458.5 828.2 462.5 826.6 466.5 824.9 470.5 823.2 474.5 821.5 478.5 819.8 482.5 818.2 486.5 816.5 490.5 814.8 494.5 813.2 498.5 811.5 502.5 809.8 506.5 808.2 510.5 806.5 514.5 804.8 518.5 803.2 522.5 801.5 526.5 799.8 530.5 798.2 534.5 796.5 538.5 794.9 542.5 793.2 546.5 791.6 550.5 789.9 554.5 788.3 558.5 786.6 562.5 785.0 566.5 783.3 570.5 781.7 574.5 780.1 578.5 778.4 582.5 776.8 586.5 775.1 590.5 773.5 594.5 771.9 598.5 770.2 602.5 768.6 606.5 767.0 610.5 765.3 614.5 763.7 618.5 762.1 622.5 760.5 626.5 758.8 630.5 757.2 634.5 755.6 638.5 754.0 642.5 752.4 646.5 750.8 650.5 749.1 654.5 747.5 658.5 745.9 662.5 744.3 666.5 742.7 670.5 741.1 674.5 739.5 678.5 737.9 682.5 736.3 686.5 734.7 690.5 733.1 694.5 731.5 698.5 729.9 702.5 728.3 706.5 726.7 710.5 725.1 714.5 723.5 718.5 721.9 722.5 720.3 726.5 718.7 730.5 717.1 731.5 716.7M805.5 687.6 809.5 686.0 813.5 684.5 817.5 682.9 821.5 681.3 825.5 679.8 829.5 678.2 833.5 676.7 837.5 675.1 841.5 673.6 845.5 672.0 849.5 670.5 853.5 668.9 857.5 667.4 861.5 665.8 865.5 664.3 869.5 662.7 873.5 661.2 877.5 659.6 881.5 658.1 885.5 656.5 889.5 655.0 893.5 653.5 897.5 651.9 901.5 650.4 905.5 648.9 909.5 647.3 913.5 645.8 917.5 644.3 921.5 642.7 925.5 641.2 929.5 639.7 933.5 638.1 937.5 636.6 941.5 635.1 945.5 633.6 949.5 632.0 953.5 630.5 957.5 629.0 961.5 627.5 965.5 626.0 969.5 624.4 973.5 622.9 977.5 621.4 981.5 619.9 985.5 618.4 989.5 616.9 993.5 615.4 997.5 613.9 1001.5 612.4 1005.5 610.8 1009.5 609.3 1013.5 607.8 1017.5 606.3 1021.5 604.8 1025.5 603.3 1029.5 601.8 1033.5 600.3 1037.5 598.8 1041.5 597.3 1045.5 595.8 1049.5 594.3 1053.5 592.8 1057.5 591.3 1061.5 589.9 1065.5 588.4 1069.5 586.9 1073.5 585.4 1077.5 583.9 1081.5 582.4 1085.5 580.9 1089.5 579.4 1093.5 578.0 1097.5 576.5 1101.5 575.0 1105.5 573.5 1109.5 572.0 1113.5 570.6 1117.5 569.1 1121.5 567.6 1125.5 566.1 1129.5 564.6 1133.5 563.2 1137.5 561.7 1141.5 560.2 1145.5 558.8 1149.5 557.3 1153.5 555.8 1157.5 554.4 1161.5 552.9 1165.5 551.4 1169.5 550.0 1173.5 548.5 1176.5 547.4M1250.5 520.5 1254.5 519.1 1258.5 517.6 1262.5 516.2 1266.5 514.7 1270.5 513.3 1274.5 511.8 1278.5 510.4 1282.5 509.0 1286.5 507.5 1290.5 506.1 1294.5 504.7 1298.5 503.2 1302.5 501.8 1306.5 500.4 1310.5 498.9 1314.5 497.5 1318.5 496.1 1322.5 494.6 1326.5 493.2 1330.5 491.8 1334.5 490.4 1338.5 488.9 1342.5 487.5 1346.5 486.1 1350.5 484.7 1354.5 483.2 1358.5 481.8 1362.5 480.4 1366.5 479.0 1370.5 477.6 1374.5 476.2 1378.5 474.7 1382.5 473.3 1386.5 471.9 1390.5 470.5 1394.5 469.1 1398.5 467.7 1402.5 466.3 1406.5 464.8 1410.5 463.4 1414.5 462.0 1418.5 460.6 1422.5 459.2 1426.5 457.8 1430.5 456.4 1434.5 455.0 1438.5 453.6 1442.5 452.2 1446.5 450.8 1450.5 449.4 1454.5 448.0 1458.5 446.6 1462.5 445.2 1466.5 443.8 1470.5 442.4 1474.5 441.0 1478.5 439.6 1482.5 438.2 1486.5 436.8 1490.5 435.4 1494.5 434.0 1498.5 432.7 1502.5 431.3 1506.5 429.9 1510.5 428.5 1514.5 427.1 1518.5 425.7 1522.5 424.3 1526.5 422.9 1530.5 421.6 1534.5 420.2 1538.5 418.8 1542.5 417.4 1546.5 416.0 1550.5 414.6 1554.5 413.3 1558.5 411.9 1562.5 410.5 1566.5 409.1 1570.5 407.8 1574.5 406.4 1578.5 405.0 1582.5 403.6 1586.5 402.3 1590.5 400.9 1594.5 399.5 1598.5 398.2 1602.5 396.8 1606.5 395.4 1610.5 394.0 1614.5 392.7 1618.5 391.3 1622.5 389.9 1626.5 388.6 1630.5 387.2 1634.5 385.9 1638.5 384.5 1642.5 383.1 1646.5 381.8 1650.5 380.4 1654.5 379.1 1658.5 377.7 1662.5 376.3 1666.5 375.0 1670.5 373.6 1674.5 372.3 1678.5 370.9 1682.5 369.6 1686.5 368.2 1690.5 366.9 1694.5 365.5 1698.5 364.1 1702.5 362.8 1706.5 361.4 1710.5 360.1 1711.5 359.8M246.5 1093.8 250.5 1091.8 254.5 1089.9 258.5 1087.9 262.5 1086.0 266.5 1084.0 270.5 1082.0 274.5 1080.1 278.5 1078.1 282.5 1076.2 286.5 1074.2 290.5 1072.3 294.5 1070.4 295.5 1069.9M367.5 1035.4 371.5 1033.5 375.5 1031.6 379.5 1029.7 383.5 1027.8 387.5 1025.9 391.5 1024.0 395.5 1022.2 399.5 1020.3 403.5 1018.4 407.5 1016.5 411.5 1014.7 415.5 1012.8 419.5 1010.9 423.5 1009.0 427.5 1007.2 431.5 1005.3 435.5 1003.5 439.5 1001.6 443.5 999.8 447.5 997.9 451.5 996.0 455.5 994.2 459.5 992.4 463.5 990.5 467.5 988.7 471.5 986.8 475.5 985.0 479.5 983.1 483.5 981.3 487.5 979.5 491.5 977.7 495.5 975.8 499.5 974.0 503.5 972.2 507.5 970.4 511.5 968.5 515.5 966.7 519.5 964.9 523.5 963.1 527.5 961.3 531.5 959.5 535.5 957.7 539.5 955.8 543.5 954.0 547.5 952.2 551.5 950.4 555.5 948.6 559.5 946.8 563.5 945.1 567.5 943.3 571.5 941.5 575.5 939.7 579.5 937.9 583.5 936.1 587.5 934.3 591.5 932.5 595.5 930.8 599.5 929.0 603.5 927.2 607.5 925.4 611.5 923.7 615.5 921.9 619.5 920.1 623.5 918.4 627.5 916.6 631.5 914.8 635.5 913.1 639.5 911.3 643.5 909.6 647.5 907.8 651.5 906.0 655.5 904.3 659.5 902.5 663.5 900.8 667.5 899.1 671.5 897.3 675.5 895.6 679.5 893.8 683.5 892.1 687.5 890.3 691.5 888.6 695.5 886.9 699.5 885.1 703.5 883.4 707.5 881.7 711.5 879.9 715.5 878.2 719.5 876.5 723.5 874.8 727.5 873.1M799.5 842.4 803.5 840.7 807.5 839.0 811.5 837.3 815.5 835.6 819.5 833.9 823.5 832.2 827.5 830.6 831.5 828.9 835.5 827.2 839.5 825.5 843.5 823.8 847.5 822.2 851.5 820.5 855.5 818.8 859.5 817.2 863.5 815.5 867.5 813.8 871.5 812.2 875.5 810.5 879.5 808.8 883.5 807.2 887.5 805.5 891.5 803.9 895.5 802.2 899.5 800.6 903.5 798.9 907.5 797.3 911.5 795.6 915.5 794.0 919.5 792.3 923.5 790.7 927.5 789.0 931.5 787.4 935.5 785.7 939.5 784.1 943.5 782.5 947.5 780.8 951.5 779.2 955.5 777.6 959.5 775.9 963.5 774.3 967.5 772.7 971.5 771.0 975.5 769.4 979.5 767.8 983.5 766.2 987.5 764.5 991.5 762.9 995.5 761.3 999.5 759.7 1003.5 758.1 1007.5 756.4 1011.5 754.8 1015.5 753.2 1019.5 751.6 1023.5 750.0 1027.5 748.4 1031.5 746.8 1035.5 745.2 1039.5 743.6 1043.5 742.0 1047.5 740.4 1051.5 738.8 1055.5 737.2 1059.5 735.6 1063.5 734.0 1067.5 732.4 1071.5 730.8 1075.5 729.2 1079.5 727.6 1083.5 726.0 1087.5 724.4 1091.5 722.8 1095.5 721.2 1099.5 719.7 1103.5 718.1 1107.5 716.5 1111.5 714.9 1115.5 713.3 1119.5 711.7 1123.5 710.2 1127.5 708.6 1131.5 707.0 1135.5 705.4 1139.5 703.9 1143.5 702.3 1147.5 700.7 1151.5 699.2 1155.5 697.6 1159.5 696.0 1163.5 694.5 1165.5 693.7M1239.5 664.9 1243.5 663.4 1247.5 661.9 1251.5 660.3 1255.5 658.8 1259.5 657.3 1263.5 655.7 1267.5 654.2 1271.5 652.7 1275.5 651.1 1279.5 649.6 1283.5 648.1 1287.5 646.5 1291.5 645.0 1295.5 643.5 1299.5 641.9 1303.5 640.4 1307.5 638.9 1311.5 637.4 1315.5 635.9 1319.5 634.3 1323.5 632.8 1327.5 631.3 1331.5 629.8 1335.5 628.3 1339.5 626.8 1343.5 625.2 1347.5 623.7 1351.5 622.2 1355.5 620.7 1359.5 619.2 1363.5 617.7 1367.5 616.2 1371.5 614.7 1375.5 613.2 1379.5 611.7 1383.5 610.2 1387.5 608.7 1391.5 607.2 1395.5 605.7 1399.5 604.2 1403.5 602.7 1407.5 601.2 1411.5 599.7 1415.5 598.2 1419.5 596.7 1423.5 595.2 1427.5 593.7 1431.5 592.2 1435.5 590.7 1439.5 589.2 1443.5 587.8 1447.5 586.3 1451.5 584.8 1455.5 583.3 1459.5 581.8 1463.5 580.3 1467.5 578.9 1471.5 577.4 1475.5 575.9 1479.5 574.4 1483.5 573.0 1487.5 571.5 1491.5 570.0 1495.5 568.5 1499.5 567.1 1503.5 565.6 1507.5 564.1 1511.5 562.6 1515.5 561.2 1519.5 559.7 1523.5 558.2 1527.5 556.8 1531.5 555.3 1535.5 553.9 1539.5 552.4 1543.5 550.9 1547.5 549.5 1551.5 548.0 1555.5 546.5 1559.5 545.1 1563.5 543.6 1567.5 542.2 1571.5 540.7 1575.5 539.3 1579.5 537.8 1583.5 536.4 1587.5 534.9 1591.5 533.5 1595.5 532.0 1599.5 530.6 1603.5 529.1 1607.5 527.7 1610.5 526.6M1684.5 500.0 1688.5 498.6 1692.5 497.2 1696.5 495.7 1700.5 494.3 1704.5 492.9 1708.5 491.5 1711.5 490.4M559.5 1123.1 563.5 1121.1 567.5 1119.1 571.5 1117.1 575.5 1115.2 579.5 1113.2 583.5 1111.2 587.5 1109.2 591.5 1107.2 595.5 1105.2 599.5 1103.3 603.5 1101.3 607.5 1099.3 611.5 1097.4 615.5 1095.4 619.5 1093.4 623.5 1091.5 627.5 1089.5 631.5 1087.6 635.5 1085.6 639.5 1083.7 643.5 1081.7 647.5 1079.8 651.5 1077.8 655.5 1075.9 659.5 1074.0 663.5 1072.0 667.5 1070.1 671.5 1068.2 675.5 1066.2 679.5 1064.3 683.5 1062.4 687.5 1060.5 691.5 1058.5 695.5 1056.6 699.5 1054.7 703.5 1052.8 707.5 1050.9 711.5 1049.0 713.5 1048.0M785.5 1014.1 789.5 1012.3 793.5 1010.4 797.5 1008.6 801.5 1006.7 805.5 1004.9 809.5 1003.0 813.5 1001.2 817.5 999.3 821.5 997.5 825.5 995.6 829.5 993.8 833.5 991.9 837.5 990.1 841.5 988.3 845.5 986.4 849.5 984.6 853.5 982.8 857.5 980.9 861.5 979.1 865.5 977.3 869.5 975.5 873.5 973.7 877.5 971.8 881.5 970.0 885.5 968.2 889.5 966.4 893.5 964.6 897.5 962.8 901.5 961.0 905.5 959.2 909.5 957.4 913.5 955.6 917.5 953.8 921.5 952.0 925.5 950.2 929.5 948.4 933.5 946.6 937.5 944.8 941.5 943.0 945.5 941.3 949.5 939.5 953.5 937.7 957.5 935.9 961.5 934.1 965.5 932.4 969.5 930.6 973.5 928.8 977.5 927.1 981.5 925.3 985.5 923.5 989.5 921.8 993.5 920.0 997.5 918.2 1001.5 916.5 1005.5 914.7 1009.5 913.0 1013.5 911.2 1017.5 909.5 1021.5 907.7 1025.5 906.0 1029.5 904.2 1033.5 902.5 1037.5 900.7 1041.5 899.0 1045.5 897.3 1049.5 895.5 1053.5 893.8 1057.5 892.1 1061.5 890.3 1065.5 888.6 1069.5 886.9 1073.5 885.1 1077.5 883.4 1081.5 881.7 1085.5 880.0 1089.5 878.2 1093.5 876.5 1097.5 874.8 1101.5 873.1 1105.5 871.4 1109.5 869.7 1113.5 868.0 1117.5 866.3 1121.5 864.5 1125.5 862.8 1129.5 861.1 1133.5 859.4 1137.5 857.7 1141.5 856.0 1145.5 854.3 1147.5 853.5M1219.5 823.2 1223.5 821.6 1227.5 819.9 1231.5 818.2 1235.5 816.6 1239.5 814.9 1243.5 813.2 1247.5 811.6 1251.5 809.9 1255.5 808.3 1259.5 806.6 1263.5 805.0 1267.5 803.3 1271.5 801.7 1275.5 800.0 1279.5 798.4 1283.5 796.7 1287.5 795.1 1291.5 793.4 1295.5 791.8 1299.5 790.2 1303.5 788.5 1307.5 786.9 1311.5 785.3 1315.5 783.6 1319.5 782.0 1323.5 780.4 1327.5 778.7 1331.5 777.1 1335.5 775.5 1339.5 773.8 1343.5 772.2 1347.5 770.6 1351.5 769.0 1355.5 767.4 1359.5 765.7 1363.5 764.1 1367.5 762.5 1371.5 760.9 1375.5 759.3 1379.5 757.7 1383.5 756.1 1387.5 754.5 1391.5 752.8 1395.5 751.2 1399.5 749.6 1403.5 748.0 1407.5 746.4 1411.5 744.8 1415.5 743.2 1419.5 741.6 1423.5 740.0 1427.5 738.4 1431.5 736.8 1435.5 735.2 1439.5 733.7 1443.5 732.1 1447.5 730.5 1451.5 728.9 1455.5 727.3 1459.5 725.7 1463.5 724.1 1467.5 722.6 1471.5 721.0 1475.5 719.4 1479.5 717.8 1483.5 716.2 1487.5 714.7 1491.5 713.1 1495.5 711.5 1499.5 709.9 1503.5 708.4 1507.5 706.8 1511.5 705.2 1515.5 703.7 1519.5 702.1 1523.5 700.5 1527.5 699.0 1531.5 697.4 1535.5 695.8 1539.5 694.3 1543.5 692.7 1547.5 691.2 1551.5 689.6 1555.5 688.0 1559.5 686.5 1563.5 684.9 1567.5 683.4 1571.5 681.8 1575.5 680.3 1579.5 678.7 1583.5 677.2 1586.5 676.0M1660.5 647.6 1664.5 646.1 1668.5 644.6 1672.5 643.1 1676.5 641.5 1680.5 640.0 1684.5 638.5 1688.5 637.0 1692.5 635.5 1696.5 634.0 1700.5 632.4 1704.5 630.9 1708.5 629.4 1711.5 628.3M931.5 1123.1 935.5 1121.1 939.5 1119.1 943.5 1117.1 947.5 1115.2 951.5 1113.2 955.5 1111.2 959.5 1109.2 963.5 1107.3 967.5 1105.3 971.5 1103.3 975.5 1101.4 979.5 1099.4 983.5 1097.4 987.5 1095.5 991.5 1093.5 995.5 1091.6 999.5 1089.6 1003.5 1087.7 1007.5 1085.7 1011.5 1083.8 1015.5 1081.9 1019.5 1079.9 1023.5 1078.0 1027.5 1076.1 1031.5 1074.1 1035.5 1072.2 1039.5 1070.3 1043.5 1068.4 1047.5 1066.4 1051.5 1064.5 1055.5 1062.6 1059.5 1060.7 1063.5 1058.8 1067.5 1056.9 1071.5 1055.0 1075.5 1053.1 1079.5 1051.2 1083.5 1049.3 1087.5 1047.4 1091.5 1045.5 1095.5 1043.6 1099.5 1041.7 1103.5 1039.8 1107.5 1037.9 1111.5 1036.0 1115.5 1034.2 1119.5 1032.3 1123.5 1030.4 1127.5 1028.5 1131.5 1026.7 1135.5 1024.8 1139.5 1022.9 1143.5 1021.1 1147.5 1019.2 1151.5 1017.3 1155.5 1015.5 1159.5 1013.6 1163.5 1011.8 1167.5 1009.9 1171.5 1008.1 1175.5 1006.2 1179.5 1004.4 1183.5 1002.5 1187.5 1000.7 1191.5 998.8 1195.5 997.0 1199.5 995.2 1203.5 993.3 1207.5 991.5 1211.5 989.7 1215.5 987.8 1219.5 986.0 1223.5 984.2 1227.5 982.4 1231.5 980.6 1235.5 978.7 1239.5 976.9 1243.5 975.1 1247.5 973.3 1251.5 971.5 1255.5 969.7 1259.5 967.9 1263.5 966.1 1267.5 964.3 1271.5 962.5 1275.5 960.7 1279.5 958.9 1283.5 957.1 1287.5 955.3 1291.5 953.5 1295.5 951.7 1299.5 949.9 1303.5 948.1 1307.5 946.4 1311.5 944.6 1315.5 942.8 1319.5 941.0 1323.5 939.3 1327.5 937.5 1331.5 935.7 1335.5 933.9 1339.5 932.2 1343.5 930.4 1347.5 928.6 1351.5 926.9 1355.5 925.1 1359.5 923.4 1363.5 921.6 1367.5 919.9 1371.5 918.1 1375.5 916.3 1379.5 914.6 1383.5 912.8 1387.5 911.1 1391.5 909.4 1395.5 907.6 1399.5 905.9 1403.5 904.1 1407.5 902.4 1411.5 900.7 1415.5 898.9 1419.5 897.2 1423.5 895.5 1427.5 893.7 1431.5 892.0 1435.5 890.3 1439.5 888.6 1443.5 886.8 1447.5 885.1 1451.5 883.4 1455.5 881.7 1459.5 880.0 1463.5 878.2 1467.5 876.5 1471.5 874.8 1475.5 873.1 1479.5 871.4 1483.5 869.7 1487.5 868.0 1491.5 866.3 1495.5 864.6 1499.5 862.9 1503.5 861.2 1507.5 859.5 1511.5 857.8 1515.5 856.1 1519.5 854.4 1523.5 852.7 1527.5 851.0 1531.5 849.4 1535.5 847.7 1539.5 846.0 1543.5 844.3 1547.5 842.6 1551.5 840.9 1555.5 839.3 1559.5 837.6 1563.5 835.9 1567.5 834.2 1571.5 832.6 1575.5 830.9 1579.5 829.2 1583.5 827.6 1587.5 825.9 1591.5 824.2 1595.5 822.6 1599.5 820.9 1603.5 819.3 1607.5 817.6 1611.5 815.9 1612.5 815.5M1648.5 800.7 1652.5 799.0 1656.5 797.4 1660.5 795.8 1664.5 794.1 1668.5 792.5 1672.5 790.9 1676.5 789.2 1680.5 787.6 1684.5 786.0 1688.5 784.3 1692.5 782.7 1696.5 781.1 1700.5 779.5 1704.5 777.8 1708.5 776.2 1711.5 775.0M1303.5 1123.0 1307.5 1121.1 1311.5 1119.1 1315.5 1117.1 1319.5 1115.1 1323.5 1113.2 1327.5 1111.2 1331.5 1109.2 1335.5 1107.3 1339.5 1105.3 1343.5 1103.3 1347.5 1101.4 1351.5 1099.4 1355.5 1097.5 1359.5 1095.5 1363.5 1093.6 1367.5 1091.7 1371.5 1089.7 1375.5 1087.8 1379.5 1085.8 1383.5 1083.9 1387.5 1082.0 1391.5 1080.0 1395.5 1078.1 1399.5 1076.2 1403.5 1074.3 1407.5 1072.4 1411.5 1070.4 1415.5 1068.5 1419.5 1066.6 1423.5 1064.7 1427.5 1062.8 1431.5 1060.9 1435.5 1059.0 1439.5 1057.1 1443.5 1055.2 1447.5 1053.3 1451.5 1051.4 1455.5 1049.5 1459.5 1047.6 1463.5 1045.7 1467.5 1043.9 1471.5 1042.0 1475.5 1040.1 1479.5 1038.2 1483.5 1036.3 1487.5 1034.5 1491.5 1032.6 1495.5 1030.7 1499.5 1028.9 1503.5 1027.0 1507.5 1025.1 1511.5 1023.3 1515.5 1021.4 1519.5 1019.6 1523.5 1017.7 1527.5 1015.9 1531.5 1014.0 1535.5 1012.2 1539.5 1010.3 1543.5 1008.5 1547.5 1006.6 1551.5 1004.8 1555.5 1003.0 1559.5 1001.1 1563.5 999.3 1565.5 998.4M1637.5 965.7 1641.5 963.9 1645.5 962.1 1649.5 960.4 1653.5 958.6 1657.5 956.8 1661.5 955.0 1665.5 953.2 1669.5 951.4 1673.5 949.7 1677.5 947.9 1681.5 946.1 1685.5 944.3 1689.5 942.6 1693.5 940.8 1697.5 939.0 1701.5 937.3 1705.5 935.5 1709.5 933.7 1711.5 932.8M1674.5 1123.5 1678.5 1121.5 1682.5 1119.5 1686.5 1117.6 1690.5 1115.6 1694.5 1113.6 1698.5 1111.7 1702.5 1109.7 1706.5 1107.8 1710.5 1105.8 1711.5 1105.3" stroke="#000" stroke-width="1" fill="none" shape-rendering="crispEdges"/>
<rect x="1119.5" y="966.5" width="268" height="141" fill="#fff" stroke="#000" stroke-width="1" shape-rendering="crispEdges"/>
<path d="M1175 1002h5v1h-5zM1176 1003h1v2h-1zM1178 1003h1v2h-1zM1177 1005h1v1h-1z" fill="#00f"/>
<path d="M1177 1066h1v1h-1zM1176 1067h1v2h-1zM1178 1067h1v2h-1zM1175 1069h5v1h-5z" fill="#f00"/>
<text transform="matrix(0.93421 0.00000 0.00000 1.00000 1227.132 1025.000)" font-size="44">descent</text>
<text transform="matrix(0.93701 0.00000 0.00000 0.96552 1227.126 1091.000)" font-size="44">ascent</text>
<text transform="matrix(0.96186 0.00000 0.00000 1.00000 745.114 1221.000)" font-size="52.5">Salinity (S [PSS-78])</text>
<text transform="matrix(0.93698 0.00000 0.00000 1.00000 1135.126 1246.000)" font-size="44">Serial #: 231&#160; CAL: 2012-10-19</text>
<text transform="matrix(0.00000 -0.92941 1.00000 0.00000 163.000 940.718)" font-size="54">Potential temperature</text>
<text transform="matrix(0.00000 -0.87097 1.03571 0.00000 162.000 442.742)" font-size="54">σ</text>
<text transform="matrix(0.00000 -0.94737 1.00000 0.00000 187.000 413.895)" font-size="40">0</text>
<text transform="matrix(0.00000 -0.78571 0.96000 0.00000 162.440 376.357)" font-size="54">(</text>
<text transform="matrix(0.00000 -0.93939 1.02703 0.00000 162.000 342.818)" font-size="54">C</text>
<text transform="matrix(0.00000 -0.71429 0.96000 0.00000 162.440 304.714)" font-size="54">)</text>
<circle cx="133.5" cy="351" r="6.8" fill="none" stroke="#000" stroke-width="1.1" shape-rendering="crispEdges"/>
</svg>
</body></html>
